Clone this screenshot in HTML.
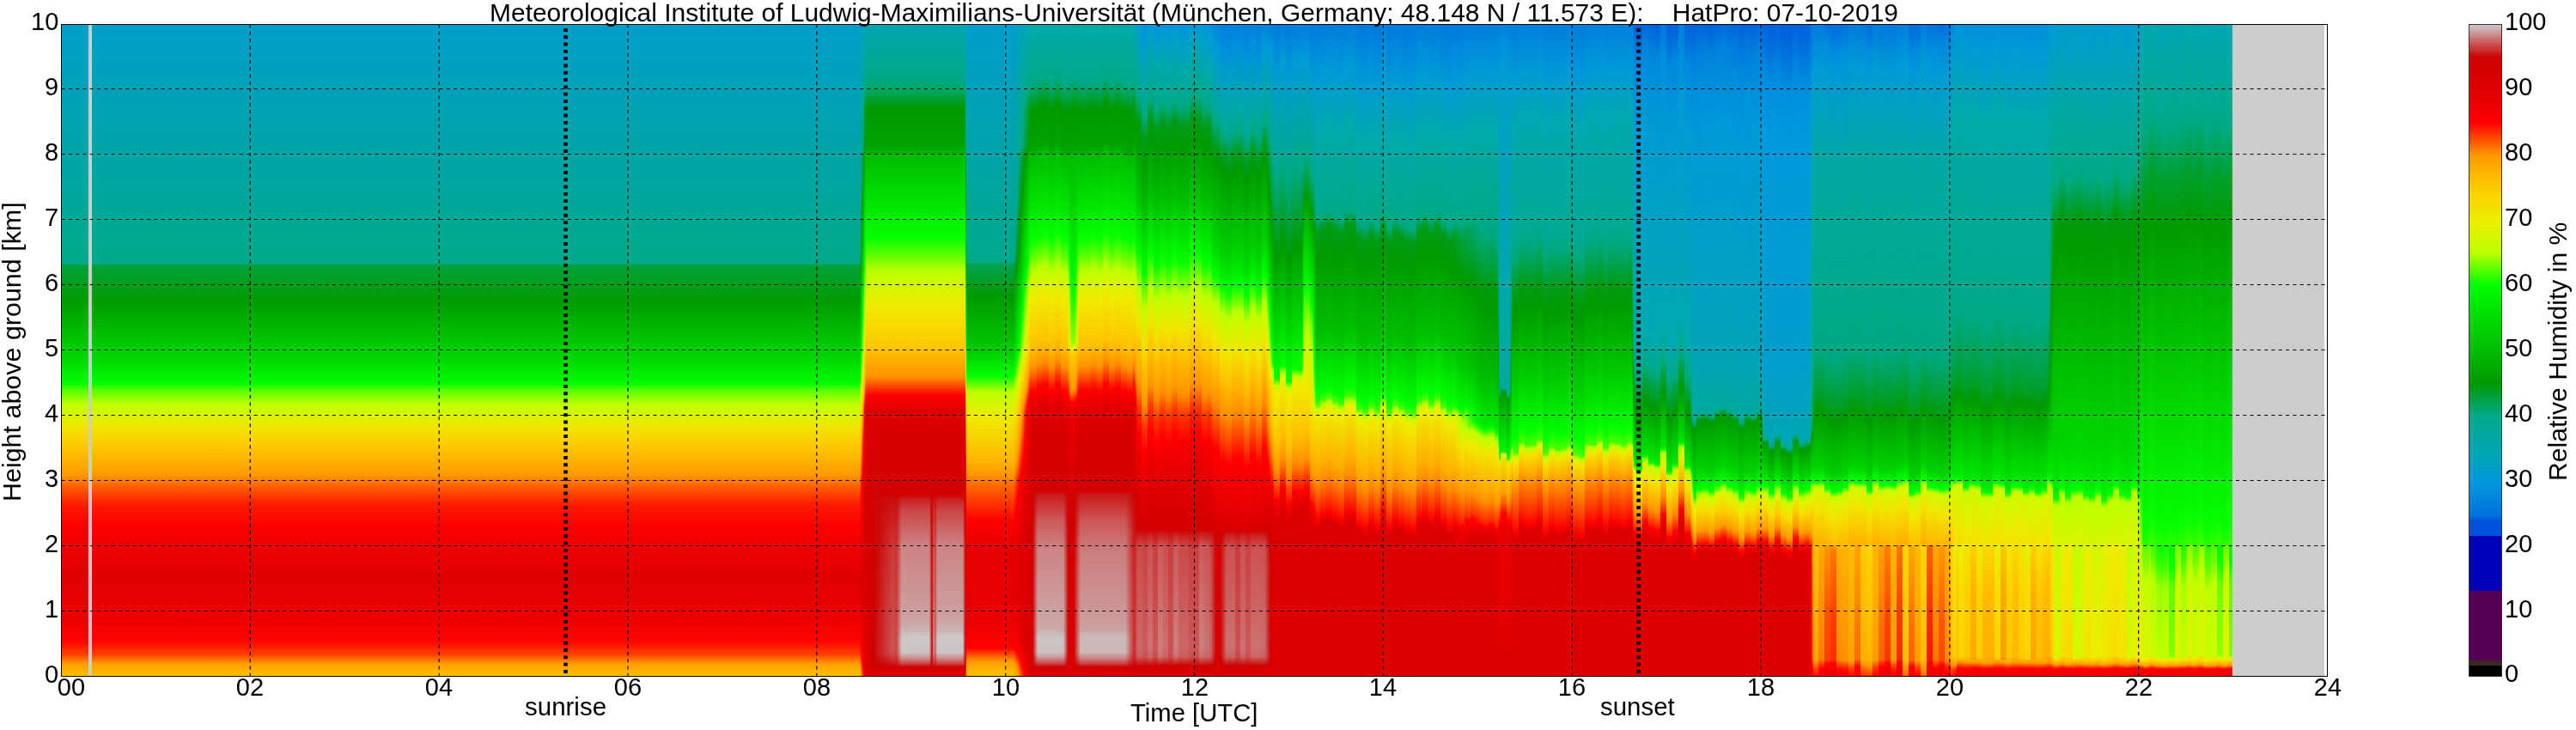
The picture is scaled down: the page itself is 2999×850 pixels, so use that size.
<!DOCTYPE html>
<html><head><meta charset="utf-8"><style>
html,body{margin:0;padding:0}
body{width:2999px;height:850px;overflow:hidden;background:#fff;position:relative;font-family:"Liberation Sans",sans-serif}
.t{position:absolute;white-space:nowrap;color:#000;font-size:29px;line-height:29px;transform-origin:0 0;will-change:transform}
.yl{right:2930.6px;text-align:right}
.xl{top:786px;width:100px;text-align:center}
.cl{left:2916px}
#hm{position:absolute;left:72px;top:29px;width:2637px;height:758px;overflow:hidden}
#hm i{position:absolute;top:0;height:758px;display:block}
#frame{position:absolute;left:71px;top:28px;width:2639px;height:760px;box-sizing:border-box;border:1px solid #000}
#cb{position:absolute;left:2874px;top:28px;width:39px;height:760px;box-sizing:border-box;border:1px solid #333;background:linear-gradient(#ccc9c9 0px,#cc0202 37.5px,#e40000 83.5px,#f00 113.5px,#ff9a00 152.5px,#fbd300 197.5px,#eaef00 230.5px,#baff00 265.5px,#0f0 303.5px,#009902 417.5px,#00aa89 455.5px,#00a7b5 500.5px,#0097dd 532.5px,#0074dd 569.5px,#0061dd 575.5px,#0050dd 576.5px,#0050dd 594.5px,#00b 595.5px,#00b 658.5px,#505 659.5px,#505 739.5px,#3a2a20 740.5px,#3a2a20 745.5px,#000 746.5px,#000 758px)}
svg{position:absolute;left:0;top:0}
</style></head><body>
<div id="hm">
<i style="left:0px;width:400px;background:linear-gradient(#009fca 0px,#00aa8e 261.5px,#0a8 277.5px,#00a13c 280.5px,#009c00 320.5px,#00d900 390.5px,#00fe00 417.5px,#50ff00 424.5px,#befe00 441.5px,#f2e600 467.5px,#ffbe00 498.5px,#ff9c00 523.5px,#ff5900 539.5px,#ff1b00 558.5px,#fb0000 583.5px,#df0000 642.5px,#ed0000 693.5px,#ff0600 718.5px,#ff4300 733.5px,#ff9b00 743.5px,#ffc000 758px)"></i>
<i style="left:400px;width:400px;background:linear-gradient(#009fca 0px,#00aa8e 261.5px,#0a8 277.5px,#00a13c 280.5px,#009c00 320.5px,#00d900 390.5px,#00fe00 417.5px,#50ff00 424.5px,#befe00 441.5px,#f2e600 467.5px,#ffbe00 498.5px,#ff9c00 523.5px,#ff5900 539.5px,#ff1b00 558.5px,#fb0000 583.5px,#df0000 642.5px,#ed0000 693.5px,#ff0600 718.5px,#ff4300 733.5px,#ff9b00 743.5px,#ffc000 758px)"></i>
<i style="left:800px;width:129px;background:linear-gradient(#009fca 0px,#00aa8e 261.5px,#0a8 277.5px,#00a13c 280.5px,#009c00 320.5px,#00d900 390.5px,#00fe00 417.5px,#50ff00 424.5px,#befe00 441.5px,#f2e600 467.5px,#ffbe00 498.5px,#ff9c00 523.5px,#ff5900 539.5px,#ff1b00 558.5px,#fb0000 583.5px,#df0000 642.5px,#ed0000 693.5px,#ff0600 718.5px,#ff4300 733.5px,#ff9b00 743.5px,#ffc000 758px)"></i>
<i style="left:929px;width:1px;background:linear-gradient(#00a0c8 0px,#00aa87 251.5px,#00a45a 277.5px,#009b13 280.5px,#009a00 293.5px,#00d500 378.5px,#03ff00 413.5px,#89ff00 424.5px,#bdfe00 433.5px,#f1e700 460.5px,#ffb800 493.5px,#ff9700 520.5px,#f50 533.5px,#ff0800 558.5px,#f40000 588.5px,#d00 655.5px,#f10000 702.5px,#ff0400 722.5px,#ff2e00 733.5px,#ff9a00 746.5px,#ffb600 758px)"></i>
<i style="left:930px;width:1px;background:linear-gradient(#00a1c5 0px,#00a982 199.5px,#00a03a 246.5px,#009e00 278.5px,#00ac00 283.5px,#00ec00 378.5px,#05ff00 394.5px,#70ff00 412.5px,#befe00 419.5px,#f2e600 445.5px,#fa0 483.5px,#ff8f00 506.5px,#ff6800 518.5px,#ff2400 533.5px,#fe0000 547.5px,#dc0000 647.5px,#ea0000 699.5px,#ff0600 733.5px,#ff9b00 754.5px,#ffa200 758px)"></i>
<i style="left:931px;width:1px;background:linear-gradient(#00a2c1 0px,#00aa93 122.5px,#00aa89 147.5px,#00a66c 163.5px,#009b00 236.5px,#00b500 278.5px,#00c200 286.5px,#05ff00 374.5px,#bf0 405.5px,#f0ea00 428.5px,#ffba00 459.5px,#ff9000 481.5px,#ff6800 495.5px,#ff2d00 518.5px,#fe0000 530.5px,#db0000 636.5px,#e50000 700.5px,#ff0200 739.5px,#f70 758px)"></i>
<i style="left:932px;width:1px;background:linear-gradient(#00a3be 0px,#00aa89 116.5px,#00a97c 142.5px,#00a143 150.5px,#009b00 195.5px,#00cb00 278.5px,#00df00 297.5px,#05ff00 343.5px,#74ff00 371.5px,#bdfe00 385.5px,#f2e600 418.5px,#ffb900 441.5px,#ff8e00 463.5px,#ff3500 487.5px,#fd0000 517.5px,#e50000 576.5px,#db0000 680.5px,#f80000 742.5px,#ff0400 748.5px,#ff3a00 758px)"></i>
<i style="left:933px;width:1px;background:linear-gradient(#00a5ba 0px,#00aa85 89.5px,#00a66b 99.5px,#00a350 142.5px,#009a09 150.5px,#009e00 165.5px,#00e100 278.5px,#04ff00 311.5px,#bcff00 359.5px,#f1e700 401.5px,#fb0 428.5px,#ff9500 441.5px,#f60 447.5px,#fe0000 482.5px,#d00 573.5px,#de0000 710.5px,#f50000 749.5px,#fe0000 758px)"></i>
<i style="left:934px;width:1px;background:linear-gradient(#00a6b7 0px,#00aa84 79.5px,#00a140 98.5px,#009e25 142.5px,#009903 145.5px,#0a0 158.5px,#00fa00 279.5px,#0aff00 285.5px,#a0ff00 318.5px,#befe00 328.5px,#f3e400 382.5px,#ffbf00 413.5px,#ff9300 430.5px,#ff0200 446.5px,#d90000 556.5px,#df0000 738.5px,#f10000 758px)"></i>
<i style="left:935px;width:1px;background:linear-gradient(#00a7b3 0px,#00a97f 72.5px,#009c15 98.5px,#009e00 143.5px,#00b600 153.5px,#02ff00 261.5px,#5cff00 279.5px,#bdfe00 298.5px,#f0ea00 348.5px,#ffbf00 392.5px,#f90 415.5px,#ff1900 433.5px,#fe0000 436.5px,#e70000 450.5px,#d50000 592.5px,#df0000 753.5px,#e30000 758px)"></i>
<i style="left:936px;width:7px;background:linear-gradient(#00a7b2 0px,#00a981 65.5px,#00a55c 77.5px,#090 97.5px,#00a400 143.5px,#00bd00 152.5px,#05ff00 247.5px,#57ff00 266.5px,#bdfe00 287.5px,#efec00 326.5px,#ffc600 375.5px,#ff9200 409.5px,#fe0000 431.5px,#d00 449.5px,#d50000 649.5px,#d00 758px)"></i>
<i style="left:943px;width:3px;background:linear-gradient(#00a7b2 0px,#00a981 65.5px,#00a55c 77.5px,#090 97.5px,#00a400 143.5px,#00bd00 152.5px,#05ff00 247.5px,#57ff00 266.5px,#bdfe00 287.5px,#efec00 326.5px,#ffc600 375.5px,#ff9200 409.5px,#fe0000 431.5px,#d00 449.5px,#cc0303 602.5px,#c00 747.5px,#d90000 748.5px,#d00 758px)"></i>
<i style="left:946px;width:3px;background:linear-gradient(#00a7b2 0px,#00a981 65.5px,#00a55c 77.5px,#090 97.5px,#00a400 143.5px,#00bd00 152.5px,#05ff00 247.5px,#57ff00 266.5px,#bdfe00 287.5px,#efec00 326.5px,#ffc600 375.5px,#ff9200 409.5px,#fe0000 431.5px,#d00 449.5px,#cc0808 582.5px,#cc0b0b 737.5px,#c00 747.5px,#d90000 748.5px,#d00 758px)"></i>
<i style="left:949px;width:3px;background:linear-gradient(#00a7b2 0px,#00a981 65.5px,#00a55c 77.5px,#090 97.5px,#00a400 143.5px,#00bd00 152.5px,#05ff00 247.5px,#57ff00 266.5px,#bdfe00 287.5px,#efec00 326.5px,#ffc600 375.5px,#ff9200 409.5px,#fe0000 431.5px,#d00 449.5px,#cc0606 556.5px,#cc1919 731.5px,#cc0101 747.5px,#d90000 748.5px,#d00 758px)"></i>
<i style="left:952px;width:3px;background:linear-gradient(#00a7b2 0px,#00a981 65.5px,#00a55c 77.5px,#090 97.5px,#00a400 143.5px,#00bd00 152.5px,#05ff00 247.5px,#57ff00 266.5px,#bdfe00 287.5px,#efec00 326.5px,#ffc600 375.5px,#ff9200 409.5px,#fe0000 431.5px,#d00 449.5px,#d30000 546.5px,#cc0707 554.5px,#cc1a1a 638.5px,#c22 732.5px,#cc0101 747.5px,#d90000 748.5px,#d00 758px)"></i>
<i style="left:955px;width:3px;background:linear-gradient(#00a7b2 0px,#00a981 65.5px,#00a55c 77.5px,#090 97.5px,#00a400 143.5px,#00bd00 152.5px,#05ff00 247.5px,#57ff00 266.5px,#bdfe00 287.5px,#efec00 326.5px,#ffc600 375.5px,#ff9200 409.5px,#fe0000 431.5px,#d00 449.5px,#d30000 546.5px,#cc0909 554.5px,#cc2121 625.5px,#cc2e2e 731.5px,#cc0101 747.5px,#d90000 748.5px,#d00 758px)"></i>
<i style="left:958px;width:3px;background:linear-gradient(#00a7b2 0px,#00a981 65.5px,#00a55c 77.5px,#090 97.5px,#00a400 143.5px,#00bd00 152.5px,#05ff00 247.5px,#57ff00 266.5px,#bdfe00 287.5px,#efec00 326.5px,#ffc600 375.5px,#ff9200 409.5px,#fe0000 431.5px,#d00 449.5px,#d30000 546.5px,#cc0b0b 554.5px,#cc2727 616.5px,#cc3939 708.5px,#cc3636 732.5px,#cc0707 746.5px,#cc0202 747.5px,#d90000 748.5px,#d00 758px)"></i>
<i style="left:961px;width:3px;background:linear-gradient(#00a7b2 0px,#00a981 65.5px,#00a55c 77.5px,#090 97.5px,#00a400 143.5px,#00bd00 152.5px,#05ff00 247.5px,#57ff00 266.5px,#bdfe00 287.5px,#efec00 326.5px,#ffc600 375.5px,#ff9200 409.5px,#fe0000 431.5px,#d00 449.5px,#d30000 546.5px,#cc0e0e 554.5px,#cc2e2e 611.5px,#cc4040 706.5px,#cc4242 731.5px,#cc0d0d 745.5px,#cc0202 747.5px,#d90000 748.5px,#d00 758px)"></i>
<i style="left:964px;width:3px;background:linear-gradient(#00a7b2 0px,#00a981 65.5px,#00a55c 77.5px,#090 97.5px,#00a400 143.5px,#00bd00 152.5px,#05ff00 247.5px,#57ff00 266.5px,#bdfe00 287.5px,#efec00 326.5px,#ffc600 375.5px,#ff9200 409.5px,#fe0000 431.5px,#d00 449.5px,#d30000 546.5px,#cc1010 554.5px,#cc3535 608.5px,#cc4949 705.5px,#cc5151 727.5px,#cc3838 737.5px,#cc0202 747.5px,#d90000 748.5px,#d00 758px)"></i>
<i style="left:967px;width:3px;background:linear-gradient(#00a7b2 0px,#00a981 65.5px,#00a55c 77.5px,#090 97.5px,#00a400 143.5px,#00bd00 152.5px,#05ff00 247.5px,#57ff00 266.5px,#bdfe00 287.5px,#efec00 326.5px,#ffc600 375.5px,#ff9200 409.5px,#fe0000 431.5px,#d00 449.5px,#d30000 546.5px,#cc1010 554.5px,#cc3838 607.5px,#cc4d4d 705.5px,#c55 724.5px,#cc4b4b 733.5px,#cc1010 745.5px,#cc0303 747.5px,#d90000 748.5px,#d00 758px)"></i>
<i style="left:970px;width:2px;background:linear-gradient(#00a7b2 0px,#00a981 65.5px,#00a55c 77.5px,#090 97.5px,#00a400 143.5px,#00bd00 152.5px,#05ff00 247.5px,#57ff00 266.5px,#bdfe00 287.5px,#efec00 326.5px,#ffc600 375.5px,#ff9200 409.5px,#fe0000 431.5px,#d00 449.5px,#d30000 546.5px,#cc0e0e 554.5px,#cc3030 611.5px,#cc4343 706.5px,#c44 731.5px,#cc0e0e 745.5px,#cc0202 747.5px,#d90000 748.5px,#d00 758px)"></i>
<i style="left:972px;width:1px;background:linear-gradient(#00a7b2 0px,#00a981 65.5px,#00a55c 77.5px,#090 97.5px,#00a400 143.5px,#00bd00 152.5px,#05ff00 247.5px,#57ff00 266.5px,#bdfe00 287.5px,#efec00 326.5px,#ffc600 375.5px,#ff9200 409.5px,#fe0000 431.5px,#d00 449.5px,#d30000 546.5px,#c11 554.5px,#cc3b3b 606.5px,#cc5151 705.5px,#cc5a5a 722.5px,#cc5252 732.5px,#cc1818 744.5px,#cc0303 747.5px,#d90000 748.5px,#d00 758px)"></i>
<i style="left:973px;width:1px;background:linear-gradient(#00a7b2 0px,#00a981 65.5px,#00a55c 77.5px,#090 97.5px,#00a400 143.5px,#00bd00 152.5px,#05ff00 247.5px,#57ff00 266.5px,#bdfe00 287.5px,#efec00 326.5px,#ffc600 375.5px,#ff9200 409.5px,#fe0000 431.5px,#d00 449.5px,#d30000 546.5px,#cc1515 554.5px,#cc3e3e 591.5px,#cc4e4e 652.5px,#cc6565 706.5px,#cc6e6e 720.5px,#cc6868 731.5px,#cc2727 743.5px,#cc0303 747.5px,#d90000 748.5px,#d00 758px)"></i>
<i style="left:974px;width:1px;background:linear-gradient(#00a7b2 0px,#00a981 65.5px,#00a55c 77.5px,#090 97.5px,#00a400 143.5px,#00bd00 152.5px,#05ff00 247.5px,#57ff00 266.5px,#bdfe00 287.5px,#efec00 326.5px,#ffc600 375.5px,#ff9200 409.5px,#fe0000 431.5px,#d00 449.5px,#d30000 546.5px,#cc1919 554.5px,#cc3e3e 579.5px,#cc5656 617.5px,#cc7070 703.5px,#cc8282 714.5px,#cc7f7f 730.5px,#cc4545 740.5px,#cc0404 747.5px,#d90000 748.5px,#d00 758px)"></i>
<i style="left:975px;width:1px;background:linear-gradient(#00a7b2 0px,#00a981 65.5px,#00a55c 77.5px,#090 97.5px,#00a400 143.5px,#00bd00 152.5px,#05ff00 247.5px,#57ff00 266.5px,#bdfe00 287.5px,#efec00 326.5px,#ffc600 375.5px,#ff9200 409.5px,#fe0000 431.5px,#d00 449.5px,#d30000 546.5px,#cc1d1d 554.5px,#cc3d3d 571.5px,#cc6363 613.5px,#cc8181 703.5px,#cc9696 713.5px,#cc9393 730.5px,#cc6060 738.5px,#cc2929 744.5px,#cc0404 747.5px,#d90000 748.5px,#d00 758px)"></i>
<i style="left:976px;width:1px;background:linear-gradient(#00a7b2 0px,#00a981 65.5px,#00a55c 77.5px,#090 97.5px,#00a400 143.5px,#00bd00 152.5px,#05ff00 247.5px,#57ff00 266.5px,#bdfe00 287.5px,#efec00 326.5px,#ffc600 375.5px,#ff9200 409.5px,#fe0000 431.5px,#d00 449.5px,#d30000 546.5px,#cc2121 554.5px,#cc4040 568.5px,#cc7070 610.5px,#cc9090 701.5px,#caa 713.5px,#cca6a6 730.5px,#cc6d6d 738.5px,#cc2e2e 744.5px,#cc0505 747.5px,#d90000 748.5px,#d00 758px)"></i>
<i style="left:977px;width:33px;background:linear-gradient(#00a7b2 0px,#00a981 65.5px,#00a55c 77.5px,#090 97.5px,#00a400 143.5px,#00bd00 152.5px,#05ff00 247.5px,#57ff00 266.5px,#bdfe00 287.5px,#efec00 326.5px,#ffc600 375.5px,#ff9200 409.5px,#fe0000 431.5px,#d00 449.5px,#d30000 546.5px,#cc2727 554.5px,#cc4646 565.5px,#cc8282 606.5px,#cca2a2 691.5px,#ccb3b3 705.5px,#ccc8c8 712.5px,#ccc3c3 730.5px,#cc8a8a 737.5px,#cc4646 743.5px,#cc0606 747.5px,#d90000 748.5px,#d00 758px)"></i>
<i style="left:1010px;width:1px;background:linear-gradient(#00a7b2 0px,#00a981 65.5px,#00a55c 77.5px,#090 97.5px,#00a400 143.5px,#00bd00 152.5px,#05ff00 247.5px,#57ff00 266.5px,#bdfe00 287.5px,#efec00 326.5px,#ffc600 375.5px,#ff9200 409.5px,#fe0000 431.5px,#d00 449.5px,#d30000 546.5px,#cc2020 554.5px,#cc3f3f 568.5px,#cc6e6e 611.5px,#cc8e8e 702.5px,#cca7a7 713.5px,#cca3a3 730.5px,#cc6a6a 738.5px,#cc2d2d 744.5px,#cc0505 747.5px,#d90000 748.5px,#d00 758px)"></i>
<i style="left:1011px;width:1px;background:linear-gradient(#00a7b2 0px,#00a981 65.5px,#00a55c 77.5px,#090 97.5px,#00a400 143.5px,#00bd00 152.5px,#05ff00 247.5px,#57ff00 266.5px,#bdfe00 287.5px,#efec00 326.5px,#ffc600 375.5px,#ff9200 409.5px,#fe0000 431.5px,#d00 449.5px,#d30000 546.5px,#cc1313 554.5px,#cc4040 604.5px,#cc5858 704.5px,#cc6464 717.5px,#cc5e5e 731.5px,#cc2323 743.5px,#cc0303 747.5px,#d90000 748.5px,#d00 758px)"></i>
<i style="left:1012px;width:2px;background:linear-gradient(#00a7b2 0px,#00a981 65.5px,#00a55c 77.5px,#090 97.5px,#00a400 143.5px,#00bd00 152.5px,#05ff00 247.5px,#57ff00 266.5px,#bdfe00 287.5px,#efec00 326.5px,#ffc600 375.5px,#ff9200 409.5px,#fe0000 431.5px,#d00 449.5px,#cc0606 553.5px,#cc1919 638.5px,#cc2121 732.5px,#cc0101 747.5px,#d90000 748.5px,#d00 758px)"></i>
<i style="left:1014px;width:1px;background:linear-gradient(#00a7b2 0px,#00a981 65.5px,#00a55c 77.5px,#090 97.5px,#00a400 143.5px,#00bd00 152.5px,#05ff00 247.5px,#57ff00 266.5px,#bdfe00 287.5px,#efec00 326.5px,#ffc600 375.5px,#ff9200 409.5px,#fe0000 431.5px,#d00 449.5px,#d30000 546.5px,#cc1717 554.5px,#cc3f3f 585.5px,#cc5151 624.5px,#cc6a6a 704.5px,#cc7878 715.5px,#cc7171 731.5px,#c33 742.5px,#cc0404 747.5px,#d90000 748.5px,#d00 758px)"></i>
<i style="left:1015px;width:1px;background:linear-gradient(#00a7b2 0px,#00a981 65.5px,#00a55c 77.5px,#090 97.5px,#00a400 143.5px,#00bd00 152.5px,#05ff00 247.5px,#57ff00 266.5px,#bdfe00 287.5px,#efec00 326.5px,#ffc600 375.5px,#ff9200 409.5px,#fe0000 431.5px,#d00 449.5px,#d30000 546.5px,#cc1b1b 554.5px,#cc3d3d 574.5px,#cc5d5d 614.5px,#cc7979 703.5px,#cc8c8c 713.5px,#cc8989 730.5px,#cc5252 739.5px,#cc0f0f 746.5px,#cc0404 747.5px,#d90000 748.5px,#d00 758px)"></i>
<i style="left:1016px;width:1px;background:linear-gradient(#00a7b2 0px,#00a981 65.5px,#00a55c 77.5px,#090 97.5px,#00a400 143.5px,#00bd00 152.5px,#05ff00 247.5px,#57ff00 266.5px,#bdfe00 287.5px,#efec00 326.5px,#ffc600 375.5px,#ff9200 409.5px,#fe0000 431.5px,#d00 449.5px,#d30000 546.5px,#cc1313 554.5px,#cc4040 604.5px,#cc5858 704.5px,#cc6464 717.5px,#cc5e5e 731.5px,#cc2323 743.5px,#cc0303 747.5px,#d90000 748.5px,#d00 758px)"></i>
<i style="left:1017px;width:1px;background:linear-gradient(#00a7b2 0px,#00a981 65.5px,#00a55c 77.5px,#090 97.5px,#00a400 143.5px,#00bd00 152.5px,#05ff00 247.5px,#57ff00 266.5px,#bdfe00 287.5px,#efec00 326.5px,#ffc600 375.5px,#ff9200 409.5px,#fe0000 431.5px,#d00 449.5px,#d30000 546.5px,#cc1818 554.5px,#cc3f3f 582.5px,#cc5454 620.5px,#cc6e6e 704.5px,#cc7d7d 715.5px,#cc7a7a 730.5px,#cc4242 740.5px,#cc0404 747.5px,#d90000 748.5px,#d00 758px)"></i>
<i style="left:1018px;width:1px;background:linear-gradient(#00a7b2 0px,#00a981 65.5px,#00a55c 77.5px,#090 97.5px,#00a400 143.5px,#00bd00 152.5px,#05ff00 247.5px,#57ff00 266.5px,#bdfe00 287.5px,#efec00 326.5px,#ffc600 375.5px,#ff9200 409.5px,#fe0000 431.5px,#d00 449.5px,#d30000 546.5px,#c22 554.5px,#cc4141 567.5px,#cc7373 609.5px,#cc9393 699.5px,#ccafaf 713.5px,#ccabab 730.5px,#cc7070 738.5px,#cc2f2f 744.5px,#cc0505 747.5px,#d90000 748.5px,#d00 758px)"></i>
<i style="left:1019px;width:30px;background:linear-gradient(#00a7b2 0px,#00a981 65.5px,#00a55c 77.5px,#090 97.5px,#00a400 143.5px,#00bd00 152.5px,#05ff00 247.5px,#57ff00 266.5px,#bdfe00 287.5px,#efec00 326.5px,#ffc600 375.5px,#ff9200 409.5px,#fe0000 431.5px,#d00 449.5px,#d30000 546.5px,#cc2727 554.5px,#cc4646 565.5px,#cc8383 606.5px,#cca2a2 691.5px,#ccb4b4 705.5px,#ccc8c8 712.5px,#ccc4c4 730.5px,#cc8b8b 737.5px,#cc4646 743.5px,#cc0606 747.5px,#d90000 748.5px,#d00 758px)"></i>
<i style="left:1049px;width:1px;background:linear-gradient(#00a7b2 0px,#00a981 65.5px,#00a55c 77.5px,#090 97.5px,#00a400 143.5px,#00bd00 152.5px,#05ff00 247.5px,#57ff00 266.5px,#bdfe00 287.5px,#efec00 326.5px,#ffc600 375.5px,#ff9200 409.5px,#fe0000 431.5px,#d00 449.5px,#d30000 546.5px,#cc2020 554.5px,#cc3f3f 568.5px,#cc6e6e 611.5px,#cc8e8e 702.5px,#cca7a7 713.5px,#cca3a3 730.5px,#cc6a6a 738.5px,#cc2d2d 744.5px,#cc0505 747.5px,#d90000 748.5px,#d00 758px)"></i>
<i style="left:1050px;width:1px;background:linear-gradient(#00a7b2 0px,#00a981 65.5px,#00a55c 77.5px,#090 97.5px,#00a400 143.5px,#00bd00 152.5px,#05ff00 247.5px,#57ff00 266.5px,#bdfe00 287.5px,#efec00 326.5px,#ffc600 375.5px,#ff9200 409.5px,#fe0000 431.5px,#d00 449.5px,#d30000 546.5px,#cc1313 554.5px,#cc4040 604.5px,#cc5858 704.5px,#cc6464 717.5px,#cc5e5e 731.5px,#cc2323 743.5px,#cc0303 747.5px,#d90000 748.5px,#d00 758px)"></i>
<i style="left:1051px;width:1px;background:linear-gradient(#00a7b2 0px,#00a981 65.5px,#00a55c 77.5px,#090 97.5px,#00a400 143.5px,#00bd00 152.5px,#05ff00 247.5px,#57ff00 266.5px,#bdfe00 287.5px,#efec00 326.5px,#ffc600 375.5px,#ff9200 409.5px,#fe0000 431.5px,#d00 449.5px,#cc0606 554.5px,#cc1717 648.5px,#cc1d1d 733.5px,#cc0101 747.5px,#d90000 748.5px,#d00 758px)"></i>
<i style="left:1052px;width:1px;background:linear-gradient(#00a3bf 0px,#00aa8a 116.5px,#00a97c 142.5px,#00a143 150.5px,#009b00 195.5px,#00cb00 277.5px,#04ff00 347.5px,#70ff00 371.5px,#befe00 384.5px,#f3e400 414.5px,#ffac00 441.5px,#ff5400 480.5px,#fe0000 514.5px,#da0000 614.5px,#e40000 716.5px,#ff0300 745.5px,#ff3b00 758px)"></i>
<i style="left:1053px;width:55px;background:linear-gradient(#009ecd 0px,#00aa8b 275.5px,#00a351 279.5px,#009a00 316.5px,#00cb00 379.5px,#01ff00 408.5px,#bf0 427.5px,#f0ea00 458.5px,#ffb300 509.5px,#ff9300 525.5px,#ff6e00 534.5px,#fd0000 577.5px,#e40000 614.5px,#ea0000 692.5px,#ff0200 725.5px,#ff9d00 741.5px,#ffbc00 754.5px,#ffc100 758px)"></i>
<i style="left:1108px;width:1px;background:linear-gradient(#009fcc 0px,#00aa87 274.5px,#00a984 275.5px,#00a142 279.5px,#009a00 309.5px,#0c0 377.5px,#02ff00 406.5px,#bf0 425.5px,#f0e900 455.5px,#ffb200 508.5px,#ff9400 523.5px,#ff6800 533.5px,#fe0000 575.5px,#e30000 614.5px,#ea0000 693.5px,#ff0500 726.5px,#ff9d00 742.5px,#ffbd00 758px)"></i>
<i style="left:1109px;width:1px;background:linear-gradient(#009fca 0px,#00aa86 253.5px,#00a563 275.5px,#009d24 279.5px,#009a00 295.5px,#00d100 373.5px,#06ff00 402.5px,#bf0 421.5px,#efec00 446.5px,#ffb100 503.5px,#ff9000 520.5px,#ff5a00 532.5px,#fe0000 570.5px,#e20000 615.5px,#e90000 693.5px,#ff0200 727.5px,#ff7300 739.5px,#ff9e00 744.5px,#ffb600 758px)"></i>
<i style="left:1110px;width:1px;background:linear-gradient(#00a0c9 0px,#0a8 232.5px,#00a142 275.5px,#009a06 279.5px,#00d600 369.5px,#02ff00 397.5px,#bcff00 417.5px,#efec00 440.5px,#ffb400 494.5px,#ff9400 515.5px,#ff4800 532.5px,#fe0000 564.5px,#e10000 616.5px,#e80000 694.5px,#f00 728.5px,#ff6b00 740.5px,#ff9b00 745.5px,#ffaf00 758px)"></i>
<i style="left:1111px;width:1px;background:linear-gradient(#00a0c7 0px,#00aa85 213.5px,#009d22 275.5px,#009903 277.5px,#00eb00 380.5px,#0f0 392.5px,#bdfe00 413.5px,#f0ea00 436.5px,#ffb500 486.5px,#ff9200 511.5px,#ff3700 532.5px,#fe0000 558.5px,#df0000 617.5px,#e70000 695.5px,#ff0200 730.5px,#ff9500 747.5px,#ffa800 758px)"></i>
<i style="left:1112px;width:1px;background:linear-gradient(#00a1c5 0px,#00a983 193.5px,#009e26 256.5px,#009c00 276.5px,#00ad00 288.5px,#00f000 378.5px,#0f0 387.5px,#bf0 408.5px,#f1e800 432.5px,#ffb600 477.5px,#ff9100 506.5px,#ff2500 532.5px,#fe0000 551.5px,#de0000 618.5px,#e60000 696.5px,#ff0300 732.5px,#ff8100 747.5px,#ff9e00 755.5px,#ffa100 758px)"></i>
<i style="left:1113px;width:1px;background:linear-gradient(#00a2c3 0px,#00aa87 170.5px,#009e29 237.5px,#009b00 263.5px,#00a800 277.5px,#0f0 382.5px,#bdfe00 404.5px,#f1e700 428.5px,#ffb900 466.5px,#ff9000 499.5px,#ff1200 533.5px,#fd0000 545.5px,#d00 619.5px,#e50000 698.5px,#fd0000 732.5px,#ff0a00 735.5px,#ff6c00 747.5px,#ff9a00 758px)"></i>
<i style="left:1114px;width:1px;background:linear-gradient(#00a2c1 0px,#00aa8b 148.5px,#009d21 225.5px,#009b00 247.5px,#00b000 277.5px,#02ff00 377.5px,#bdfe00 399.5px,#f2e700 424.5px,#ffb700 458.5px,#ff9100 491.5px,#ff3500 518.5px,#f00 533.5px,#dc0000 619.5px,#e50000 700.5px,#fb0000 733.5px,#ff0a00 737.5px,#ff5700 747.5px,#ff8600 758px)"></i>
<i style="left:1115px;width:1px;background:linear-gradient(#00a3bf 0px,#00aa91 127.5px,#00aa89 146.5px,#00a772 153.5px,#009b00 231.5px,#00b700 277.5px,#04ff00 369.5px,#49ff00 380.5px,#bdfe00 394.5px,#f1e800 419.5px,#ffb500 451.5px,#ff9100 482.5px,#ff2400 517.5px,#fe0000 528.5px,#dc0000 620.5px,#e40000 704.5px,#f90000 734.5px,#ff0800 739.5px,#ff4700 748.5px,#ff7000 758px)"></i>
<i style="left:1116px;width:1px;background:linear-gradient(#00a3be 0px,#00aa8e 124.5px,#00aa86 144.5px,#00a560 151.5px,#009b00 216.5px,#00bf00 277.5px,#03ff00 359.5px,#5fff00 377.5px,#bdfe00 389.5px,#f1e800 414.5px,#ffb200 445.5px,#ff8f00 473.5px,#ff1000 517.5px,#fc0000 525.5px,#db0000 620.5px,#e40000 708.5px,#f80000 736.5px,#ff0300 741.5px,#ff3600 749.5px,#ff5b00 758px)"></i>
<i style="left:1117px;width:1px;background:linear-gradient(#00a4bc 0px,#00aa8b 121.5px,#00aa84 142.5px,#00a34d 150.5px,#009a00 202.5px,#00c700 277.5px,#0f0 347.5px,#6cff00 371.5px,#befe00 384.5px,#f2e700 410.5px,#ffad00 442.5px,#ff8a00 464.5px,#fd0000 518.5px,#db0000 618.5px,#e40000 714.5px,#ff0600 744.5px,#ff4600 758px)"></i>
<i style="left:1118px;width:1px;background:linear-gradient(#00a5ba 0px,#00a875 142.5px,#00a039 150.5px,#009a00 187.5px,#00cf00 277.5px,#03ff00 336.5px,#94ff00 370.5px,#c0fd00 379.5px,#f2e700 405.5px,#ffb000 435.5px,#fd0000 511.5px,#da0000 607.5px,#e40000 719.5px,#ff0300 747.5px,#ff3000 758px)"></i>
<i style="left:1119px;width:1px;background:linear-gradient(#00a5b8 0px,#00aa8d 88.5px,#00a665 142.5px,#009e25 150.5px,#009b00 174.5px,#00d700 277.5px,#05ff00 322.5px,#72ff00 352.5px,#bffe00 371.5px,#f2e600 400.5px,#ffb300 429.5px,#ff9400 442.5px,#ff7400 449.5px,#fe0000 502.5px,#dc0000 588.5px,#e10000 718.5px,#ff0500 752.5px,#ff1b00 758px)"></i>
<i style="left:1120px;width:1px;background:linear-gradient(#00a6b6 0px,#00aa8e 83.5px,#00a87c 94.5px,#00a456 142.5px,#009b10 150.5px,#009c00 164.5px,#00de00 277.5px,#02ff00 309.5px,#4bff00 329.5px,#befe00 361.5px,#f3e400 396.5px,#ffaf00 426.5px,#ff9300 437.5px,#ff5600 448.5px,#fe0000 490.5px,#d00 578.5px,#e00000 722.5px,#ff0500 758px)"></i>
<i style="left:1121px;width:1px;background:linear-gradient(#00a7b4 0px,#00aa8d 80.5px,#00a97e 89.5px,#00a563 99.5px,#00a247 142.5px,#009902 149.5px,#00e600 277.5px,#05ff00 301.5px,#4fff00 316.5px,#bdfe00 349.5px,#f3e400 390.5px,#ffa900 424.5px,#ff9200 432.5px,#ff3900 447.5px,#fe0000 478.5px,#dc0000 571.5px,#df0000 726.5px,#fb0000 758px)"></i>
<i style="left:1122px;width:1px;background:linear-gradient(#00a7b3 0px,#00aa8d 77.5px,#00a87b 86.5px,#00a454 98.5px,#00a038 142.5px,#009903 147.5px,#00f000 278.5px,#04ff00 293.5px,#7eff00 316.5px,#bdfe00 336.5px,#f3e400 384.5px,#ffa900 419.5px,#ff8e00 428.5px,#ff1800 447.5px,#fe0000 463.5px,#db0000 565.5px,#df0000 730.5px,#f70000 758px)"></i>
<i style="left:1123px;width:1px;background:linear-gradient(#00a8b1 0px,#00aa8c 75.5px,#00a879 83.5px,#00a245 98.5px,#009e28 142.5px,#009a00 146.5px,#00ab00 162.5px,#00f900 279.5px,#07ff00 286.5px,#af0 315.5px,#bffe00 324.5px,#f2e500 377.5px,#fa0 413.5px,#ff9100 423.5px,#f00 445.5px,#da0000 557.5px,#df0000 735.5px,#f20000 758px)"></i>
<i style="left:1124px;width:1px;background:linear-gradient(#00a8af 0px,#00aa8b 73.5px,#00a770 82.5px,#00a035 98.5px,#009c19 142.5px,#009901 144.5px,#00ac00 155.5px,#0f0 278.5px,#bcfe00 310.5px,#f4e200 372.5px,#ffad00 406.5px,#ff8e00 418.5px,#f00 440.5px,#d00 520.5px,#db0000 727.5px,#ed0000 758px)"></i>
<i style="left:1125px;width:1px;background:linear-gradient(#00a9ad 0px,#00aa8b 70.5px,#00a879 77.5px,#009e26 98.5px,#009a0a 142.5px,#009d00 144.5px,#00b100 154.5px,#06ff00 272.5px,#bcff00 302.5px,#ee0 347.5px,#ffc700 386.5px,#ff9000 412.5px,#fe0000 436.5px,#ec0000 457.5px,#d70000 579.5px,#e00000 748.5px,#e80000 758px)"></i>
<i style="left:1126px;width:1px;background:linear-gradient(#00aaab 0px,#00aa8a 68.5px,#00a665 79.5px,#009c16 98.5px,#009e00 143.5px,#00b500 153.5px,#03ff00 262.5px,#5aff00 279.5px,#bcff00 295.5px,#e7f000 326.5px,#ffca00 378.5px,#ff8f00 406.5px,#ff0800 429.5px,#f60000 436.5px,#e50000 456.5px,#d50000 606.5px,#df0000 752.5px,#e40000 758px)"></i>
<i style="left:1127px;width:1px;background:linear-gradient(#0aa 0px,#00aa89 66.5px,#00a34f 81.5px,#009a07 97.5px,#00a200 143.5px,#00ba00 152.5px,#06ff00 253.5px,#90ff00 281.5px,#bdfe00 289.5px,#eeed00 321.5px,#ffc400 374.5px,#ff9300 399.5px,#fe0000 426.5px,#df0000 452.5px,#d50000 631.5px,#de0000 756.5px,#df0000 758px)"></i>
<i style="left:1128px;width:2px;background:linear-gradient(#0aa 0px,#00aa89 67.5px,#00a144 84.5px,#090 99.5px,#00a400 145.5px,#00bd00 154.5px,#05ff00 249.5px,#5dff00 269.5px,#befe00 288.5px,#efeb00 319.5px,#ffc300 373.5px,#ff9100 398.5px,#fd0000 426.5px,#dc0000 453.5px,#d50000 653.5px,#d00 758px)"></i>
<i style="left:1130px;width:1px;background:linear-gradient(#0aa 0px,#00aa89 67.5px,#00a144 84.5px,#090 99.5px,#00a400 145.5px,#00bd00 154.5px,#05ff00 249.5px,#5dff00 269.5px,#befe00 288.5px,#efeb00 319.5px,#ffc300 373.5px,#ff9100 398.5px,#fd0000 426.5px,#dc0000 453.5px,#cc0909 589.5px,#cc0b0b 738.5px,#c00 747.5px,#d90000 748.5px,#d00 758px)"></i>
<i style="left:1131px;width:1px;background:linear-gradient(#0aa 0px,#00aa89 67.5px,#00a144 84.5px,#090 99.5px,#00a400 145.5px,#00bd00 154.5px,#05ff00 249.5px,#5dff00 269.5px,#befe00 288.5px,#efeb00 319.5px,#ffc300 373.5px,#ff9100 398.5px,#fd0000 426.5px,#dc0000 453.5px,#d30000 542.5px,#cc0707 547.5px,#cc2121 621.5px,#cc2e2e 731.5px,#cc0101 747.5px,#d90000 748.5px,#d00 758px)"></i>
<i style="left:1132px;width:1px;background:linear-gradient(#0aa 0px,#00aa89 67.5px,#00a144 84.5px,#090 99.5px,#00a400 145.5px,#00bd00 154.5px,#05ff00 249.5px,#5dff00 269.5px,#befe00 288.5px,#efeb00 319.5px,#ffc300 373.5px,#ff9100 398.5px,#fd0000 426.5px,#dc0000 453.5px,#d30000 542.5px,#cc0b0b 547.5px,#cc3737 608.5px,#cc4b4b 706.5px,#cc5050 730.5px,#cc2323 742.5px,#cc0202 747.5px,#d90000 748.5px,#d00 758px)"></i>
<i style="left:1133px;width:1px;background:linear-gradient(#0aa 0px,#00aa89 67.5px,#00a144 84.5px,#090 99.5px,#00a400 145.5px,#00bd00 154.5px,#05ff00 249.5px,#5dff00 269.5px,#befe00 288.5px,#efeb00 319.5px,#ffc300 373.5px,#ff9100 398.5px,#fd0000 426.5px,#dc0000 453.5px,#d30000 542.5px,#cc1010 547.5px,#c44 595.5px,#c66 705.5px,#cc7272 716.5px,#cc6c6c 731.5px,#cc3838 741.5px,#cc0303 747.5px,#d90000 748.5px,#d00 758px)"></i>
<i style="left:1134px;width:1px;background:linear-gradient(#0aa 0px,#00aa89 67.5px,#00a144 84.5px,#090 99.5px,#00a400 145.5px,#00bd00 154.5px,#05ff00 249.5px,#5dff00 269.5px,#befe00 288.5px,#efeb00 319.5px,#ffc300 373.5px,#ff9100 398.5px,#fd0000 426.5px,#dc0000 453.5px,#d30000 542.5px,#cc1414 547.5px,#cc4e4e 584.5px,#cc6464 617.5px,#cc8181 704.5px,#cc9393 713.5px,#cc9090 730.5px,#cc6868 737.5px,#cc2929 744.5px,#cc0404 747.5px,#d90000 748.5px,#d00 758px)"></i>
<i style="left:1135px;width:1px;background:linear-gradient(#00aaa8 0px,#0a8 63.5px,#00a143 80.5px,#090 95.5px,#00a500 141.5px,#00bd00 150.5px,#06ff00 245.5px,#5eff00 265.5px,#bdfe00 283.5px,#efeb00 315.5px,#ffc300 369.5px,#ff9000 394.5px,#f00 421.5px,#dc0000 449.5px,#d30000 542.5px,#cc1818 547.5px,#cc5454 577.5px,#cc7979 612.5px,#cc9a9a 703.5px,#ccb4b4 712.5px,#ccb0b0 730.5px,#cc7f7f 737.5px,#cc3232 744.5px,#cc0505 747.5px,#d90000 748.5px,#d00 758px)"></i>
<i style="left:1136px;width:6px;background:linear-gradient(#00aaa8 0px,#0a8 63.5px,#00a143 80.5px,#090 95.5px,#00a500 141.5px,#00bd00 150.5px,#06ff00 245.5px,#5eff00 265.5px,#bdfe00 283.5px,#efeb00 315.5px,#ffc300 369.5px,#ff9000 394.5px,#f00 421.5px,#dc0000 449.5px,#d30000 542.5px,#cc1b1b 547.5px,#cc5656 574.5px,#cc8484 611.5px,#cca8a8 703.5px,#ccc4c4 712.5px,#ccc0c0 730.5px,#cc9595 736.5px,#cc4646 743.5px,#cc0606 747.5px,#d90000 748.5px,#d00 758px)"></i>
<i style="left:1142px;width:7px;background:linear-gradient(#00aaa7 0px,#0a8 61.5px,#00a13d 79.5px,#090 93.5px,#00a600 139.5px,#00bd00 148.5px,#03ff00 242.5px,#5aff00 262.5px,#b5ff00 279.5px,#efec00 312.5px,#ffc200 367.5px,#ff9400 391.5px,#fe0000 419.5px,#d00 446.5px,#d30000 542.5px,#cc1b1b 547.5px,#cc5656 574.5px,#cc8484 611.5px,#cca8a8 703.5px,#ccc4c4 712.5px,#ccc0c0 730.5px,#cc9595 736.5px,#cc4646 743.5px,#cc0606 747.5px,#d90000 748.5px,#d00 758px)"></i>
<i style="left:1149px;width:7px;background:linear-gradient(#0aa 0px,#0a8 67.5px,#009e29 89.5px,#090 99.5px,#00a300 144.5px,#00bd00 154.5px,#04ff00 248.5px,#56ff00 267.5px,#befe00 287.5px,#efeb00 318.5px,#ffc200 373.5px,#ff9300 397.5px,#fe0000 425.5px,#d00 452.5px,#d30000 542.5px,#cc1b1b 547.5px,#cc5656 574.5px,#cc8484 611.5px,#cca8a8 703.5px,#ccc4c4 712.5px,#ccc0c0 730.5px,#cc9595 736.5px,#cc4646 743.5px,#cc0606 747.5px,#d90000 748.5px,#d00 758px)"></i>
<i style="left:1156px;width:7px;background:linear-gradient(#00aaa7 0px,#0a8 60.5px,#00a038 79.5px,#090 92.5px,#00a600 138.5px,#00bd00 147.5px,#03ff00 241.5px,#5aff00 261.5px,#bdfe00 280.5px,#efeb00 312.5px,#ffc200 366.5px,#ff9400 390.5px,#fe0000 418.5px,#d00 445.5px,#d30000 542.5px,#cc1b1b 547.5px,#cc5656 574.5px,#cc8484 611.5px,#cca8a8 703.5px,#ccc4c4 712.5px,#ccc0c0 730.5px,#cc9595 736.5px,#cc4646 743.5px,#cc0606 747.5px,#d90000 748.5px,#d00 758px)"></i>
<i style="left:1163px;width:3px;background:linear-gradient(#0aa 0px,#00aa89 67.5px,#00a144 84.5px,#090 99.5px,#00a400 145.5px,#00bd00 154.5px,#05ff00 249.5px,#5cff00 269.5px,#befe00 288.5px,#efeb00 319.5px,#ffc300 373.5px,#ff9100 398.5px,#fe0000 426.5px,#dc0000 453.5px,#d30000 542.5px,#cc1b1b 547.5px,#cc5656 574.5px,#cc8484 611.5px,#cca8a8 703.5px,#ccc4c4 712.5px,#ccc0c0 730.5px,#cc9595 736.5px,#cc4646 743.5px,#cc0606 747.5px,#d90000 748.5px,#d00 758px)"></i>
<i style="left:1166px;width:1px;background:linear-gradient(#0aa 0px,#00aa89 67.5px,#00a144 84.5px,#090 99.5px,#00a400 145.5px,#00bd00 154.5px,#05ff00 249.5px,#5cff00 269.5px,#befe00 288.5px,#efeb00 319.5px,#ffc300 373.5px,#ff9100 398.5px,#fe0000 426.5px,#dc0000 453.5px,#d30000 542.5px,#cc1818 547.5px,#cc5454 577.5px,#cc7979 612.5px,#cc9a9a 703.5px,#ccb4b4 712.5px,#ccb0b0 730.5px,#cc7f7f 737.5px,#cc3232 744.5px,#cc0505 747.5px,#d90000 748.5px,#d00 758px)"></i>
<i style="left:1167px;width:1px;background:linear-gradient(#0aa 0px,#00aa89 67.5px,#00a144 84.5px,#090 99.5px,#00a400 145.5px,#00bd00 154.5px,#05ff00 249.5px,#5cff00 269.5px,#befe00 288.5px,#efeb00 319.5px,#ffc300 373.5px,#ff9100 398.5px,#fe0000 426.5px,#dc0000 453.5px,#d30000 542.5px,#cc1414 547.5px,#cc4e4e 584.5px,#cc6464 617.5px,#cc8181 704.5px,#cc9393 713.5px,#cc9090 730.5px,#cc6868 737.5px,#cc2929 744.5px,#cc0404 747.5px,#d90000 748.5px,#d00 758px)"></i>
<i style="left:1168px;width:1px;background:linear-gradient(#0aa 0px,#00aa89 67.5px,#00a144 84.5px,#090 99.5px,#00a400 145.5px,#00bd00 154.5px,#05ff00 249.5px,#5cff00 269.5px,#befe00 288.5px,#efeb00 319.5px,#ffc300 373.5px,#ff9100 398.5px,#fe0000 426.5px,#dc0000 453.5px,#d30000 542.5px,#cc1010 547.5px,#c44 595.5px,#c66 705.5px,#cc7272 716.5px,#cc6c6c 731.5px,#cc3838 741.5px,#cc0303 747.5px,#d90000 748.5px,#d00 758px)"></i>
<i style="left:1169px;width:1px;background:linear-gradient(#0aa 0px,#00aa89 67.5px,#00a144 84.5px,#090 99.5px,#00a400 145.5px,#00bd00 154.5px,#05ff00 249.5px,#5cff00 269.5px,#befe00 288.5px,#efeb00 319.5px,#ffc300 373.5px,#ff9100 398.5px,#fe0000 426.5px,#dc0000 453.5px,#d30000 542.5px,#cc0b0b 547.5px,#cc3737 608.5px,#cc4b4b 706.5px,#cc5050 730.5px,#cc2323 742.5px,#cc0202 747.5px,#d90000 748.5px,#d00 758px)"></i>
<i style="left:1170px;width:1px;background:linear-gradient(#0aa 0px,#00aa89 68.5px,#00a249 84.5px,#090 100.5px,#00a400 146.5px,#00bd00 155.5px,#05ff00 250.5px,#5cff00 270.5px,#befe00 289.5px,#efeb00 320.5px,#ffc300 374.5px,#ff9100 399.5px,#fe0000 427.5px,#dc0000 454.5px,#d30000 542.5px,#cc0707 547.5px,#cc2121 621.5px,#cc2e2e 731.5px,#cc0101 747.5px,#d90000 748.5px,#d00 758px)"></i>
<i style="left:1171px;width:1px;background:linear-gradient(#0aa 0px,#00aa89 67.5px,#00a13d 86.5px,#090 100.5px,#00a400 146.5px,#00bd00 155.5px,#04ff00 255.5px,#8eff00 285.5px,#befe00 294.5px,#ee0 329.5px,#ffcd00 375.5px,#ff9000 402.5px,#fd0000 430.5px,#de0000 454.5px,#cc0909 589.5px,#cc0b0b 738.5px,#c00 747.5px,#d90000 748.5px,#d00 758px)"></i>
<i style="left:1172px;width:1px;background:linear-gradient(#0aa 0px,#00aa8a 65.5px,#00a13e 85.5px,#090 100.5px,#00a400 146.5px,#00bc00 155.5px,#05ff00 266.5px,#6f0 289.5px,#bdfe00 307.5px,#f2e700 371.5px,#ffbc00 385.5px,#ff9100 408.5px,#ff2900 428.5px,#f00 433.5px,#e10000 454.5px,#d40000 606.5px,#d00 758px)"></i>
<i style="left:1173px;width:1px;background:linear-gradient(#0aa 0px,#00aa8b 63.5px,#00a773 71.5px,#090 100.5px,#00a400 146.5px,#00bc00 155.5px,#04ff00 280.5px,#a4ff00 322.5px,#befe00 334.5px,#dff300 373.5px,#f5e000 377.5px,#ffc700 383.5px,#ff9200 415.5px,#ff5700 427.5px,#fe0000 437.5px,#e40000 453.5px,#d40000 591.5px,#d00 758px)"></i>
<i style="left:1174px;width:1px;background:linear-gradient(#0aa 0px,#00aa8c 62.5px,#00a773 70.5px,#090 100.5px,#00a400 146.5px,#00bc00 155.5px,#05ff00 299.5px,#bdfe00 369.5px,#c1fd00 373.5px,#efec00 377.5px,#fdd000 381.5px,#ff9300 423.5px,#ff7c00 427.5px,#ff0100 439.5px,#e80000 453.5px,#d30000 582.5px,#d00 758px)"></i>
<i style="left:1175px;width:2px;background:linear-gradient(#0aa 0px,#00aa8c 62.5px,#00a87a 68.5px,#009d21 90.5px,#090 101.5px,#00a400 146.5px,#00bc00 155.5px,#05ff00 314.5px,#93ff00 372.5px,#9dff00 373.5px,#c0fd00 374.5px,#f1e900 378.5px,#fcd200 381.5px,#f90 426.5px,#ff0300 440.5px,#e90000 453.5px,#d30000 578.5px,#d00 758px)"></i>
<i style="left:1177px;width:1px;background:linear-gradient(#00aaa9 0px,#00aa8b 60.5px,#00a773 67.5px,#009b11 92.5px,#090 99.5px,#00a500 144.5px,#00bc00 152.5px,#06ff00 312.5px,#94ff00 370.5px,#c5fc00 372.5px,#edee00 375.5px,#fcd200 379.5px,#ff9600 424.5px,#f00 438.5px,#e90000 451.5px,#d30000 576.5px,#d00 758px)"></i>
<i style="left:1178px;width:1px;background:linear-gradient(#00aaa9 0px,#00aa8b 60.5px,#00a773 67.5px,#009b11 92.5px,#090 99.5px,#00a500 144.5px,#00bc00 152.5px,#06ff00 312.5px,#94ff00 370.5px,#c5fc00 372.5px,#edee00 375.5px,#fcd200 379.5px,#ff9600 424.5px,#f00 438.5px,#e90000 451.5px,#cc0404 566.5px,#cc0606 740.5px,#c00 747.5px,#d90000 748.5px,#d00 758px)"></i>
<i style="left:1179px;width:1px;background:linear-gradient(#00aaa9 0px,#00aa8b 60.5px,#00a773 67.5px,#009b11 92.5px,#090 99.5px,#00a500 144.5px,#00bc00 152.5px,#06ff00 312.5px,#94ff00 370.5px,#c5fc00 372.5px,#edee00 375.5px,#fcd200 379.5px,#ff9600 424.5px,#f00 438.5px,#e90000 451.5px,#cc0606 550.5px,#cc1919 642.5px,#cc1f1f 733.5px,#cc0101 747.5px,#d90000 748.5px,#d00 758px)"></i>
<i style="left:1180px;width:1px;background:linear-gradient(#00aaa9 0px,#00aa8c 60.5px,#00a876 67.5px,#090 98.5px,#00a500 144.5px,#00bc00 152.5px,#06ff00 297.5px,#bdfe00 367.5px,#c6fb00 371.5px,#f1e900 375.5px,#fdcf00 379.5px,#ff9100 421.5px,#ff7800 425.5px,#fe0000 437.5px,#e70000 451.5px,#d30000 542.5px,#cc0808 547.5px,#cc2727 615.5px,#cc3939 709.5px,#cc3434 733.5px,#cc0202 747.5px,#d90000 748.5px,#d00 758px)"></i>
<i style="left:1181px;width:1px;background:linear-gradient(#00aaa9 0px,#00aa8b 61.5px,#00a772 69.5px,#090 98.5px,#00a500 144.5px,#00bd00 153.5px,#05ff00 278.5px,#a2ff00 319.5px,#befe00 332.5px,#e2f200 371.5px,#fc0 378.5px,#ff9000 413.5px,#ff5400 425.5px,#f00 434.5px,#e40000 451.5px,#d30000 542.5px,#cc0b0b 547.5px,#cc3636 608.5px,#cc4b4b 706.5px,#cc5050 730.5px,#cc2323 742.5px,#cc0202 747.5px,#d90000 748.5px,#d00 758px)"></i>
<i style="left:1182px;width:1px;background:linear-gradient(#00aaa9 0px,#00aa8a 63.5px,#090 98.5px,#00a500 144.5px,#00bd00 153.5px,#02ff00 263.5px,#68ff00 287.5px,#bdfe00 305.5px,#f3e300 371.5px,#ffbe00 381.5px,#ff8f00 406.5px,#ff2f00 425.5px,#fe0000 431.5px,#e10000 451.5px,#d30000 542.5px,#cc0e0e 547.5px,#cc4343 601.5px,#cc5e5e 705.5px,#cc6969 718.5px,#cc6363 731.5px,#cc2d2d 742.5px,#cc0303 747.5px,#d90000 748.5px,#d00 758px)"></i>
<i style="left:1183px;width:1px;background:linear-gradient(#00aaa9 0px,#00aa89 65.5px,#009f32 86.5px,#090 98.5px,#00a500 144.5px,#00bd00 153.5px,#05ff00 253.5px,#90ff00 283.5px,#bcff00 291.5px,#edee00 326.5px,#fc0 373.5px,#ff8e00 400.5px,#fe0000 427.5px,#d00 452.5px,#d30000 542.5px,#cc1313 548.5px,#cc4a4a 592.5px,#cc5959 632.5px,#cc7373 705.5px,#cc8080 715.5px,#cc7979 731.5px,#cc4c4c 739.5px,#cc0e0e 746.5px,#cc0404 747.5px,#d90000 748.5px,#d00 758px)"></i>
<i style="left:1184px;width:1px;background:linear-gradient(#0aa 0px,#0a8 67.5px,#00a038 86.5px,#090 99.5px,#00a600 145.5px,#00bd00 154.5px,#03ff00 248.5px,#5aff00 268.5px,#bdfe00 287.5px,#efeb00 319.5px,#ffc200 373.5px,#ff9400 397.5px,#fe0000 425.5px,#d00 452.5px,#d30000 542.5px,#cc1515 547.5px,#cc5050 584.5px,#cc6767 617.5px,#cc8585 704.5px,#cc9797 713.5px,#cc9494 730.5px,#cc6b6b 737.5px,#cc2a2a 744.5px,#cc0505 747.5px,#d90000 748.5px,#d00 758px)"></i>
<i style="left:1185px;width:1px;background:linear-gradient(#0aa 0px,#0a8 67.5px,#00a038 86.5px,#090 99.5px,#00a600 145.5px,#00bd00 154.5px,#03ff00 248.5px,#5aff00 268.5px,#bdfe00 287.5px,#efeb00 319.5px,#ffc200 373.5px,#ff9400 397.5px,#fe0000 425.5px,#d00 452.5px,#d30000 542.5px,#cc1818 547.5px,#cc5353 578.5px,#cc7676 613.5px,#cc9696 703.5px,#ccaeae 712.5px,#ccabab 730.5px,#cc7b7b 737.5px,#cc3030 744.5px,#cc0505 747.5px,#d90000 748.5px,#d00 758px)"></i>
<i style="left:1186px;width:12px;background:linear-gradient(#0aa 0px,#0a8 67.5px,#00a038 86.5px,#090 99.5px,#00a600 145.5px,#00bd00 154.5px,#03ff00 248.5px,#5aff00 268.5px,#bdfe00 287.5px,#efeb00 319.5px,#ffc200 373.5px,#ff9400 397.5px,#fe0000 425.5px,#d00 452.5px,#d30000 542.5px,#cc1919 547.5px,#cc5454 575.5px,#cc7d7d 612.5px,#cca0a0 703.5px,#ccbaba 712.5px,#ccb6b6 730.5px,#cc8484 737.5px,#cc4343 743.5px,#cc0606 747.5px,#d90000 748.5px,#d00 758px)"></i>
<i style="left:1198px;width:7px;background:linear-gradient(#00aaa9 0px,#00aa89 64.5px,#00a143 81.5px,#090 96.5px,#00a500 142.5px,#00bd00 151.5px,#06ff00 246.5px,#5dff00 266.5px,#bdfe00 284.5px,#efeb00 316.5px,#ffc300 370.5px,#ff9000 395.5px,#fd0000 423.5px,#dc0000 450.5px,#d30000 542.5px,#cc1919 547.5px,#cc5454 575.5px,#cc7d7d 612.5px,#cca0a0 703.5px,#ccbaba 712.5px,#ccb6b6 730.5px,#cc8484 737.5px,#cc4343 743.5px,#cc0606 747.5px,#d90000 748.5px,#d00 758px)"></i>
<i style="left:1205px;width:7px;background:linear-gradient(#0aa 0px,#00aa89 67.5px,#00a144 84.5px,#090 99.5px,#00a400 145.5px,#00bd00 154.5px,#05ff00 249.5px,#5dff00 269.5px,#befe00 288.5px,#efeb00 319.5px,#ffc300 373.5px,#ff9100 398.5px,#fd0000 426.5px,#dc0000 453.5px,#d30000 542.5px,#cc1919 547.5px,#cc5454 575.5px,#cc7d7d 612.5px,#cca0a0 703.5px,#ccbaba 712.5px,#ccb6b6 730.5px,#cc8484 737.5px,#cc4343 743.5px,#cc0606 747.5px,#d90000 748.5px,#d00 758px)"></i>
<i style="left:1212px;width:7px;background:linear-gradient(#00aaa7 0px,#0a8 60.5px,#090 92.5px,#00a300 137.5px,#00bd00 147.5px,#04ff00 241.5px,#56ff00 260.5px,#bdfe00 280.5px,#efec00 311.5px,#ffc200 366.5px,#ff9300 390.5px,#fe0000 418.5px,#d00 445.5px,#d30000 542.5px,#cc1919 547.5px,#cc5454 575.5px,#cc7d7d 612.5px,#cca0a0 703.5px,#ccbaba 712.5px,#ccb6b6 730.5px,#cc8484 737.5px,#cc4343 743.5px,#cc0606 747.5px,#d90000 748.5px,#d00 758px)"></i>
<i style="left:1219px;width:7px;background:linear-gradient(#00aaa9 0px,#00aa89 66.5px,#00a143 83.5px,#090 98.5px,#00a500 144.5px,#00bd00 153.5px,#06ff00 248.5px,#5eff00 268.5px,#bdfe00 286.5px,#efeb00 318.5px,#ffc300 372.5px,#ff9000 397.5px,#f00 424.5px,#dc0000 452.5px,#d30000 542.5px,#cc1919 547.5px,#cc5454 575.5px,#cc7d7d 612.5px,#cca0a0 703.5px,#ccbaba 712.5px,#ccb6b6 730.5px,#cc8484 737.5px,#cc4343 743.5px,#cc0606 747.5px,#d90000 748.5px,#d00 758px)"></i>
<i style="left:1226px;width:7px;background:linear-gradient(#00aaa8 0px,#00aa89 62.5px,#00a143 79.5px,#090 94.5px,#00a500 140.5px,#00bd00 149.5px,#06ff00 244.5px,#5dff00 264.5px,#befe00 283.5px,#efeb00 314.5px,#ffc300 368.5px,#ff9000 393.5px,#fd0000 421.5px,#dc0000 448.5px,#d30000 542.5px,#cc1919 547.5px,#cc5454 575.5px,#cc7d7d 612.5px,#cca0a0 703.5px,#ccbaba 712.5px,#ccb6b6 730.5px,#cc8484 737.5px,#cc4343 743.5px,#cc0606 747.5px,#d90000 748.5px,#d00 758px)"></i>
<i style="left:1233px;width:6px;background:linear-gradient(#0aa 0px,#0a8 67.5px,#00a13d 85.5px,#090 99.5px,#00a500 145.5px,#00bd00 154.5px,#03ff00 248.5px,#59ff00 268.5px,#b5ff00 285.5px,#efec00 318.5px,#ffc200 373.5px,#ff9400 397.5px,#fe0000 425.5px,#d00 452.5px,#d30000 542.5px,#cc1919 547.5px,#cc5353 575.5px,#cc7d7d 612.5px,#cc9f9f 703.5px,#ccb9b9 712.5px,#ccb5b5 730.5px,#cc8383 737.5px,#cc4242 743.5px,#cc0606 747.5px,#d90000 748.5px,#d00 758px)"></i>
<i style="left:1239px;width:1px;background:linear-gradient(#0aa 0px,#0a8 67.5px,#00a13d 85.5px,#090 99.5px,#00a500 145.5px,#00bd00 154.5px,#03ff00 248.5px,#59ff00 268.5px,#b5ff00 285.5px,#efec00 318.5px,#ffc200 373.5px,#ff9400 397.5px,#fe0000 425.5px,#d00 452.5px,#d30000 542.5px,#cc1717 547.5px,#cc5252 580.5px,#cc7070 614.5px,#cc9292 704.5px,#cca6a6 713.5px,#cca3a3 730.5px,#cc7575 737.5px,#cc2e2e 744.5px,#cc0505 747.5px,#d90000 748.5px,#d00 758px)"></i>
<i style="left:1240px;width:1px;background:linear-gradient(#0aa 0px,#00aa89 69.5px,#00a24a 85.5px,#090 101.5px,#00a300 147.5px,#00bd00 157.5px,#04ff00 251.5px,#57ff00 270.5px,#befe00 290.5px,#efeb00 321.5px,#ffc200 376.5px,#ff9200 400.5px,#fe0000 428.5px,#dc0000 455.5px,#d40000 542.5px,#cc1313 546.5px,#cc4f4f 582.5px,#cc6868 616.5px,#cc8686 704.5px,#c99 713.5px,#cc9696 730.5px,#cc6c6c 737.5px,#cc2a2a 744.5px,#cc0505 747.5px,#d90000 748.5px,#d00 758px)"></i>
<i style="left:1241px;width:1px;background:linear-gradient(#0aa 0px,#00aa89 69.5px,#00a24a 85.5px,#090 101.5px,#00a300 147.5px,#00bd00 157.5px,#04ff00 251.5px,#57ff00 270.5px,#befe00 290.5px,#efeb00 321.5px,#ffc200 376.5px,#ff9200 400.5px,#fe0000 428.5px,#dc0000 455.5px,#d40000 542.5px,#c11 546.5px,#cc4b4b 585.5px,#cc5f5f 619.5px,#cc7a7a 704.5px,#cc8c8c 714.5px,#cc8989 730.5px,#cc5b5b 738.5px,#cc1b1b 745.5px,#cc0404 747.5px,#d90000 748.5px,#d00 758px)"></i>
<i style="left:1242px;width:1px;background:linear-gradient(#0aa 0px,#00aa89 69.5px,#00a24a 85.5px,#090 101.5px,#00a300 147.5px,#00bd00 157.5px,#04ff00 251.5px,#57ff00 270.5px,#befe00 290.5px,#efeb00 321.5px,#ffc200 376.5px,#ff9200 400.5px,#fe0000 428.5px,#dc0000 455.5px,#d40000 542.5px,#cc0f0f 546.5px,#cc4646 588.5px,#cc5757 624.5px,#cc7171 705.5px,#cc7e7e 715.5px,#cc7878 731.5px,#cc4b4b 739.5px,#cc0e0e 746.5px,#cc0404 747.5px,#d90000 748.5px,#d00 758px)"></i>
<i style="left:1243px;width:1px;background:linear-gradient(#0aa 0px,#00aa89 69.5px,#00a24a 85.5px,#090 101.5px,#00a300 147.5px,#00bd00 157.5px,#04ff00 251.5px,#57ff00 270.5px,#befe00 290.5px,#efeb00 321.5px,#ffc200 376.5px,#ff9200 400.5px,#fe0000 428.5px,#dc0000 455.5px,#d40000 542.5px,#cc0e0e 546.5px,#cc4242 593.5px,#cc6767 706.5px,#cc7171 719.5px,#cc6b6b 731.5px,#cc3737 741.5px,#cc0303 747.5px,#d90000 748.5px,#d00 758px)"></i>
<i style="left:1244px;width:1px;background:linear-gradient(#0aa 0px,#00aa89 69.5px,#00a24a 85.5px,#090 101.5px,#00a300 147.5px,#00bd00 157.5px,#04ff00 251.5px,#57ff00 270.5px,#befe00 290.5px,#efeb00 321.5px,#ffc200 376.5px,#ff9200 400.5px,#fe0000 428.5px,#dc0000 455.5px,#d40000 542.5px,#cc0c0c 546.5px,#cc4040 601.5px,#cc5b5b 706.5px,#cc6464 723.5px,#cc5b5b 732.5px,#cc1c1c 744.5px,#cc0303 747.5px,#d90000 748.5px,#d00 758px)"></i>
<i style="left:1245px;width:1px;background:linear-gradient(#0aa 0px,#00aa89 69.5px,#00a24a 85.5px,#090 101.5px,#00a300 147.5px,#00bd00 157.5px,#04ff00 251.5px,#57ff00 270.5px,#befe00 290.5px,#efeb00 321.5px,#ffc200 376.5px,#ff9200 400.5px,#fe0000 428.5px,#dc0000 455.5px,#d40000 542.5px,#cc0b0b 546.5px,#cc3a3a 606.5px,#cc4f4f 706.5px,#cc5656 729.5px,#cc2f2f 740.5px,#cc0303 747.5px,#d90000 748.5px,#d00 758px)"></i>
<i style="left:1246px;width:1px;background:linear-gradient(#0aa 0px,#00aa89 69.5px,#00a24a 85.5px,#090 101.5px,#00a300 147.5px,#00bd00 157.5px,#04ff00 251.5px,#57ff00 270.5px,#befe00 290.5px,#efeb00 321.5px,#ffc200 376.5px,#ff9200 400.5px,#fe0000 428.5px,#dc0000 455.5px,#d40000 542.5px,#cc0909 546.5px,#cc3131 609.5px,#c44 707.5px,#cc4343 732.5px,#cc0e0e 745.5px,#cc0202 747.5px,#d90000 748.5px,#d00 758px)"></i>
<i style="left:1247px;width:1px;background:linear-gradient(#00aaa7 0px,#0a8 61.5px,#090 93.5px,#00a600 139.5px,#00bd00 148.5px,#03ff00 242.5px,#5bff00 262.5px,#bdfe00 281.5px,#f0eb00 313.5px,#ffc200 367.5px,#ff9300 391.5px,#fe0000 419.5px,#d00 446.5px,#d30000 542.5px,#cc0b0b 550.5px,#cc2929 617.5px,#cc3a3a 709.5px,#cc3535 733.5px,#cc0202 747.5px,#d90000 748.5px,#d00 758px)"></i>
<i style="left:1248px;width:1px;background:linear-gradient(#00a9ad 0px,#0a8 65.5px,#009b0f 93.5px,#009b00 115.5px,#00a500 139.5px,#00ba00 149.5px,#03ff00 247.5px,#9cff00 278.5px,#bdfe00 284.5px,#efed00 317.5px,#ffc300 368.5px,#ff9100 394.5px,#fd0000 423.5px,#e20000 448.5px,#d40000 542.5px,#cc0505 545.5px,#cc2020 621.5px,#cc2b2b 732.5px,#cc0101 747.5px,#d90000 748.5px,#d00 758px)"></i>
<i style="left:1249px;width:1px;background:linear-gradient(#00a4bc 0px,#00a983 74.5px,#009f2e 94.5px,#090 118.5px,#00a400 140.5px,#00b500 155.5px,#05ff00 256.5px,#8dff00 282.5px,#bdfe00 291.5px,#efec00 330.5px,#ffc300 371.5px,#ff9300 400.5px,#ff0e00 428.5px,#fc0000 433.5px,#e70000 472.5px,#d70000 542.5px,#cc0202 544.5px,#cc1c1c 599.5px,#cc2a2a 612.5px,#cc3737 729.5px,#cc2a2a 737.5px,#cc0101 747.5px,#d90000 748.5px,#d00 758px)"></i>
<i style="left:1250px;width:1px;background:linear-gradient(#00a1c5 0px,#00aaa5 37.5px,#00aa85 74.5px,#00a038 94.5px,#009a09 111.5px,#00a300 135.5px,#00f600 246.5px,#05ff00 257.5px,#bcff00 292.5px,#f2e600 340.5px,#ffb000 382.5px,#ff8f00 403.5px,#ff1c00 429.5px,#fe0000 436.5px,#da0000 527.5px,#d80000 542.5px,#cc0101 543.5px,#c11 592.5px,#cc3535 608.5px,#cc4848 727.5px,#cc3c3c 736.5px,#cc0101 747.5px,#d90000 748.5px,#d00 758px)"></i>
<i style="left:1251px;width:1px;background:linear-gradient(#009dd2 0px,#00a9ad 33.5px,#0a8 81.5px,#009c15 109.5px,#009e00 135.5px,#00c900 202.5px,#02ff00 264.5px,#bcff00 301.5px,#f3e300 347.5px,#ffb700 384.5px,#ff9200 414.5px,#ff1e00 444.5px,#fd0000 464.5px,#d00 528.5px,#db0000 542.5px,#c00 543.5px,#cc0404 589.5px,#cc3f3f 605.5px,#cc5a5a 725.5px,#cc5050 735.5px,#cc0101 746.5px,#c00 747.5px,#d90000 748.5px,#d00 758px)"></i>
<i style="left:1252px;width:5px;background:linear-gradient(#009ad9 0px,#00a6b5 29.5px,#0a8 85.5px,#009c1a 109.5px,#009c00 137.5px,#00bf00 196.5px,#03ff00 268.5px,#bdfe00 307.5px,#f3e300 349.5px,#ffba00 385.5px,#ff9300 421.5px,#ff3800 445.5px,#fc0000 476.5px,#e20000 521.5px,#d40000 588.5px,#cc1717 592.5px,#cc4b4b 607.5px,#cc6868 724.5px,#cc5c5c 735.5px,#cc0101 746.5px,#d90000 747.5px,#d00 758px)"></i>
<i style="left:1257px;width:1px;background:linear-gradient(#0092dd 0px,#009bd6 24.5px,#00a7b4 51.5px,#0a8 106.5px,#009c1a 130.5px,#009c00 158.5px,#00c000 218.5px,#02ff00 289.5px,#bdfe00 328.5px,#f3e300 370.5px,#ffba00 406.5px,#ff9400 442.5px,#ff3600 467.5px,#fc0000 497.5px,#e20000 541.5px,#d80000 588.5px,#cc0e0e 590.5px,#cc4c4c 607.5px,#cc6969 724.5px,#cc5d5d 735.5px,#cc0101 746.5px,#d80000 748.5px,#d00 758px)"></i>
<i style="left:1258px;width:6px;background:linear-gradient(#0092dd 0px,#009bd6 24.5px,#00a7b4 51.5px,#0a8 106.5px,#009c1a 130.5px,#009c00 158.5px,#00c000 218.5px,#02ff00 289.5px,#bdfe00 328.5px,#f3e300 370.5px,#ffba00 406.5px,#ff9400 442.5px,#ff3600 467.5px,#fc0000 497.5px,#e20000 541.5px,#d80000 588.5px,#cc0c0c 590.5px,#cc4242 607.5px,#cc5c5c 725.5px,#cc5252 735.5px,#cc0101 746.5px,#d80000 748.5px,#d00 758px)"></i>
<i style="left:1264px;width:6px;background:linear-gradient(#009bd8 0px,#00a6b5 28.5px,#00aa87 84.5px,#009c1a 108.5px,#009c00 136.5px,#00bf00 195.5px,#04ff00 267.5px,#bdfe00 306.5px,#f4e300 348.5px,#fb0 383.5px,#ff9200 420.5px,#ff3700 444.5px,#fd0000 474.5px,#e20000 518.5px,#d40000 588.5px,#cc1a1a 592.5px,#cc5252 607.5px,#cc7373 724.5px,#c66 735.5px,#cc0101 746.5px,#d90000 747.5px,#d00 758px)"></i>
<i style="left:1270px;width:1px;background:linear-gradient(#009bd8 0px,#00a6b5 28.5px,#00aa87 84.5px,#009c1a 108.5px,#009c00 136.5px,#00bf00 195.5px,#04ff00 267.5px,#bdfe00 306.5px,#f4e300 348.5px,#fb0 383.5px,#ff9200 420.5px,#ff3700 444.5px,#fd0000 474.5px,#e20000 518.5px,#d40000 588.5px,#cc1313 592.5px,#cc3e3e 608.5px,#cc5656 725.5px,#cc4d4d 735.5px,#cc0101 746.5px,#d90000 747.5px,#d00 758px)"></i>
<i style="left:1271px;width:5px;background:linear-gradient(#0093dd 0px,#009dd1 18.5px,#00a8b1 47.5px,#00aa89 97.5px,#009c19 122.5px,#009c00 150.5px,#00bf00 209.5px,#04ff00 281.5px,#bcff00 319.5px,#f4e300 362.5px,#ffba00 398.5px,#ff9100 434.5px,#ff3700 458.5px,#fd0000 488.5px,#e20000 532.5px,#d60000 588.5px,#cc0b0b 590.5px,#cc3e3e 607.5px,#cc5656 725.5px,#cc4d4d 735.5px,#cc0101 746.5px,#d90000 748.5px,#d00 758px)"></i>
<i style="left:1276px;width:2px;background:linear-gradient(#0093dd 0px,#009dd1 18.5px,#00a8b1 47.5px,#00aa89 97.5px,#009c19 122.5px,#009c00 150.5px,#00bf00 209.5px,#04ff00 281.5px,#bcff00 319.5px,#f4e300 362.5px,#ffba00 398.5px,#ff9100 434.5px,#ff3700 458.5px,#fd0000 488.5px,#e20000 532.5px,#d60000 588.5px,#cc1010 590.5px,#cc5a5a 607.5px,#cc7f7f 723.5px,#cc6f6f 735.5px,#cc0101 746.5px,#d90000 748.5px,#d00 758px)"></i>
<i style="left:1278px;width:4px;background:linear-gradient(#0098dd 0px,#00a7b3 36.5px,#0a8 89.5px,#009c19 114.5px,#009c00 141.5px,#00c000 201.5px,#06ff00 273.5px,#bcfe00 311.5px,#f3e400 353.5px,#ffba00 389.5px,#ff9000 426.5px,#ff3700 450.5px,#fc0000 480.5px,#e20000 524.5px,#d50000 588.5px,#cc1818 591.5px,#cc5a5a 607.5px,#cc7f7f 723.5px,#cc6f6f 735.5px,#cc0101 746.5px,#d90000 747.5px,#d00 758px)"></i>
<i style="left:1282px;width:3px;background:linear-gradient(#0098dd 0px,#00a7b3 36.5px,#0a8 89.5px,#009c19 114.5px,#009c00 141.5px,#00c000 201.5px,#06ff00 273.5px,#bcfe00 311.5px,#f3e400 353.5px,#ffba00 389.5px,#ff9000 426.5px,#ff3700 450.5px,#fc0000 480.5px,#e20000 524.5px,#d50000 588.5px,#cc1515 591.5px,#cc4f4f 607.5px,#cc6e6e 724.5px,#cc6262 735.5px,#cc0101 746.5px,#d90000 747.5px,#d00 758px)"></i>
<i style="left:1285px;width:3px;background:linear-gradient(#0094dd 0px,#009ece 18.5px,#0aa 53.5px,#0a8 95.5px,#009c19 120.5px,#009c00 147.5px,#00c000 207.5px,#06ff00 279.5px,#bdfe00 317.5px,#f3e400 359.5px,#ffba00 395.5px,#ff9400 431.5px,#ff3600 456.5px,#fc0000 486.5px,#e20000 530.5px,#d60000 588.5px,#cc0e0e 590.5px,#cc4f4f 607.5px,#cc6e6e 724.5px,#cc6262 735.5px,#cc0101 746.5px,#d90000 748.5px,#d00 758px)"></i>
<i style="left:1288px;width:4px;background:linear-gradient(#0094dd 0px,#009ece 18.5px,#0aa 53.5px,#0a8 95.5px,#009c19 120.5px,#009c00 147.5px,#00c000 207.5px,#06ff00 279.5px,#bdfe00 317.5px,#f3e400 359.5px,#ffba00 395.5px,#ff9400 431.5px,#ff3600 456.5px,#fc0000 486.5px,#e20000 530.5px,#d60000 588.5px,#cc0b0b 590.5px,#cc3d3d 607.5px,#cc5454 726.5px,#cc4b4b 735.5px,#cc0101 746.5px,#d90000 748.5px,#d00 758px)"></i>
<i style="left:1292px;width:2px;background:linear-gradient(#0099dc 0px,#00a7b4 32.5px,#0a8 87.5px,#009c1a 111.5px,#009c00 139.5px,#00c000 199.5px,#02ff00 270.5px,#bdfe00 309.5px,#f3e300 351.5px,#ffba00 387.5px,#ff9400 423.5px,#ff3600 448.5px,#fc0000 478.5px,#e20000 522.5px,#d40000 588.5px,#cc1010 591.5px,#cc3d3d 608.5px,#cc5454 726.5px,#cc4b4b 735.5px,#cc0101 746.5px,#d90000 747.5px,#d00 758px)"></i>
<i style="left:1294px;width:5px;background:linear-gradient(#0099dc 0px,#00a7b4 32.5px,#0a8 87.5px,#009c1a 111.5px,#009c00 139.5px,#00c000 199.5px,#02ff00 270.5px,#bdfe00 309.5px,#f3e300 351.5px,#ffba00 387.5px,#ff9400 423.5px,#ff3600 448.5px,#fc0000 478.5px,#e20000 522.5px,#d40000 588.5px,#cc1818 591.5px,#cc5a5a 607.5px,#cc7f7f 723.5px,#cc6f6f 735.5px,#cc0101 746.5px,#d90000 747.5px,#d00 758px)"></i>
<i style="left:1299px;width:1px;background:linear-gradient(#0096dd 0px,#00a0c7 20.5px,#00aa87 94.5px,#009c1a 118.5px,#009c00 146.5px,#00bf00 205.5px,#04ff00 277.5px,#bcff00 315.5px,#f4e300 358.5px,#fb0 393.5px,#ff9200 430.5px,#ff3700 454.5px,#fd0000 484.5px,#e20000 528.5px,#d50000 588.5px,#cc1010 590.5px,#cc5a5a 607.5px,#cc7f7f 723.5px,#cc6f6f 735.5px,#cc0101 746.5px,#d90000 748.5px,#d00 758px)"></i>
<i style="left:1300px;width:12px;background:linear-gradient(#0096dd 0px,#00aaa9 53.5px,#00aa86 94.5px,#009c19 118.5px,#009c00 145.5px,#00c000 205.5px,#05ff00 277.5px,#bcff00 315.5px,#f3e400 357.5px,#ffba00 393.5px,#ff9100 430.5px,#ff3700 454.5px,#fc0000 484.5px,#e20000 528.5px,#d50000 588.5px,#cc0d0d 590.5px,#cc4a4a 607.5px,#cc6767 724.5px,#cc5b5b 735.5px,#cc0101 746.5px,#d90000 748.5px,#d00 758px)"></i>
<i style="left:1312px;width:1px;background:linear-gradient(#0096dd 0px,#00aaa9 52.5px,#0a8 93.5px,#009c1a 117.5px,#009c00 145.5px,#00c000 205.5px,#02ff00 276.5px,#bdfe00 315.5px,#f3e300 357.5px,#ffba00 393.5px,#ff9400 429.5px,#ff3600 454.5px,#fc0000 484.5px,#e20000 528.5px,#d50000 588.5px,#cc0b0b 590.5px,#cc3d3d 607.5px,#cc5353 726.5px,#cc4b4b 735.5px,#cc0101 746.5px,#d90000 748.5px,#d00 758px)"></i>
<i style="left:1313px;width:11px;background:linear-gradient(#009bd7 0px,#00a6b5 27.5px,#00aa87 83.5px,#009c1a 107.5px,#009c00 135.5px,#00bf00 194.5px,#03ff00 266.5px,#bdfe00 305.5px,#f3e300 347.5px,#ffba00 383.5px,#ff9200 419.5px,#ff3800 443.5px,#fd0000 473.5px,#e20000 517.5px,#d40000 588.5px,#cc1414 592.5px,#cc3f3f 608.5px,#cc5757 725.5px,#cc4d4d 735.5px,#cc0101 746.5px,#d90000 747.5px,#d00 758px)"></i>
<i style="left:1324px;width:3px;background:linear-gradient(#009bd8 0px,#00a6b5 27.5px,#0a8 83.5px,#009c19 108.5px,#009c00 135.5px,#00c000 195.5px,#06ff00 267.5px,#bdfe00 305.5px,#f3e400 347.5px,#ffba00 383.5px,#ff9400 419.5px,#ff3600 444.5px,#fc0000 474.5px,#e20000 518.5px,#d40000 588.5px,#cc1c1c 592.5px,#cc5a5a 607.5px,#cc7f7f 723.5px,#cc6f6f 735.5px,#cc0101 746.5px,#d90000 747.5px,#d00 758px)"></i>
<i style="left:1327px;width:3px;background:linear-gradient(#0095dd 0px,#009fcb 19.5px,#00aaa5 62.5px,#00a983 96.5px,#009c1a 119.5px,#009c00 147.5px,#00bf00 206.5px,#03ff00 278.5px,#bdfe00 317.5px,#f3e300 359.5px,#ffba00 395.5px,#ff9300 431.5px,#ff3800 455.5px,#fc0000 486.5px,#e20000 531.5px,#d60000 588.5px,#cc1010 590.5px,#cc5a5a 607.5px,#cc7f7f 723.5px,#cc6f6f 735.5px,#cc0101 746.5px,#d90000 748.5px,#d00 758px)"></i>
<i style="left:1330px;width:4px;background:linear-gradient(#0095dd 0px,#009fcb 19.5px,#00aaa5 62.5px,#00a983 96.5px,#009c1a 119.5px,#009c00 147.5px,#00bf00 206.5px,#03ff00 278.5px,#bdfe00 317.5px,#f3e300 359.5px,#ffba00 395.5px,#ff9300 431.5px,#ff3800 455.5px,#fc0000 486.5px,#e20000 531.5px,#d60000 588.5px,#cc0f0f 590.5px,#cc5353 607.5px,#cc7373 724.5px,#c66 735.5px,#cc0101 746.5px,#d90000 748.5px,#d00 758px)"></i>
<i style="left:1334px;width:2px;background:linear-gradient(#0097dd 0px,#00a9ac 47.5px,#0a8 92.5px,#009c1a 116.5px,#009c00 144.5px,#00bf00 203.5px,#03ff00 275.5px,#bdfe00 314.5px,#f3e300 356.5px,#ffba00 392.5px,#ff9300 428.5px,#ff3800 452.5px,#fc0000 483.5px,#e20000 528.5px,#d50000 588.5px,#cc0f0f 590.5px,#cc5353 607.5px,#cc7373 724.5px,#c66 735.5px,#cc0101 746.5px,#d80000 747.5px,#d00 758px)"></i>
<i style="left:1336px;width:1px;background:linear-gradient(#0097dd 0px,#00a9ac 47.5px,#0a8 92.5px,#009c1a 116.5px,#009c00 144.5px,#00bf00 203.5px,#03ff00 275.5px,#bdfe00 314.5px,#f3e300 356.5px,#ffba00 392.5px,#ff9300 428.5px,#ff3800 452.5px,#fc0000 483.5px,#e20000 528.5px,#d50000 588.5px,#cc0d0d 590.5px,#cc4747 607.5px,#cc6262 725.5px,#cc5858 735.5px,#cc0101 746.5px,#d80000 747.5px,#d00 758px)"></i>
<i style="left:1337px;width:1px;background:linear-gradient(#0095dd 0px,#009dd0 16.5px,#00aaa9 55.5px,#00aa87 95.5px,#009e27 116.5px,#009b00 145.5px,#00c100 208.5px,#03ff00 278.5px,#bdfe00 316.5px,#f4e200 358.5px,#ffb600 399.5px,#ff9400 429.5px,#ff3c00 453.5px,#fc0000 484.5px,#df0000 538.5px,#d50000 588.5px,#cc0d0d 590.5px,#cc4747 607.5px,#cc6262 725.5px,#cc5858 735.5px,#cc0101 746.5px,#d80000 747.5px,#d00 758px)"></i>
<i style="left:1338px;width:1px;background:linear-gradient(#0090dd 0px,#009cd4 18.5px,#00aaa7 68.5px,#00aa86 101.5px,#00a13f 117.5px,#009a00 148.5px,#00ca00 224.5px,#06ff00 284.5px,#bcff00 319.5px,#f3e400 360.5px,#ffb100 407.5px,#ff9300 432.5px,#ff4800 454.5px,#fd0000 486.5px,#da0000 565.5px,#d60000 588.5px,#cc0c0c 590.5px,#cc4141 607.5px,#cc5a5a 725.5px,#cc5151 735.5px,#cc0101 746.5px,#d80000 747.5px,#d00 758px)"></i>
<i style="left:1339px;width:1px;background:linear-gradient(#008cdd 0px,#009bd6 21.5px,#00aa8d 102.5px,#00a87b 109.5px,#00a247 123.5px,#009901 150.5px,#00da00 252.5px,#06ff00 289.5px,#bdfe00 323.5px,#f2e600 362.5px,#ffb100 411.5px,#ff9200 435.5px,#ff4f00 457.5px,#fe0000 489.5px,#d90000 576.5px,#d70000 588.5px,#cc0a0a 590.5px,#cc3636 608.5px,#cc4949 727.5px,#cc3c3c 736.5px,#cc0101 746.5px,#d80000 747.5px,#d00 758px)"></i>
<i style="left:1340px;width:1px;background:linear-gradient(#0087dd 0px,#009bd6 25.5px,#00aa89 111.5px,#009d1c 142.5px,#009b00 158.5px,#00dc00 260.5px,#03ff00 293.5px,#bdfe00 326.5px,#f2e600 366.5px,#ffb000 415.5px,#ff9000 439.5px,#fe0000 493.5px,#d80000 584.5px,#d80000 588.5px,#cc0808 590.5px,#cc2a2a 609.5px,#cc3737 729.5px,#cc2a2a 737.5px,#c00 746.5px,#d80000 747.5px,#d00 758px)"></i>
<i style="left:1341px;width:1px;background:linear-gradient(#0086dd 0px,#009cd5 26.5px,#00aa8f 105.5px,#00a97c 114.5px,#009e2a 134.5px,#009b00 155.5px,#00d600 254.5px,#05ff00 291.5px,#bcff00 322.5px,#f1e700 364.5px,#ffb200 410.5px,#ff9000 436.5px,#fe0000 491.5px,#d80000 584.5px,#cc0c0c 594.5px,#cc1e1e 612.5px,#cc2626 734.5px,#c00 746.5px,#d90000 747.5px,#d00 758px)"></i>
<i style="left:1342px;width:1px;background:linear-gradient(#0084dd 0px,#009cd5 29.5px,#00aa94 104.5px,#00a97e 116.5px,#009f2f 134.5px,#009a00 156.5px,#00d300 254.5px,#05ff00 293.5px,#bdfe00 324.5px,#f1e800 366.5px,#ffb500 409.5px,#ff8e00 439.5px,#fe0000 494.5px,#d80000 586.5px,#cc0606 592.5px,#cc1414 619.5px,#cc1818 735.5px,#c00 746.5px,#d90000 747.5px,#d00 758px)"></i>
<i style="left:1343px;width:1px;background:linear-gradient(#0084dd 0px,#009cd5 29.5px,#00aa94 104.5px,#00a97e 116.5px,#009f2f 134.5px,#009a00 156.5px,#00d300 254.5px,#05ff00 293.5px,#bdfe00 324.5px,#f1e800 366.5px,#ffb500 409.5px,#ff8e00 439.5px,#fe0000 494.5px,#d80000 586.5px,#cc0202 592.5px,#cc0404 741.5px,#c00 746.5px,#d90000 747.5px,#d00 758px)"></i>
<i style="left:1344px;width:4px;background:linear-gradient(#0084dd 0px,#009cd5 29.5px,#00aa94 104.5px,#00a97e 116.5px,#009f2f 134.5px,#009a00 156.5px,#00d300 254.5px,#05ff00 293.5px,#bdfe00 324.5px,#f1e800 366.5px,#ffb500 409.5px,#ff8e00 439.5px,#fe0000 494.5px,#d80000 586.5px,#d00 758px)"></i>
<i style="left:1348px;width:1px;background:linear-gradient(#007edd 0px,#0092dd 28.5px,#00aaa6 102.5px,#00aa84 128.5px,#009f30 147.5px,#009a00 169.5px,#00d300 267.5px,#04ff00 306.5px,#bdfe00 337.5px,#f1e700 380.5px,#ffb400 423.5px,#ff8f00 452.5px,#fe0000 507.5px,#da0000 588.5px,#c00 589.5px,#cc0101 744.5px,#c00 746.5px,#d90000 748.5px,#d00 758px)"></i>
<i style="left:1349px;width:1px;background:linear-gradient(#007edd 0px,#0092dd 28.5px,#00aaa6 102.5px,#00aa84 128.5px,#009f30 147.5px,#009a00 169.5px,#00d300 267.5px,#04ff00 306.5px,#bdfe00 337.5px,#f1e700 380.5px,#ffb400 423.5px,#ff8f00 452.5px,#fe0000 507.5px,#da0000 588.5px,#c00 589.5px,#cc0f0f 620.5px,#cc1010 736.5px,#c00 746.5px,#d90000 748.5px,#d00 758px)"></i>
<i style="left:1350px;width:1px;background:linear-gradient(#007edd 0px,#0092dd 28.5px,#00aaa6 102.5px,#00aa84 128.5px,#009f30 147.5px,#009a00 169.5px,#00d300 267.5px,#04ff00 306.5px,#bdfe00 337.5px,#f1e700 380.5px,#ffb400 423.5px,#ff8f00 452.5px,#fe0000 507.5px,#da0000 588.5px,#cc0101 589.5px,#cc1818 612.5px,#cc1d1d 735.5px,#c00 746.5px,#d90000 748.5px,#d00 758px)"></i>
<i style="left:1351px;width:1px;background:linear-gradient(#007edd 0px,#0092dd 28.5px,#00aaa6 102.5px,#00aa84 128.5px,#009f30 147.5px,#009a00 169.5px,#00d300 267.5px,#04ff00 306.5px,#bdfe00 337.5px,#f1e700 380.5px,#ffb400 423.5px,#ff8f00 452.5px,#fe0000 507.5px,#da0000 588.5px,#cc0101 589.5px,#c22 609.5px,#cc2b2b 732.5px,#cc1313 741.5px,#c00 746.5px,#d90000 748.5px,#d00 758px)"></i>
<i style="left:1352px;width:1px;background:linear-gradient(#007edd 0px,#0092dd 28.5px,#00aaa6 102.5px,#00aa84 128.5px,#009f30 147.5px,#009a00 169.5px,#00d300 267.5px,#04ff00 306.5px,#bdfe00 337.5px,#f1e700 380.5px,#ffb400 423.5px,#ff8f00 452.5px,#fe0000 507.5px,#da0000 588.5px,#cc0101 589.5px,#cc2b2b 608.5px,#cc3939 729.5px,#cc3030 736.5px,#c00 746.5px,#d90000 748.5px,#d00 758px)"></i>
<i style="left:1353px;width:1px;background:linear-gradient(#007edd 0px,#0092dd 28.5px,#00aaa6 102.5px,#00aa84 128.5px,#009f30 147.5px,#009a00 169.5px,#00d300 267.5px,#04ff00 306.5px,#bdfe00 337.5px,#f1e700 380.5px,#ffb400 423.5px,#ff8f00 452.5px,#fe0000 507.5px,#da0000 588.5px,#cc0202 589.5px,#c33 605.5px,#cc4747 727.5px,#cc3b3b 736.5px,#cc0101 746.5px,#d90000 748.5px,#d00 758px)"></i>
<i style="left:1354px;width:1px;background:linear-gradient(#007edd 0px,#0092dd 28.5px,#00aaa6 102.5px,#00aa84 128.5px,#009f30 147.5px,#009a00 169.5px,#00d300 267.5px,#04ff00 306.5px,#bdfe00 337.5px,#f1e700 380.5px,#ffb400 423.5px,#ff8f00 452.5px,#fe0000 507.5px,#da0000 588.5px,#cc0202 589.5px,#cc1f1f 595.5px,#cc4242 608.5px,#cc5b5b 725.5px,#cc5151 735.5px,#cc0101 746.5px,#d90000 748.5px,#d00 758px)"></i>
<i style="left:1355px;width:7px;background:linear-gradient(#007edd 0px,#008fdd 32.5px,#009fcb 56.5px,#00aa98 119.5px,#00a981 134.5px,#009f31 152.5px,#009a00 175.5px,#00d300 272.5px,#02ff00 311.5px,#bcff00 342.5px,#f1e700 385.5px,#ffb300 429.5px,#ff8d00 458.5px,#fe0000 512.5px,#db0000 588.5px,#cc0303 589.5px,#cc1d1d 593.5px,#cc5050 607.5px,#cc7070 724.5px,#cc6363 735.5px,#cc0101 746.5px,#d90000 748.5px,#d00 758px)"></i>
<i style="left:1362px;width:4px;background:linear-gradient(#007fdd 0px,#0092dd 25.5px,#00aaa6 99.5px,#00aa84 125.5px,#009f30 144.5px,#009a00 166.5px,#00d300 264.5px,#04ff00 303.5px,#bdfe00 334.5px,#f1e700 377.5px,#ffb400 420.5px,#ff8f00 449.5px,#fe0000 504.5px,#da0000 588.5px,#cc0303 589.5px,#cc1d1d 593.5px,#cc5151 607.5px,#cc7171 724.5px,#cc6464 735.5px,#cc0101 746.5px,#d90000 748.5px,#d00 758px)"></i>
<i style="left:1366px;width:6px;background:linear-gradient(#007fdd 0px,#0091dd 25.5px,#00aaa7 98.5px,#00a980 126.5px,#009f30 144.5px,#009a00 167.5px,#00d300 264.5px,#03ff00 303.5px,#bdfe00 334.5px,#f1e700 377.5px,#ffb300 421.5px,#ff8f00 449.5px,#fe0000 504.5px,#da0000 588.5px,#cc0202 589.5px,#cc2424 598.5px,#cc3b3b 608.5px,#cc5151 726.5px,#cc4949 735.5px,#cc0101 746.5px,#d90000 748.5px,#d00 758px)"></i>
<i style="left:1372px;width:4px;background:linear-gradient(#007fdd 0px,#0091dd 25.5px,#00aaa9 97.5px,#00a981 126.5px,#009f31 144.5px,#009a00 167.5px,#00d300 264.5px,#02ff00 303.5px,#bcff00 334.5px,#f1e700 377.5px,#ffb300 421.5px,#ff8d00 450.5px,#fe0000 504.5px,#da0000 588.5px,#cc0303 589.5px,#cc1d1d 593.5px,#cc5151 607.5px,#cc7171 724.5px,#cc6464 735.5px,#cc0101 746.5px,#d90000 748.5px,#d00 758px)"></i>
<i style="left:1376px;width:2px;background:linear-gradient(#007edd 0px,#008fdd 35.5px,#009fcb 59.5px,#00aa98 122.5px,#00a981 137.5px,#009f31 155.5px,#009a00 178.5px,#00d300 275.5px,#02ff00 314.5px,#bdfe00 345.5px,#f1e700 388.5px,#ffb300 432.5px,#ff8d00 461.5px,#fe0000 515.5px,#dc0000 588.5px,#cc0303 589.5px,#cc1d1d 593.5px,#cc5151 607.5px,#cc7171 724.5px,#cc6464 735.5px,#cc0101 746.5px,#d80000 748.5px,#d00 758px)"></i>
<i style="left:1378px;width:5px;background:linear-gradient(#007edd 0px,#008fdd 35.5px,#009fcb 59.5px,#00aa98 122.5px,#00a981 137.5px,#009f31 155.5px,#009a00 178.5px,#00d300 275.5px,#02ff00 314.5px,#bdfe00 345.5px,#f1e700 388.5px,#ffb300 432.5px,#ff8d00 461.5px,#fe0000 515.5px,#dc0000 588.5px,#cc0202 589.5px,#cc2121 596.5px,#cc4040 608.5px,#cc5959 725.5px,#cc4f4f 735.5px,#cc0101 746.5px,#d80000 748.5px,#d00 758px)"></i>
<i style="left:1383px;width:1px;background:linear-gradient(#0080dd 0px,#0092dd 23.5px,#00aaa1 101.5px,#00a982 123.5px,#009f2f 142.5px,#009a00 164.5px,#00d200 261.5px,#0f0 300.5px,#bcff00 331.5px,#f1e800 374.5px,#ffb400 418.5px,#ff8e00 447.5px,#fe0000 502.5px,#d90000 588.5px,#cc0202 589.5px,#cc2121 596.5px,#cc4040 608.5px,#cc5959 725.5px,#cc4f4f 735.5px,#cc0101 746.5px,#d90000 748.5px,#d00 758px)"></i>
<i style="left:1384px;width:6px;background:linear-gradient(#0080dd 0px,#0092dd 23.5px,#00aaa1 101.5px,#00a982 123.5px,#009f2f 142.5px,#009a00 164.5px,#00d200 261.5px,#0f0 300.5px,#bcff00 331.5px,#f1e800 374.5px,#ffb400 418.5px,#ff8e00 447.5px,#fe0000 502.5px,#d90000 588.5px,#cc0303 589.5px,#cc1d1d 593.5px,#cc5151 607.5px,#cc7171 724.5px,#cc6464 735.5px,#cc0101 746.5px,#d90000 748.5px,#d00 758px)"></i>
<i style="left:1390px;width:7px;background:linear-gradient(#007edd 0px,#0090dd 31.5px,#00a5b9 81.5px,#00aa8d 127.5px,#00a87b 134.5px,#009f30 151.5px,#009a00 174.5px,#00d300 271.5px,#03ff00 310.5px,#bdfe00 341.5px,#f1e700 384.5px,#ffb400 427.5px,#ff8f00 456.5px,#fe0000 511.5px,#db0000 588.5px,#cc0303 589.5px,#cc1d1d 593.5px,#cc5151 607.5px,#cc7171 724.5px,#cc6464 735.5px,#cc0101 746.5px,#d90000 748.5px,#d00 758px)"></i>
<i style="left:1397px;width:4px;background:linear-gradient(#0084dd 0px,#009cd5 28.5px,#00aa95 102.5px,#00a983 114.5px,#009f2f 133.5px,#009a00 155.5px,#00d300 253.5px,#05ff00 292.5px,#bcff00 322.5px,#f1e800 365.5px,#ffb400 409.5px,#ff8e00 438.5px,#fe0000 493.5px,#d80000 585.5px,#d70000 588.5px,#cc0e0e 590.5px,#cc4f4f 607.5px,#cc6e6e 724.5px,#cc6161 735.5px,#cc0101 746.5px,#d90000 747.5px,#d00 758px)"></i>
<i style="left:1401px;width:1px;background:linear-gradient(#0084dd 0px,#009cd5 28.5px,#00aa95 102.5px,#00a983 114.5px,#009f2f 133.5px,#009a00 155.5px,#00d300 253.5px,#05ff00 292.5px,#bcff00 322.5px,#f1e800 365.5px,#ffb400 409.5px,#ff8e00 438.5px,#fe0000 493.5px,#d80000 585.5px,#d70000 588.5px,#cc0c0c 590.5px,#cc4141 607.5px,#cc5a5a 725.5px,#cc5050 735.5px,#cc0101 746.5px,#d90000 747.5px,#d00 758px)"></i>
<i style="left:1402px;width:1px;background:linear-gradient(#0084dd 0px,#009cd5 28.5px,#00aa93 105.5px,#00a981 116.5px,#00a039 133.5px,#009a00 160.5px,#00d100 254.5px,#02ff00 296.5px,#bdfe00 328.5px,#f3e400 374.5px,#ffb000 417.5px,#ff8e00 444.5px,#fe0000 497.5px,#d90000 582.5px,#d80000 588.5px,#cc0a0a 590.5px,#cc3737 608.5px,#cc4b4b 726.5px,#cc3d3d 736.5px,#cc0101 746.5px,#d90000 747.5px,#d00 758px)"></i>
<i style="left:1403px;width:1px;background:linear-gradient(#0083dd 0px,#009bd6 29.5px,#00aa90 111.5px,#00a980 120.5px,#00a24a 134.5px,#009902 168.5px,#0c0 256.5px,#03ff00 306.5px,#a6ff00 336.5px,#befe00 343.5px,#f2e500 385.5px,#ffb300 424.5px,#ff8f00 455.5px,#fe0000 505.5px,#db0000 574.5px,#d80000 588.5px,#cc0101 589.5px,#cc2d2d 608.5px,#cc3c3c 728.5px,#cc3232 736.5px,#c00 746.5px,#d90000 747.5px,#d00 758px)"></i>
<i style="left:1404px;width:1px;background:linear-gradient(#0083dd 0px,#009cd5 30.5px,#0a8 121.5px,#00a454 137.5px,#009c15 167.5px,#009b00 184.5px,#00ca00 261.5px,#02ff00 316.5px,#baff00 354.5px,#f4e200 398.5px,#ffbc00 424.5px,#ff9000 464.5px,#fe0000 512.5px,#dc0000 569.5px,#d90000 588.5px,#cc0101 589.5px,#cc2323 609.5px,#cc2e2e 731.5px,#cc1f1f 738.5px,#c00 746.5px,#da0000 747.5px,#d00 758px)"></i>
<i style="left:1405px;width:1px;background:linear-gradient(#0082dd 0px,#009bd6 31.5px,#00aa87 126.5px,#00a036 159.5px,#009a00 195.5px,#00c900 269.5px,#05ff00 329.5px,#bdfe00 370.5px,#f1e700 401.5px,#fecd00 416.5px,#ff9300 472.5px,#fe0000 518.5px,#dc0000 565.5px,#da0000 588.5px,#cc0101 589.5px,#cc1919 611.5px,#cc1f1f 735.5px,#c00 746.5px,#db0000 747.5px,#d00 758px)"></i>
<i style="left:1406px;width:1px;background:linear-gradient(#0081dd 0px,#009cd5 33.5px,#0a8 131.5px,#00a244 162.5px,#009a00 206.5px,#0c0 283.5px,#05ff00 344.5px,#87ff00 372.5px,#bdfe00 383.5px,#d7f600 397.5px,#f3e400 406.5px,#fcd200 419.5px,#ff9700 479.5px,#fe0000 524.5px,#d00 563.5px,#da0000 588.5px,#c00 589.5px,#cc1010 619.5px,#c11 736.5px,#c00 746.5px,#db0000 747.5px,#d00 758px)"></i>
<i style="left:1407px;width:1px;background:linear-gradient(#0081dd 0px,#009cd5 35.5px,#00aa8b 134.5px,#00a874 147.5px,#009b00 218.5px,#00d800 309.5px,#05ff00 360.5px,#cef900 399.5px,#f2e600 408.5px,#ffb200 465.5px,#ff9100 488.5px,#fe0000 530.5px,#d00 561.5px,#db0000 588.5px,#c00 589.5px,#cc0202 743.5px,#c00 746.5px,#dc0000 747.5px,#d00 758px)"></i>
<i style="left:1408px;width:1px;background:linear-gradient(#0080dd 0px,#009bd6 36.5px,#00aa8d 139.5px,#00a669 163.5px,#009a00 230.5px,#00e400 339.5px,#03ff00 374.5px,#6fff00 395.5px,#bcff00 399.5px,#f0ea00 409.5px,#ffb500 470.5px,#ff9000 495.5px,#fd0000 534.5px,#d00 560.5px,#d00 758px)"></i>
<i style="left:1409px;width:1px;background:linear-gradient(#007fdd 0px,#009cd5 39.5px,#00aa8c 148.5px,#00a036 208.5px,#009b00 245.5px,#01ff00 388.5px,#24ff00 395.5px,#bdfe00 402.5px,#f0ea00 411.5px,#ffc000 469.5px,#ff9000 501.5px,#ff0f00 533.5px,#fd0000 536.5px,#d00 559.5px,#d00 758px)"></i>
<i style="left:1410px;width:1px;background:linear-gradient(#007fdd 0px,#009bd6 39.5px,#00aa8b 153.5px,#00a770 177.5px,#009b00 253.5px,#00fd00 393.5px,#0f0 395.5px,#bcff00 403.5px,#ee0 411.5px,#ffc200 471.5px,#ff9000 504.5px,#ff1700 533.5px,#fd0000 537.5px,#d00 559.5px,#d00 758px)"></i>
<i style="left:1411px;width:7px;background:linear-gradient(#007add 0px,#0089dd 28.5px,#009cd3 58.5px,#00aa8a 172.5px,#009b00 269.5px,#00fd00 409.5px,#0f0 411.5px,#bcff00 419.5px,#ee0 427.5px,#ffc200 487.5px,#ff8f00 520.5px,#ff1600 549.5px,#fd0000 553.5px,#d00 575.5px,#d00 758px)"></i>
<i style="left:1418px;width:7px;background:linear-gradient(#007edd 0px,#009cd5 41.5px,#00aa8b 155.5px,#00a76d 181.5px,#009a00 254.5px,#00fd00 394.5px,#06ff00 397.5px,#b2ff00 404.5px,#ee0 412.5px,#ffc100 473.5px,#ff9200 505.5px,#ff1300 535.5px,#fe0000 538.5px,#d00 560.5px,#d00 758px)"></i>
<i style="left:1425px;width:7px;background:linear-gradient(#007add 0px,#0089dd 31.5px,#009cd3 61.5px,#00aa8a 175.5px,#009b00 272.5px,#00fd00 412.5px,#0f0 414.5px,#5bff00 418.5px,#bcff00 422.5px,#ee0 430.5px,#ffc200 490.5px,#ff9000 523.5px,#ff1800 552.5px,#fd0000 556.5px,#d00 578.5px,#d00 758px)"></i>
<i style="left:1432px;width:7px;background:linear-gradient(#007ddd 0px,#009bd6 44.5px,#00aa8b 158.5px,#00a770 182.5px,#009b00 258.5px,#00fd00 398.5px,#0f0 400.5px,#bcff00 408.5px,#ee0 416.5px,#ffc200 476.5px,#ff9000 509.5px,#ff1700 538.5px,#fd0000 542.5px,#d00 564.5px,#d00 758px)"></i>
<i style="left:1439px;width:5px;background:linear-gradient(#007ddd 0px,#008bdd 19.5px,#009cd3 48.5px,#00aa8a 162.5px,#009b00 259.5px,#00fe00 400.5px,#0f0 401.5px,#bdfe00 409.5px,#ee0 417.5px,#ffc200 477.5px,#ff8f00 510.5px,#ff1600 539.5px,#fd0000 543.5px,#d00 565.5px,#d00 758px)"></i>
<i style="left:1444px;width:1px;background:linear-gradient(#007ddd 0px,#008bdd 19.5px,#009cd3 48.5px,#00aa89 162.5px,#009c17 220.5px,#009b00 233.5px,#04ff00 384.5px,#50ff00 401.5px,#bdfe00 407.5px,#ee0 417.5px,#ffc200 477.5px,#ff8f00 510.5px,#ff1600 539.5px,#fd0000 543.5px,#d00 565.5px,#d00 758px)"></i>
<i style="left:1445px;width:1px;background:linear-gradient(#007ddd 0px,#008bdd 19.5px,#009cd3 48.5px,#00aa86 160.5px,#009b00 211.5px,#04ff00 334.5px,#bdfe00 388.5px,#daf500 408.5px,#efeb00 421.5px,#ffc200 477.5px,#ff8f00 510.5px,#ff1600 539.5px,#fd0000 543.5px,#d00 565.5px,#d00 758px)"></i>
<i style="left:1446px;width:7px;background:linear-gradient(#007edd 0px,#009bd6 41.5px,#00aa87 154.5px,#009b00 201.5px,#02ff00 306.5px,#58ff00 325.5px,#bdfe00 357.5px,#f2e700 424.5px,#ffc000 474.5px,#ff9200 505.5px,#ff1400 535.5px,#fe0000 538.5px,#d00 560.5px,#d00 758px)"></i>
<i style="left:1453px;width:3px;background:linear-gradient(#007add 0px,#0089dd 32.5px,#009cd3 62.5px,#00aa85 173.5px,#009a00 219.5px,#04ff00 325.5px,#5aff00 344.5px,#bdfe00 376.5px,#f1e700 442.5px,#ffc100 492.5px,#ff9000 524.5px,#ff1700 553.5px,#fd0000 557.5px,#d00 579.5px,#d00 758px)"></i>
<i style="left:1456px;width:1px;background:linear-gradient(#007add 0px,#0089dd 32.5px,#009cd3 63.5px,#0a8 176.5px,#009b00 224.5px,#0f0 337.5px,#bdfe00 395.5px,#f3e400 456.5px,#ffb500 503.5px,#ff8f00 526.5px,#ff2100 553.5px,#fe0000 558.5px,#e20000 579.5px,#d00 758px)"></i>
<i style="left:1457px;width:1px;background:linear-gradient(#007add 0px,#0089dd 32.5px,#009cd4 65.5px,#00aa8d 177.5px,#00a87b 191.5px,#009d20 226.5px,#009b00 236.5px,#00c000 278.5px,#05ff00 378.5px,#bdfe00 427.5px,#e5f100 453.5px,#f7dd00 469.5px,#ffa700 517.5px,#ff8f00 530.5px,#ff2d00 554.5px,#fe0000 562.5px,#d00 596.5px,#d00 758px)"></i>
<i style="left:1458px;width:1px;background:linear-gradient(#007bdd 0px,#0089dd 25.5px,#009cd4 60.5px,#00aa94 169.5px,#00a980 196.5px,#00a03a 226.5px,#009a00 236.5px,#06ff00 403.5px,#6f0 423.5px,#bcff00 439.5px,#d8f500 447.5px,#f1e700 454.5px,#ffb300 505.5px,#ff9100 526.5px,#ff3100 550.5px,#fd0000 561.5px,#e80000 579.5px,#d00 587.5px,#d00 758px)"></i>
<i style="left:1459px;width:1px;background:linear-gradient(#007bdd 0px,#0089dd 25.5px,#009cd4 63.5px,#00aaa6 136.5px,#00a980 216.5px,#00a666 227.5px,#009a05 242.5px,#00cd00 365.5px,#0f0 424.5px,#76ff00 442.5px,#b6ff00 445.5px,#efec00 454.5px,#ffb100 510.5px,#ff9000 530.5px,#fe0000 570.5px,#f00000 578.5px,#d00 585.5px,#d00 758px)"></i>
<i style="left:1460px;width:5px;background:linear-gradient(#007bdd 0px,#0089dd 25.5px,#009cd4 64.5px,#00aaa9 131.5px,#00aa86 226.5px,#009c1a 242.5px,#009b00 270.5px,#00bf00 361.5px,#02ff00 432.5px,#48ff00 442.5px,#befe00 447.5px,#ee0 454.5px,#ffb100 512.5px,#ff8e00 533.5px,#fc0000 576.5px,#d00 584.5px,#d00 758px)"></i>
<i style="left:1465px;width:7px;background:linear-gradient(#007ddd 0px,#009bd6 56.5px,#00aaa9 125.5px,#0a8 220.5px,#009c1a 236.5px,#009b00 264.5px,#00bf00 356.5px,#01ff00 426.5px,#47ff00 436.5px,#71ff00 438.5px,#bcff00 441.5px,#eeed00 449.5px,#ffb000 507.5px,#ff8f00 527.5px,#fd0000 570.5px,#d00 578.5px,#d00 758px)"></i>
<i style="left:1472px;width:7px;background:linear-gradient(#007edd 0px,#009bd7 51.5px,#0aa 121.5px,#00aa87 217.5px,#009c1a 233.5px,#009b00 261.5px,#00bf00 353.5px,#01ff00 423.5px,#47ff00 433.5px,#72ff00 435.5px,#bcff00 438.5px,#eeed00 446.5px,#ffb000 504.5px,#ff8f00 524.5px,#fd0000 567.5px,#d00 575.5px,#d00 758px)"></i>
<i style="left:1479px;width:7px;background:linear-gradient(#007cdd 0px,#008bdd 22.5px,#009cd4 60.5px,#00aaa9 127.5px,#00aa87 222.5px,#009c1a 238.5px,#009b00 266.5px,#00bf00 358.5px,#01ff00 428.5px,#48ff00 438.5px,#8eff00 441.5px,#bdfe00 443.5px,#efed00 451.5px,#ffb000 509.5px,#ff8e00 529.5px,#fc0000 572.5px,#d00 580.5px,#d00 758px)"></i>
<i style="left:1486px;width:7px;background:linear-gradient(#007bdd 0px,#008add 25.5px,#009cd4 64.5px,#00aaa9 130.5px,#00a984 226.5px,#009c1b 241.5px,#009b00 270.5px,#00bf00 361.5px,#05ff00 432.5px,#4bff00 442.5px,#b4ff00 446.5px,#eeed00 454.5px,#ffb000 512.5px,#ff8d00 533.5px,#fb0000 576.5px,#d00 584.5px,#d00 758px)"></i>
<i style="left:1493px;width:7px;background:linear-gradient(#007edd 0px,#009bd8 49.5px,#0aa 120.5px,#00aa86 216.5px,#009c1a 232.5px,#009b00 260.5px,#00bf00 352.5px,#02ff00 422.5px,#48ff00 432.5px,#bdfe00 437.5px,#ee0 444.5px,#ffb100 502.5px,#ff8e00 523.5px,#fc0000 566.5px,#d00 574.5px,#d00 758px)"></i>
<i style="left:1500px;width:7px;background:linear-gradient(#007edd 0px,#009bd7 50.5px,#00aaa9 121.5px,#00aa84 217.5px,#009c1b 232.5px,#009b00 261.5px,#00bf00 352.5px,#04ff00 423.5px,#4aff00 433.5px,#b2ff00 437.5px,#eeed00 445.5px,#ffb000 503.5px,#ff8d00 524.5px,#fb0000 567.5px,#d00 575.5px,#d00 758px)"></i>
<i style="left:1507px;width:7px;background:linear-gradient(#007add 0px,#0089dd 30.5px,#009cd4 69.5px,#00aaa9 136.5px,#0a8 231.5px,#009c1a 247.5px,#009b00 275.5px,#00bf00 367.5px,#01ff00 437.5px,#47ff00 447.5px,#71ff00 449.5px,#bcff00 452.5px,#eeed00 460.5px,#ffb000 518.5px,#ff8f00 538.5px,#fd0000 581.5px,#d00 589.5px,#d00 758px)"></i>
<i style="left:1514px;width:7px;background:linear-gradient(#007add 0px,#0089dd 34.5px,#009cd4 73.5px,#00aaa9 140.5px,#00aa87 235.5px,#009c1a 251.5px,#009b00 279.5px,#00bf00 371.5px,#01ff00 441.5px,#47ff00 451.5px,#72ff00 453.5px,#bdfe00 456.5px,#eeed00 464.5px,#ffb000 522.5px,#ff8f00 542.5px,#fd0000 585.5px,#d00 593.5px,#d00 758px)"></i>
<i style="left:1521px;width:7px;background:linear-gradient(#007bdd 0px,#008add 27.5px,#009cd4 66.5px,#00aaa9 133.5px,#00aa85 228.5px,#009c1b 243.5px,#009b00 272.5px,#00bf00 363.5px,#03ff00 434.5px,#4aff00 444.5px,#b0ff00 448.5px,#cdf900 451.5px,#ee0 456.5px,#ffb100 514.5px,#ff8d00 535.5px,#fb0000 578.5px,#d00 586.5px,#d00 758px)"></i>
<i style="left:1528px;width:7px;background:linear-gradient(#007add 0px,#08d 32.5px,#009cd4 72.5px,#00aaa9 138.5px,#00a982 234.5px,#009c1a 249.5px,#009b00 277.5px,#00bf00 369.5px,#0f0 439.5px,#51ff00 450.5px,#baff00 454.5px,#eeed00 462.5px,#ffb000 520.5px,#ff8f00 540.5px,#f90000 584.5px,#d00 592.5px,#d00 758px)"></i>
<i style="left:1535px;width:7px;background:linear-gradient(#007ddd 0px,#009bd6 55.5px,#00aaa9 124.5px,#00aa86 219.5px,#009c1a 235.5px,#009b00 263.5px,#00bf00 355.5px,#02ff00 425.5px,#48ff00 435.5px,#befe00 440.5px,#ee0 447.5px,#ffb100 505.5px,#ff8e00 526.5px,#fc0000 569.5px,#d00 577.5px,#d00 758px)"></i>
<i style="left:1542px;width:7px;background:linear-gradient(#007add 0px,#0089dd 34.5px,#009cd4 73.5px,#00aaa9 140.5px,#00aa87 235.5px,#009c1a 251.5px,#009b00 279.5px,#00bf00 371.5px,#01ff00 441.5px,#48ff00 451.5px,#8eff00 454.5px,#bdfe00 456.5px,#efed00 464.5px,#ffb000 522.5px,#ff8e00 542.5px,#fd0000 585.5px,#d00 593.5px,#d00 758px)"></i>
<i style="left:1549px;width:7px;background:linear-gradient(#007bdd 0px,#008add 25.5px,#009cd4 64.5px,#00aaa9 131.5px,#00aa85 226.5px,#009c1b 241.5px,#009b00 270.5px,#00bf00 361.5px,#03ff00 432.5px,#4aff00 442.5px,#b0ff00 446.5px,#cdf900 449.5px,#ee0 454.5px,#ffb100 512.5px,#ff8d00 533.5px,#fb0000 576.5px,#d00 584.5px,#d00 758px)"></i>
<i style="left:1556px;width:7px;background:linear-gradient(#007add 0px,#0089dd 29.5px,#009cd4 68.5px,#00aaa9 135.5px,#0a8 230.5px,#009c1a 246.5px,#009b00 274.5px,#00bf00 366.5px,#0f0 436.5px,#46ff00 446.5px,#5f0 447.5px,#bcff00 451.5px,#eeed00 459.5px,#ffb000 517.5px,#ff8f00 537.5px,#f90000 581.5px,#d00 589.5px,#d00 758px)"></i>
<i style="left:1563px;width:7px;background:linear-gradient(#007add 0px,#0089dd 34.5px,#009cd4 73.5px,#00aaa9 140.5px,#00aa87 235.5px,#009c1a 251.5px,#009b00 279.5px,#00bf00 371.5px,#01ff00 441.5px,#48ff00 451.5px,#8eff00 454.5px,#bdfe00 456.5px,#efed00 464.5px,#ffb000 522.5px,#ff8e00 542.5px,#fd0000 585.5px,#d00 593.5px,#d00 758px)"></i>
<i style="left:1570px;width:7px;background:linear-gradient(#007add 0px,#0089dd 36.5px,#009cd4 75.5px,#00aaa9 142.5px,#00aa87 237.5px,#009c1a 253.5px,#009b00 281.5px,#00bf00 373.5px,#01ff00 443.5px,#48ff00 453.5px,#8eff00 456.5px,#bdfe00 458.5px,#efed00 466.5px,#ffb000 524.5px,#ff8e00 544.5px,#fd0000 587.5px,#d00 595.5px,#d00 758px)"></i>
<i style="left:1577px;width:7px;background:linear-gradient(#007cdd 0px,#008add 22.5px,#009cd4 61.5px,#00aaa9 127.5px,#00aa84 223.5px,#009c1b 238.5px,#009b00 267.5px,#00bf00 358.5px,#04ff00 429.5px,#4aff00 439.5px,#b2ff00 443.5px,#eeed00 451.5px,#ffb000 509.5px,#ff8d00 530.5px,#fb0000 573.5px,#d00 581.5px,#d00 758px)"></i>
<i style="left:1584px;width:7px;background:linear-gradient(#007ddd 0px,#009bd6 55.5px,#00aaa9 124.5px,#0a8 219.5px,#009c1a 235.5px,#009b00 263.5px,#00bf00 355.5px,#0f0 425.5px,#46ff00 435.5px,#5f0 436.5px,#bcff00 440.5px,#eeed00 448.5px,#ffb000 506.5px,#ff8f00 526.5px,#f90000 570.5px,#d00 578.5px,#d00 758px)"></i>
<i style="left:1591px;width:7px;background:linear-gradient(#007bdd 0px,#008add 25.5px,#009cd4 64.5px,#00aaa9 130.5px,#00aa84 226.5px,#009c1b 241.5px,#009b00 270.5px,#00bf00 361.5px,#04ff00 432.5px,#4aff00 442.5px,#b2ff00 446.5px,#ee0 454.5px,#ffb000 512.5px,#ff8d00 533.5px,#fb0000 576.5px,#d00 584.5px,#d00 758px)"></i>
<i style="left:1598px;width:7px;background:linear-gradient(#007ddd 0px,#009bd6 55.5px,#00aaa9 124.5px,#0a8 219.5px,#009c1a 235.5px,#009b00 263.5px,#00bf00 355.5px,#0f0 425.5px,#47ff00 435.5px,#6fff00 437.5px,#bcff00 440.5px,#eeed00 448.5px,#ffb000 506.5px,#ff8f00 526.5px,#f90000 570.5px,#d00 577.5px,#d00 758px)"></i>
<i style="left:1605px;width:7px;background:linear-gradient(#007add 0px,#08d 27.5px,#009cd4 67.5px,#00aaa9 133.5px,#00a982 229.5px,#009c1a 244.5px,#009b00 272.5px,#00bf00 364.5px,#0f0 434.5px,#51ff00 445.5px,#baff00 449.5px,#eeed00 457.5px,#ffb000 515.5px,#ff8f00 535.5px,#f90000 579.5px,#d00 587.5px,#d00 758px)"></i>
<i style="left:1612px;width:7px;background:linear-gradient(#007add 0px,#0089dd 33.5px,#009cd4 72.5px,#00aaa9 139.5px,#0a8 234.5px,#009c1a 250.5px,#009b00 278.5px,#00bf00 370.5px,#0f0 440.5px,#46ff00 450.5px,#70ff00 452.5px,#bcff00 455.5px,#eeed00 463.5px,#ffb100 520.5px,#ff8f00 541.5px,#fd0000 584.5px,#d00 592.5px,#d00 758px)"></i>
<i style="left:1619px;width:1px;background:linear-gradient(#007add 0px,#008add 28.5px,#009cd4 67.5px,#00aaa9 133.5px,#00aa85 229.5px,#009d20 244.5px,#009b00 276.5px,#00c000 368.5px,#05ff00 437.5px,#3cff00 445.5px,#baff00 450.5px,#e8f000 457.5px,#ffb900 510.5px,#ff8f00 537.5px,#fc0000 579.5px,#df0000 587.5px,#d00 758px)"></i>
<i style="left:1620px;width:1px;background:linear-gradient(#007add 0px,#008add 28.5px,#009cd4 67.5px,#00aaa9 133.5px,#00aa86 229.5px,#009d23 244.5px,#009b00 278.5px,#00c100 372.5px,#03ff00 438.5px,#32ff00 445.5px,#adff00 450.5px,#c5fc00 452.5px,#e5f100 458.5px,#fb0 510.5px,#ff8f00 538.5px,#fc0000 579.5px,#e00000 587.5px,#d00 758px)"></i>
<i style="left:1621px;width:1px;background:linear-gradient(#007add 0px,#008add 28.5px,#009cd4 67.5px,#00aaa9 133.5px,#00aa87 229.5px,#009e26 244.5px,#009b00 280.5px,#00c300 376.5px,#0f0 439.5px,#29ff00 445.5px,#b8ff00 451.5px,#dff300 457.5px,#fbd300 493.5px,#ff9000 539.5px,#f90000 580.5px,#e10000 588.5px,#d00 758px)"></i>
<i style="left:1622px;width:1px;background:linear-gradient(#007add 0px,#008add 28.5px,#009cd4 67.5px,#00aaa9 133.5px,#0a8 229.5px,#009e29 244.5px,#009b00 283.5px,#00c500 381.5px,#05ff00 441.5px,#1fff00 445.5px,#bdfe00 452.5px,#dbf400 458.5px,#f8d900 489.5px,#ff9000 540.5px,#f90000 580.5px,#e20000 588.5px,#d00 758px)"></i>
<i style="left:1623px;width:1px;background:linear-gradient(#007add 0px,#008add 28.5px,#009cd4 67.5px,#00aaa9 133.5px,#00a983 230.5px,#009e2b 245.5px,#009b00 285.5px,#00c500 382.5px,#02ff00 442.5px,#16ff00 445.5px,#b4ff00 452.5px,#d6f600 457.5px,#f6df00 486.5px,#ff9f00 533.5px,#f80 543.5px,#ff0d00 578.5px,#fe0000 579.5px,#e40000 588.5px,#d00 724.5px,#d00 758px)"></i>
<i style="left:1624px;width:1px;background:linear-gradient(#007add 0px,#008add 28.5px,#009cd4 67.5px,#00aaa9 133.5px,#00a984 230.5px,#009f2e 245.5px,#009b00 287.5px,#00c500 384.5px,#05ff00 444.5px,#0cff00 445.5px,#bf0 453.5px,#d2f700 458.5px,#f5df00 487.5px,#ffa200 532.5px,#ff8c00 543.5px,#ff0f00 578.5px,#f00 579.5px,#e50000 588.5px,#d00 643.5px,#d00 758px)"></i>
<i style="left:1625px;width:1px;background:linear-gradient(#007add 0px,#008add 28.5px,#009cd4 67.5px,#00aaa9 133.5px,#00aa85 230.5px,#009f32 245.5px,#009b00 289.5px,#00c600 386.5px,#02ff00 445.5px,#bdfe00 454.5px,#d0f800 460.5px,#f6df00 489.5px,#ffa200 533.5px,#ff8b00 544.5px,#f10 578.5px,#ff0100 579.5px,#e60000 588.5px,#d00 626.5px,#d00 758px)"></i>
<i style="left:1626px;width:1px;background:linear-gradient(#007add 0px,#08d 29.5px,#009cd4 69.5px,#00aaa9 135.5px,#00aa85 232.5px,#00a035 247.5px,#009b00 293.5px,#00c700 391.5px,#00fe00 447.5px,#b6ff00 456.5px,#c9fa00 460.5px,#f4e200 490.5px,#ffab00 529.5px,#ff8e00 546.5px,#ff1300 580.5px,#ff0300 581.5px,#e70000 590.5px,#d00 621.5px,#d00 758px)"></i>
<i style="left:1627px;width:1px;background:linear-gradient(#007add 0px,#08d 29.5px,#009cd4 69.5px,#00aaa9 135.5px,#00aa86 232.5px,#00a038 247.5px,#009b00 294.5px,#00c800 393.5px,#05ff00 448.5px,#bf0 457.5px,#f3e400 490.5px,#ffb000 527.5px,#ff9200 546.5px,#ff1500 580.5px,#fd0000 582.5px,#e80000 590.5px,#d00 617.5px,#d00 758px)"></i>
<i style="left:1628px;width:1px;background:linear-gradient(#007add 0px,#08d 29.5px,#009cd4 69.5px,#00aaa9 135.5px,#00aa87 232.5px,#00a03b 247.5px,#009b00 296.5px,#00c800 395.5px,#00fe00 448.5px,#bcff00 458.5px,#f3e400 491.5px,#ffb200 526.5px,#ff9100 547.5px,#ff1700 580.5px,#fd0000 582.5px,#e90000 591.5px,#d00 614.5px,#d00 758px)"></i>
<i style="left:1629px;width:1px;background:linear-gradient(#007add 0px,#08d 29.5px,#009cd4 69.5px,#00aaa9 135.5px,#0a8 232.5px,#00a13e 247.5px,#009b00 297.5px,#00ca00 398.5px,#03ff00 449.5px,#aeff00 458.5px,#befe00 462.5px,#e1f200 481.5px,#f4e200 494.5px,#ffaf00 529.5px,#ff9100 548.5px,#ff1a00 580.5px,#fe0000 582.5px,#eb0000 591.5px,#d00 612.5px,#d00 758px)"></i>
<i style="left:1630px;width:1px;background:linear-gradient(#007add 0px,#08d 29.5px,#009cd4 69.5px,#00aaa9 135.5px,#00aa84 233.5px,#00a142 247.5px,#009b00 299.5px,#00ca00 400.5px,#00fe00 449.5px,#42ff00 453.5px,#9eff00 458.5px,#bdfe00 465.5px,#ddf400 481.5px,#f2e500 493.5px,#ffb400 527.5px,#ff9000 549.5px,#ff1c00 580.5px,#f00 582.5px,#ec0000 591.5px,#d00 611.5px,#d00 758px)"></i>
<i style="left:1631px;width:1px;background:linear-gradient(#007add 0px,#08d 29.5px,#009cd4 69.5px,#00aaa9 135.5px,#00aa85 233.5px,#00a245 247.5px,#009b00 300.5px,#00cb00 403.5px,#00fc00 449.5px,#0f0 450.5px,#8dff00 458.5px,#bcff00 468.5px,#f1e800 492.5px,#ffb800 525.5px,#ff9000 550.5px,#ff1e00 580.5px,#ff0200 582.5px,#ea0000 593.5px,#d00 611.5px,#d00 758px)"></i>
<i style="left:1632px;width:1px;background:linear-gradient(#007add 0px,#08d 29.5px,#009cd4 69.5px,#00aaa9 135.5px,#00aa86 233.5px,#00a248 247.5px,#009b00 301.5px,#00ca00 403.5px,#00fa00 449.5px,#05ff00 451.5px,#7cff00 458.5px,#bdfe00 472.5px,#f0ea00 492.5px,#ffb900 525.5px,#ff8f00 551.5px,#ff2100 580.5px,#fd0000 583.5px,#d00 603.5px,#d00 758px)"></i>
<i style="left:1633px;width:1px;background:linear-gradient(#007cdd 0px,#008add 22.5px,#009cd4 61.5px,#00aaa9 128.5px,#00a984 226.5px,#00a24b 239.5px,#009b00 295.5px,#00c900 396.5px,#00fa00 442.5px,#07ff00 444.5px,#74ff00 451.5px,#c8fb00 470.5px,#f0eb00 485.5px,#ffb900 518.5px,#ff8f00 544.5px,#ff2400 572.5px,#fe0000 575.5px,#d00 596.5px,#d00 758px)"></i>
<i style="left:1634px;width:1px;background:linear-gradient(#007cdd 0px,#008add 22.5px,#009cd4 61.5px,#00aaa9 128.5px,#00aa85 226.5px,#00a34d 240.5px,#009b00 296.5px,#00c800 396.5px,#00f800 442.5px,#00fe00 444.5px,#63ff00 451.5px,#af0 466.5px,#c0fd00 469.5px,#f0eb00 486.5px,#ffb900 519.5px,#ff9200 544.5px,#ff2600 572.5px,#ff0100 575.5px,#d00 598.5px,#d00 758px)"></i>
<i style="left:1635px;width:1px;background:linear-gradient(#007cdd 0px,#008add 22.5px,#009cd4 61.5px,#00aaa9 128.5px,#00aa86 226.5px,#00a350 240.5px,#009b00 297.5px,#00c800 397.5px,#00f600 442.5px,#00fe00 445.5px,#52ff00 451.5px,#9f0 466.5px,#bcff00 469.5px,#f0eb00 487.5px,#ffb900 520.5px,#ff9100 545.5px,#ff2900 572.5px,#fd0000 576.5px,#d00 599.5px,#d00 758px)"></i>
<i style="left:1636px;width:1px;background:linear-gradient(#007cdd 0px,#008add 22.5px,#009cd4 61.5px,#00aaa9 128.5px,#0a8 226.5px,#00a354 240.5px,#009b00 299.5px,#00c700 397.5px,#00f400 442.5px,#0f0 446.5px,#42ff00 451.5px,#8f0 466.5px,#bf0 470.5px,#f0eb00 488.5px,#ffba00 520.5px,#ff9100 546.5px,#ff2b00 572.5px,#fe0000 576.5px,#d00 599.5px,#d00 758px)"></i>
<i style="left:1637px;width:1px;background:linear-gradient(#007cdd 0px,#008add 22.5px,#009cd4 61.5px,#00aaa9 128.5px,#00aa85 227.5px,#00a457 240.5px,#009b00 300.5px,#00c600 398.5px,#00f400 443.5px,#0f0 447.5px,#31ff00 451.5px,#7f0 466.5px,#b9ff00 471.5px,#efec00 488.5px,#ffba00 521.5px,#ff9000 547.5px,#ff2d00 572.5px,#ff0100 576.5px,#d00 599.5px,#d00 758px)"></i>
<i style="left:1638px;width:1px;background:linear-gradient(#007cdd 0px,#008add 22.5px,#009cd4 61.5px,#00aaa9 128.5px,#00aa87 227.5px,#00a459 241.5px,#009a06 294.5px,#00c300 396.5px,#00f200 443.5px,#00fe00 448.5px,#25ff00 452.5px,#6f0 466.5px,#b8ff00 472.5px,#ee0 488.5px,#ffbc00 521.5px,#ff8f00 548.5px,#ff3000 572.5px,#fe0000 577.5px,#d00 599.5px,#d00 758px)"></i>
<i style="left:1639px;width:1px;background:linear-gradient(#007cdd 0px,#008add 22.5px,#009cd4 61.5px,#00aaa9 128.5px,#00aa84 228.5px,#00a45c 241.5px,#009a0a 293.5px,#009b00 306.5px,#00c500 400.5px,#00f000 443.5px,#07ff00 450.5px,#5f0 466.5px,#b7ff00 473.5px,#ee0 489.5px,#fb0 522.5px,#ff9200 548.5px,#ff2800 573.5px,#f00 577.5px,#d00 598.5px,#d00 758px)"></i>
<i style="left:1640px;width:1px;background:linear-gradient(#007ddd 0px,#009bd6 54.5px,#00aaa9 123.5px,#00aa85 224.5px,#00a55e 237.5px,#009b0f 287.5px,#009a00 300.5px,#00c400 396.5px,#00ef00 439.5px,#05ff00 448.5px,#3fff00 461.5px,#bcff00 470.5px,#efeb00 487.5px,#ffb900 520.5px,#ff8f00 545.5px,#ff3100 568.5px,#f00 573.5px,#d00 594.5px,#d00 758px)"></i>
<i style="left:1641px;width:1px;background:linear-gradient(#007ddd 0px,#009bd6 54.5px,#00aaa9 123.5px,#00aa86 224.5px,#00a560 238.5px,#009b14 286.5px,#009a00 301.5px,#00c300 396.5px,#00ef00 440.5px,#06ff00 452.5px,#2eff00 461.5px,#bcff00 471.5px,#f0eb00 488.5px,#ffb900 521.5px,#ff9200 545.5px,#f30 568.5px,#fe0000 574.5px,#d00 594.5px,#d00 758px)"></i>
<i style="left:1642px;width:1px;background:linear-gradient(#007ddd 0px,#009bd6 54.5px,#00aaa9 123.5px,#00aa85 225.5px,#00a562 239.5px,#009c16 286.5px,#009a00 303.5px,#00c200 397.5px,#00ec00 440.5px,#06ff00 456.5px,#1dff00 461.5px,#bdfe00 472.5px,#f1e800 490.5px,#ffb700 523.5px,#ff9100 546.5px,#ff2d00 569.5px,#f00 574.5px,#d00 594.5px,#d00 758px)"></i>
<i style="left:1643px;width:1px;background:linear-gradient(#007ddd 0px,#009bd6 54.5px,#00aaa9 123.5px,#00aa87 225.5px,#00a564 240.5px,#009c1a 285.5px,#009a00 303.5px,#00c100 398.5px,#00ec00 441.5px,#03ff00 459.5px,#17ff00 462.5px,#bdfe00 473.5px,#f1e800 491.5px,#ffb500 525.5px,#ff9000 547.5px,#ff3000 569.5px,#fe0000 575.5px,#d00 594.5px,#d00 758px)"></i>
<i style="left:1644px;width:1px;background:linear-gradient(#007ddd 0px,#009bd6 54.5px,#00aaa9 123.5px,#00aa86 226.5px,#00a562 243.5px,#009d1d 285.5px,#009a00 305.5px,#00c100 399.5px,#00eb00 442.5px,#00fe00 461.5px,#17ff00 463.5px,#b8ff00 473.5px,#eeed00 489.5px,#ffba00 523.5px,#ff8f00 548.5px,#f30 569.5px,#fe0000 576.5px,#d00 594.5px,#d00 758px)"></i>
<i style="left:1645px;width:1px;background:linear-gradient(#007ddd 0px,#009bd6 54.5px,#00aaa9 123.5px,#00aa85 227.5px,#00a456 254.5px,#009901 304.5px,#00bf00 398.5px,#00ea00 443.5px,#00fd00 462.5px,#17ff00 464.5px,#bf0 474.5px,#f1e800 492.5px,#ffb600 526.5px,#ff9200 548.5px,#ff3500 569.5px,#ff0200 576.5px,#d00 593.5px,#d00 758px)"></i>
<i style="left:1646px;width:1px;background:linear-gradient(#007ddd 0px,#009bd6 54.5px,#00aaa9 123.5px,#00aa85 228.5px,#009d21 285.5px,#090 307.5px,#00c000 401.5px,#00fa00 462.5px,#07ff00 464.5px,#bdfe00 475.5px,#f1e700 493.5px,#ffb500 528.5px,#ff9000 549.5px,#ff3800 569.5px,#ff0400 577.5px,#d00 593.5px,#d00 758px)"></i>
<i style="left:1647px;width:1px;background:linear-gradient(#007ddd 0px,#009bd6 53.5px,#00aaa9 123.5px,#00aa84 229.5px,#009e28 283.5px,#009a05 304.5px,#0b0 396.5px,#00f700 462.5px,#00fe00 464.5px,#4fff00 469.5px,#b8ff00 475.5px,#f1e800 493.5px,#ffb400 529.5px,#ff8f00 550.5px,#ff3400 570.5px,#ff0600 578.5px,#d00 593.5px,#d00 758px)"></i>
<i style="left:1648px;width:1px;background:linear-gradient(#007ddd 0px,#009bd6 53.5px,#00aaa9 123.5px,#00aa85 230.5px,#009f2d 282.5px,#009a08 303.5px,#009f00 333.5px,#00c500 413.5px,#00f800 463.5px,#00fe00 465.5px,#bcff00 476.5px,#f1e700 494.5px,#ffb400 530.5px,#ff9100 550.5px,#ff3100 571.5px,#fe0000 580.5px,#d00 592.5px,#d00 758px)"></i>
<i style="left:1649px;width:1px;background:linear-gradient(#007ddd 0px,#009bd6 53.5px,#00aaa9 123.5px,#00aa85 231.5px,#009f31 281.5px,#009a0b 302.5px,#009c00 325.5px,#00c100 409.5px,#00f500 463.5px,#00fe00 466.5px,#b3ff00 476.5px,#eeed00 492.5px,#ffb800 528.5px,#ff9000 551.5px,#ff2e00 572.5px,#ff0c00 579.5px,#f00 580.5px,#d00 592.5px,#d00 758px)"></i>
<i style="left:1650px;width:1px;background:linear-gradient(#007ddd 0px,#009bd6 53.5px,#00aaa9 123.5px,#00aa84 233.5px,#00a036 280.5px,#009b0e 301.5px,#009c00 324.5px,#00bf00 409.5px,#00f200 463.5px,#01ff00 467.5px,#b8ff00 477.5px,#f1e800 495.5px,#ffb300 532.5px,#ff8e00 552.5px,#ff1200 579.5px,#fc0000 581.5px,#d00 592.5px,#d00 758px)"></i>
<i style="left:1651px;width:1px;background:linear-gradient(#007ddd 0px,#009bd6 53.5px,#00aaa9 123.5px,#00a983 236.5px,#00a039 280.5px,#009b11 301.5px,#009b00 325.5px,#00bf00 410.5px,#00ef00 463.5px,#05ff00 468.5px,#adff00 477.5px,#c2fd00 480.5px,#f2e600 496.5px,#ffb100 534.5px,#ff9100 552.5px,#ff1700 579.5px,#fd0000 581.5px,#d00 592.5px,#d00 758px)"></i>
<i style="left:1652px;width:2px;background:linear-gradient(#007ddd 0px,#009bd6 53.5px,#00aaa9 123.5px,#00a982 239.5px,#00a13c 280.5px,#009c14 300.5px,#009b00 327.5px,#00be00 411.5px,#00eb00 463.5px,#07ff00 469.5px,#a0ff00 477.5px,#befe00 480.5px,#f1e800 496.5px,#ffb200 534.5px,#ff9000 553.5px,#ff1d00 579.5px,#fe0000 581.5px,#d00 592.5px,#d00 758px)"></i>
<i style="left:1654px;width:7px;background:linear-gradient(#007ddd 0px,#009bd6 56.5px,#00aaa9 125.5px,#00a983 241.5px,#00a13c 282.5px,#009c15 302.5px,#009b00 329.5px,#00bd00 413.5px,#00eb00 465.5px,#00fd00 470.5px,#1cff00 472.5px,#a0ff00 479.5px,#bf0 481.5px,#f1e700 498.5px,#ffb100 537.5px,#ff9000 555.5px,#ff1b00 581.5px,#fe0000 583.5px,#d00 594.5px,#d00 758px)"></i>
<i style="left:1661px;width:7px;background:linear-gradient(#007ddd 0px,#009bd6 53.5px,#00aaa9 123.5px,#00a981 240.5px,#00a13c 280.5px,#009c15 300.5px,#009b00 327.5px,#00bd00 411.5px,#00ea00 463.5px,#05ff00 469.5px,#9eff00 477.5px,#befe00 480.5px,#f1e800 496.5px,#ffb200 534.5px,#ff9100 553.5px,#ff1e00 579.5px,#fe0000 581.5px,#d00 592.5px,#d00 758px)"></i>
<i style="left:1668px;width:4px;background:linear-gradient(#007cdd 0px,#008bdd 23.5px,#009cd4 62.5px,#00aaa9 128.5px,#00a981 245.5px,#00a13d 285.5px,#009c15 305.5px,#009b00 332.5px,#00bd00 416.5px,#00ea00 468.5px,#04ff00 474.5px,#9eff00 482.5px,#befe00 485.5px,#f1e800 501.5px,#ffb300 539.5px,#ff9100 558.5px,#ff1e00 584.5px,#f00 586.5px,#d00 597.5px,#d00 758px)"></i>
<i style="left:1672px;width:1px;background:linear-gradient(#007ddd 0px,#008bdd 23.5px,#009cd3 61.5px,#0aa 142.5px,#00a983 278.5px,#00a454 307.5px,#009a0b 383.5px,#009d00 398.5px,#00b300 431.5px,#0c0 450.5px,#00e300 469.5px,#00fe00 478.5px,#5fff00 485.5px,#bf0 493.5px,#f0e900 508.5px,#fbd400 517.5px,#ff9200 557.5px,#fa0000 586.5px,#e00000 598.5px,#d00 758px)"></i>
<i style="left:1673px;width:1px;background:linear-gradient(#007edd 0px,#008ddd 23.5px,#009dd2 59.5px,#00a8b0 187.5px,#00aa89 428.5px,#009b00 434.5px,#0a0 439.5px,#00df00 478.5px,#03ff00 498.5px,#36ff00 504.5px,#98ff00 506.5px,#c0fd00 507.5px,#ecef00 510.5px,#f7dd00 513.5px,#ff9700 555.5px,#ff3e00 570.5px,#fe0000 579.5px,#e70000 599.5px,#d00 758px)"></i>
<i style="left:1674px;width:1px;background:linear-gradient(#007fdd 0px,#008edd 23.5px,#00a0c7 87.5px,#00aaa3 428.5px,#00aa8d 431.5px,#00a87a 432.5px,#090 436.5px,#00f100 504.5px,#00fc00 505.5px,#32ff00 506.5px,#bf0 508.5px,#f0ea00 511.5px,#f6de00 514.5px,#ff9a00 554.5px,#f40 568.5px,#fe0000 577.5px,#ea0000 593.5px,#d00 758px)"></i>
<i style="left:1675px;width:7px;background:linear-gradient(#0082dd 0px,#009bd8 40.5px,#00a1c6 83.5px,#00aa9f 420.5px,#00aa85 423.5px,#009904 427.5px,#00f700 496.5px,#1bff00 497.5px,#a5ff00 499.5px,#c8fb00 500.5px,#edee00 502.5px,#f5df00 504.5px,#ff9c00 544.5px,#ff5600 557.5px,#fe0000 568.5px,#ea0000 584.5px,#d00 758px)"></i>
<i style="left:1682px;width:3px;background:linear-gradient(#007fdd 0px,#008ddd 22.5px,#009dd1 58.5px,#00a3c0 142.5px,#00aaa3 428.5px,#00aa8a 431.5px,#009b11 435.5px,#009a00 436.5px,#00f200 504.5px,#0f0 505.5px,#89ff00 507.5px,#c0fd00 508.5px,#f1e700 511.5px,#ffb200 541.5px,#ff9400 555.5px,#ff4100 568.5px,#ff0100 576.5px,#ea0000 593.5px,#d00 758px)"></i>
<i style="left:1685px;width:1px;background:linear-gradient(#007fdd 0px,#008edd 23.5px,#009dd1 58.5px,#00a4bc 157.5px,#00aa93 428.5px,#00a879 430.5px,#009a06 434.5px,#00b500 451.5px,#00fd00 503.5px,#0f0 504.5px,#b9ff00 507.5px,#edee00 510.5px,#f7db00 513.5px,#ff9500 553.5px,#ff3600 569.5px,#fe0000 577.5px,#e90000 592.5px,#d00 758px)"></i>
<i style="left:1686px;width:1px;background:linear-gradient(#007fdd 0px,#009bd6 53.5px,#00a4bb 118.5px,#00aa85 368.5px,#00a039 424.5px,#009f31 428.5px,#009a07 430.5px,#00b800 438.5px,#00f900 492.5px,#02ff00 494.5px,#67ff00 500.5px,#8dff00 504.5px,#bf0 505.5px,#eeed00 509.5px,#fad500 513.5px,#ff8f00 550.5px,#ff2a00 570.5px,#fd0000 578.5px,#e50000 591.5px,#d00 758px)"></i>
<i style="left:1687px;width:1px;background:linear-gradient(#007fdd 0px,#009bd6 53.5px,#00a5b8 111.5px,#0a9 249.5px,#00a980 296.5px,#00a245 354.5px,#009b00 398.5px,#00b400 430.5px,#0c0 440.5px,#00fc00 489.5px,#08ff00 490.5px,#bdfe00 498.5px,#def300 505.5px,#f5e100 509.5px,#ffc600 517.5px,#ffa200 535.5px,#ff8c00 545.5px,#ff0c00 575.5px,#fc0000 580.5px,#e20000 590.5px,#d00 758px)"></i>
<i style="left:1688px;width:1px;background:linear-gradient(#007fdd 0px,#009bd6 54.5px,#00a7b3 107.5px,#00aa95 239.5px,#00a97f 267.5px,#00a035 305.5px,#009c00 354.5px,#00d100 430.5px,#03ff00 480.5px,#27ff00 488.5px,#3f0 489.5px,#a9ff00 493.5px,#befe00 494.5px,#efeb00 501.5px,#ffb900 518.5px,#ff7b00 542.5px,#fe0000 580.5px,#df0000 589.5px,#d00 758px)"></i>
<i style="left:1689px;width:7px;background:linear-gradient(#007edd 0px,#009bd6 64.5px,#00a8b1 115.5px,#00aa94 245.5px,#00a97e 267.5px,#009c14 314.5px,#009b00 338.5px,#00ce00 421.5px,#06ff00 482.5px,#4aff00 498.5px,#befe00 502.5px,#f0eb00 508.5px,#ffb600 527.5px,#fd0000 590.5px,#d00 598.5px,#d00 758px)"></i>
<i style="left:1696px;width:7px;background:linear-gradient(#0080dd 0px,#009bd6 52.5px,#00a8b1 103.5px,#00aa94 233.5px,#00a97f 254.5px,#009c15 301.5px,#009b00 326.5px,#00ce00 408.5px,#03ff00 469.5px,#4bff00 486.5px,#adff00 489.5px,#c9fa00 491.5px,#f1e900 496.5px,#ffb500 515.5px,#fb0000 578.5px,#d00 586.5px,#d00 758px)"></i>
<i style="left:1703px;width:7px;background:linear-gradient(#007fdd 0px,#009bd7 55.5px,#00a8b1 107.5px,#00aa93 237.5px,#00a97e 258.5px,#009c15 305.5px,#009b00 329.5px,#00ce00 412.5px,#05ff00 473.5px,#48ff00 489.5px,#58ff00 490.5px,#bf0 493.5px,#f2e600 500.5px,#ffb000 520.5px,#fa0000 582.5px,#d00 590.5px,#d00 758px)"></i>
<i style="left:1710px;width:7px;background:linear-gradient(#007fdd 0px,#009bd7 54.5px,#00a8b1 106.5px,#00aa93 236.5px,#00a97e 257.5px,#009c15 304.5px,#009b00 328.5px,#00ce00 411.5px,#05ff00 472.5px,#48ff00 488.5px,#57ff00 489.5px,#baff00 492.5px,#f2e600 499.5px,#ffb000 519.5px,#fa0000 581.5px,#d00 589.5px,#d00 758px)"></i>
<i style="left:1717px;width:7px;background:linear-gradient(#0081dd 0px,#009bd6 49.5px,#00a8b1 100.5px,#00aa94 230.5px,#00a97f 251.5px,#009c15 298.5px,#009b00 323.5px,#00ce00 405.5px,#03ff00 466.5px,#4dff00 483.5px,#afff00 486.5px,#d3f700 489.5px,#f1e800 493.5px,#ffb400 512.5px,#fb0000 575.5px,#d00 583.5px,#d00 758px)"></i>
<i style="left:1724px;width:7px;background:linear-gradient(#007edd 0px,#009bd6 65.5px,#00a8b1 116.5px,#00aa94 246.5px,#00a97d 268.5px,#009c15 314.5px,#009b00 339.5px,#00ce00 421.5px,#03ff00 482.5px,#4aff00 499.5px,#af0 502.5px,#bffe00 503.5px,#f0e900 509.5px,#ffb500 528.5px,#fc0000 591.5px,#d00 599.5px,#d00 758px)"></i>
<i style="left:1731px;width:7px;background:linear-gradient(#007fdd 0px,#009bd6 57.5px,#00a8b1 108.5px,#00aa94 238.5px,#00a97e 260.5px,#009c14 307.5px,#009b00 331.5px,#00ce00 414.5px,#02ff00 474.5px,#4aff00 491.5px,#befe00 495.5px,#f0ea00 501.5px,#ffb500 520.5px,#fd0000 583.5px,#d00 591.5px,#d00 758px)"></i>
<i style="left:1738px;width:7px;background:linear-gradient(#007edd 0px,#009bd6 60.5px,#00a8b1 111.5px,#00aa94 241.5px,#00a97d 263.5px,#009c15 309.5px,#009b00 333.5px,#00cd00 416.5px,#02ff00 477.5px,#4aff00 494.5px,#befe00 498.5px,#f0ea00 504.5px,#ffb500 523.5px,#fc0000 586.5px,#d00 594.5px,#d00 758px)"></i>
<i style="left:1745px;width:7px;background:linear-gradient(#007edd 0px,#009bd6 59.5px,#00a8b1 110.5px,#00aa94 240.5px,#00a97f 261.5px,#009c15 308.5px,#009b00 333.5px,#00ce00 415.5px,#04ff00 476.5px,#4eff00 493.5px,#b0ff00 496.5px,#dcf400 500.5px,#f4e200 504.5px,#ffa500 527.5px,#fb0000 585.5px,#d00 593.5px,#d00 758px)"></i>
<i style="left:1752px;width:7px;background:linear-gradient(#007fdd 0px,#009bd6 55.5px,#00a8b1 106.5px,#00aa94 236.5px,#00a97f 257.5px,#009c15 304.5px,#009b00 329.5px,#00ce00 411.5px,#03ff00 472.5px,#4eff00 489.5px,#b0ff00 492.5px,#dcf400 496.5px,#f4e200 500.5px,#ffa800 522.5px,#fb0000 581.5px,#d00 589.5px,#d00 758px)"></i>
<i style="left:1759px;width:7px;background:linear-gradient(#007edd 0px,#008ddd 35.5px,#009cd4 68.5px,#00a8b1 117.5px,#00aa94 247.5px,#00a97f 268.5px,#009c15 315.5px,#009b00 340.5px,#00ce00 422.5px,#03ff00 483.5px,#4dff00 500.5px,#afff00 503.5px,#d3f700 506.5px,#f1e800 510.5px,#ffb400 529.5px,#fb0000 592.5px,#d00 600.5px,#d00 758px)"></i>
<i style="left:1766px;width:7px;background:linear-gradient(#007edd 0px,#008ddd 37.5px,#009cd4 70.5px,#00a8b1 119.5px,#00aa94 249.5px,#00a97f 270.5px,#009c15 317.5px,#009b00 342.5px,#00ce00 424.5px,#03ff00 485.5px,#4eff00 502.5px,#b0ff00 505.5px,#dcf400 509.5px,#f4e200 513.5px,#ffa500 536.5px,#fb0000 594.5px,#d00 602.5px,#d00 758px)"></i>
<i style="left:1773px;width:7px;background:linear-gradient(#0080dd 0px,#009bd7 53.5px,#00a8b1 105.5px,#00aa93 235.5px,#00a97f 256.5px,#009c15 303.5px,#009b00 327.5px,#00ce00 410.5px,#04ff00 471.5px,#48ff00 487.5px,#5f0 488.5px,#b8ff00 491.5px,#f2e700 498.5px,#ffb100 518.5px,#fa0000 580.5px,#d00 588.5px,#d00 758px)"></i>
<i style="left:1780px;width:7px;background:linear-gradient(#007fdd 0px,#009bd7 54.5px,#00a8b1 106.5px,#00aa93 236.5px,#00a97e 257.5px,#009c15 304.5px,#009b00 328.5px,#00ce00 411.5px,#05ff00 472.5px,#48ff00 488.5px,#58ff00 489.5px,#baff00 492.5px,#f2e600 499.5px,#ffb000 519.5px,#fa0000 581.5px,#d00 589.5px,#d00 758px)"></i>
<i style="left:1787px;width:7px;background:linear-gradient(#0081dd 0px,#009bd6 49.5px,#00a8b1 100.5px,#00aa94 230.5px,#00a97f 251.5px,#009c15 298.5px,#009b00 323.5px,#00ce00 405.5px,#03ff00 466.5px,#4bff00 483.5px,#adff00 486.5px,#c9fa00 488.5px,#f1e900 493.5px,#ffb500 512.5px,#fb0000 575.5px,#d00 583.5px,#d00 758px)"></i>
<i style="left:1794px;width:7px;background:linear-gradient(#007edd 0px,#009bd6 58.5px,#00a8b1 109.5px,#00aa93 240.5px,#00a97e 261.5px,#009c15 308.5px,#009b00 332.5px,#00ce00 415.5px,#05ff00 476.5px,#49ff00 492.5px,#5bff00 493.5px,#bcff00 496.5px,#f2e600 503.5px,#ffb000 523.5px,#f90000 585.5px,#d00 593.5px,#d00 758px)"></i>
<i style="left:1801px;width:7px;background:linear-gradient(#0080dd 0px,#009bd7 51.5px,#00a8b1 103.5px,#00aa93 233.5px,#00a97f 254.5px,#009c15 301.5px,#009b00 325.5px,#00ce00 408.5px,#05ff00 469.5px,#48ff00 485.5px,#57ff00 486.5px,#b9ff00 489.5px,#f2e700 496.5px,#ffb000 516.5px,#fa0000 578.5px,#d00 586.5px,#d00 758px)"></i>
<i style="left:1808px;width:7px;background:linear-gradient(#0080dd 0px,#009bd6 53.5px,#00a8b1 104.5px,#00aa94 234.5px,#00a97f 255.5px,#009c15 302.5px,#009b00 326.5px,#00ce00 409.5px,#04ff00 470.5px,#48ff00 486.5px,#53ff00 487.5px,#b5ff00 490.5px,#f1e700 497.5px,#ffb400 516.5px,#fa0000 579.5px,#d00 587.5px,#d00 758px)"></i>
<i style="left:1815px;width:7px;background:linear-gradient(#007fdd 0px,#009bd6 55.5px,#00a8b1 106.5px,#00aa93 237.5px,#00a97e 258.5px,#009c14 305.5px,#009b00 329.5px,#00ce00 412.5px,#06ff00 473.5px,#49ff00 489.5px,#80ff00 491.5px,#bdfe00 493.5px,#efeb00 499.5px,#ffb600 518.5px,#fd0000 581.5px,#d00 589.5px,#d00 758px)"></i>
<i style="left:1822px;width:6px;background:linear-gradient(#0080dd 0px,#009bd6 51.5px,#00a8b1 102.5px,#00aa94 232.5px,#00a97e 254.5px,#009c15 300.5px,#009b00 325.5px,#00ce00 408.5px,#02ff00 468.5px,#4aff00 485.5px,#befe00 489.5px,#f0ea00 495.5px,#ffb500 514.5px,#fc0000 577.5px,#d00 585.5px,#d00 758px)"></i>
<i style="left:1828px;width:1px;background:linear-gradient(#007edd 0px,#009bd6 55.5px,#00a6b7 104.5px,#00aa97 237.5px,#00a97f 270.5px,#00a143 303.5px,#009b0d 348.5px,#009c00 360.5px,#05ff00 482.5px,#13ff00 485.5px,#b8ff00 491.5px,#eaef00 498.5px,#ffbf00 516.5px,#ff9f00 530.5px,#ff8000 541.5px,#fa0000 578.5px,#e00000 586.5px,#d00 758px)"></i>
<i style="left:1829px;width:1px;background:linear-gradient(#07d 0px,#009bd7 76.5px,#00a2c1 127.5px,#00aa9a 280.5px,#00a980 359.5px,#00a560 374.5px,#009a00 405.5px,#00f200 497.5px,#00fd00 500.5px,#1fff00 502.5px,#82ff00 507.5px,#cff800 514.5px,#f1e800 519.5px,#ffb500 542.5px,#ff8e00 560.5px,#ff1000 587.5px,#ff0100 588.5px,#e10000 599.5px,#d00 758px)"></i>
<i style="left:1830px;width:1px;background:linear-gradient(#0067dd 0px,#008fdd 51.5px,#00a0c8 159.5px,#00aa9a 376.5px,#00a984 398.5px,#009b14 424.5px,#009b00 433.5px,#00cd00 485.5px,#00f700 511.5px,#00fe00 512.5px,#a7ff00 516.5px,#c1fd00 517.5px,#daf500 520.5px,#f3e300 531.5px,#ffad00 555.5px,#ff8f00 567.5px,#ff1a00 587.5px,#f00 589.5px,#d00 605.5px,#d00 758px)"></i>
<i style="left:1831px;width:2px;background:linear-gradient(#005fdd 0px,#0073dd 19.5px,#008add 45.5px,#009dd2 139.5px,#00a9ae 371.5px,#00a981 410.5px,#00a246 424.5px,#009a00 450.5px,#00e400 511.5px,#00fe00 514.5px,#bcff00 518.5px,#d7f600 524.5px,#f3e500 535.5px,#ffb300 556.5px,#ff9300 569.5px,#ff1400 588.5px,#fe0000 590.5px,#d00 605.5px,#d00 758px)"></i>
<i style="left:1833px;width:7px;background:linear-gradient(#005fdd 0px,#006fdd 21.5px,#0089dd 44.5px,#009cd3 135.5px,#00a9ae 374.5px,#00aa85 412.5px,#00a245 427.5px,#009a00 453.5px,#00e400 514.5px,#01ff00 517.5px,#befe00 521.5px,#f1e900 536.5px,#ffb500 558.5px,#ff9200 572.5px,#ff1200 591.5px,#fe0000 593.5px,#d00 607.5px,#d00 758px)"></i>
<i style="left:1840px;width:7px;background:linear-gradient(#0067dd 0px,#0087dd 26.5px,#009cd3 117.5px,#00a9ae 359.5px,#00a981 398.5px,#00a246 412.5px,#009a00 438.5px,#00e400 499.5px,#00fe00 502.5px,#bcff00 506.5px,#d7f600 512.5px,#f3e500 523.5px,#ffb300 544.5px,#ff9300 557.5px,#ff1400 576.5px,#fe0000 578.5px,#d00 593.5px,#d00 758px)"></i>
<i style="left:1847px;width:7px;background:linear-gradient(#0061dd 0px,#0072dd 14.5px,#008add 39.5px,#009dd2 132.5px,#00a8af 366.5px,#00a982 405.5px,#00a246 419.5px,#009a00 445.5px,#00ea00 507.5px,#00fc00 509.5px,#21ff00 510.5px,#b5ff00 513.5px,#c6fb00 514.5px,#f1e700 529.5px,#ffb300 551.5px,#ff9400 564.5px,#ff1600 583.5px,#f00 585.5px,#d00 600.5px,#d00 758px)"></i>
<i style="left:1854px;width:7px;background:linear-gradient(#0060dd 0px,#0089dd 40.5px,#009cd3 131.5px,#00a9ae 369.5px,#00aa84 407.5px,#00a245 422.5px,#009a00 448.5px,#00e600 509.5px,#08ff00 512.5px,#9cff00 515.5px,#c0fd00 516.5px,#f1e900 531.5px,#ffb400 553.5px,#ff9100 567.5px,#ff1c00 585.5px,#fd0000 588.5px,#d00 602.5px,#d00 758px)"></i>
<i style="left:1861px;width:7px;background:linear-gradient(#07d 0px,#0091dd 41.5px,#00a1c5 202.5px,#00a9ae 351.5px,#00a984 389.5px,#00a245 404.5px,#009a00 430.5px,#00e700 491.5px,#00f900 493.5px,#0eff00 494.5px,#a2ff00 497.5px,#c1fd00 498.5px,#f1e800 513.5px,#ffb400 535.5px,#ff9000 549.5px,#ff1b00 567.5px,#ff0300 569.5px,#d00 584.5px,#d00 758px)"></i>
<i style="left:1868px;width:7px;background:linear-gradient(#005fdd 0px,#0071dd 25.5px,#008add 50.5px,#009dd2 142.5px,#00a9ae 378.5px,#00a982 416.5px,#00a247 430.5px,#009b00 457.5px,#00e900 518.5px,#00fb00 520.5px,#1bff00 521.5px,#aeff00 524.5px,#c5fc00 525.5px,#f1e800 540.5px,#ffb400 562.5px,#ff8f00 576.5px,#ff1800 594.5px,#f00 596.5px,#d00 611.5px,#d00 758px)"></i>
<i style="left:1875px;width:7px;background:linear-gradient(#005fdd 0px,#0070dd 17.5px,#0089dd 41.5px,#009cd3 133.5px,#00a9ae 370.5px,#00a983 408.5px,#00a245 423.5px,#009a00 449.5px,#00e700 510.5px,#00f900 512.5px,#10ff00 513.5px,#a4ff00 516.5px,#c2fd00 517.5px,#f1e800 532.5px,#ffb400 554.5px,#ff9000 568.5px,#ff1a00 586.5px,#ff0200 588.5px,#d00 603.5px,#d00 758px)"></i>
<i style="left:1882px;width:7px;background:linear-gradient(#007fdd 0px,#009bd7 78.5px,#00a9ae 344.5px,#00a981 383.5px,#00a246 397.5px,#009a00 423.5px,#00e400 484.5px,#00fe00 487.5px,#bcff00 491.5px,#def300 499.5px,#f5e000 510.5px,#ffac00 532.5px,#ff9300 542.5px,#ff1300 561.5px,#fe0000 563.5px,#d00 578.5px,#d00 758px)"></i>
<i style="left:1889px;width:7px;background:linear-gradient(#005fdd 0px,#0070dd 19.5px,#0089dd 43.5px,#009cd3 134.5px,#00a9ae 372.5px,#00a984 410.5px,#00a245 425.5px,#009a00 451.5px,#00e600 512.5px,#00f800 514.5px,#0bff00 515.5px,#9fff00 518.5px,#c1fd00 519.5px,#f1e800 534.5px,#ffb400 556.5px,#ff9100 570.5px,#ff1b00 588.5px,#fd0000 591.5px,#d00 605.5px,#d00 758px)"></i>
<i style="left:1896px;width:1px;background:linear-gradient(#005fdd 0px,#0071dd 23.5px,#0089dd 48.5px,#009cd3 138.5px,#00a8b0 376.5px,#00a981 419.5px,#00a249 437.5px,#009d00 464.5px,#00e500 516.5px,#00fd00 519.5px,#1fff00 520.5px,#a0ff00 523.5px,#befe00 526.5px,#f2e600 544.5px,#ffb400 565.5px,#ff9200 578.5px,#ff2f00 592.5px,#f00 596.5px,#e20000 610.5px,#d00 758px)"></i>
<i style="left:1897px;width:1px;background:linear-gradient(#005fdd 0px,#0071dd 23.5px,#08d 48.5px,#009cd5 136.5px,#00a8b1 379.5px,#00a97f 438.5px,#00a24b 459.5px,#009901 466.5px,#00db00 516.5px,#0f0 522.5px,#1dff00 523.5px,#bdfe00 537.5px,#f4e300 555.5px,#ffb000 576.5px,#ff9100 586.5px,#ff4a00 594.5px,#fe0000 601.5px,#d00 624.5px,#d00 758px)"></i>
<i style="left:1898px;width:1px;background:linear-gradient(#005fdd 0px,#0071dd 23.5px,#0087dd 48.5px,#009bd6 135.5px,#00a7b4 385.5px,#0a8 459.5px,#009902 468.5px,#00d500 517.5px,#00fb00 530.5px,#03ff00 532.5px,#bcff00 548.5px,#f2e600 560.5px,#ffae00 584.5px,#ff9200 592.5px,#fe0000 606.5px,#d00 624.5px,#d00 758px)"></i>
<i style="left:1899px;width:1px;background:linear-gradient(#005fdd 0px,#0070dd 23.5px,#0085dd 48.5px,#009bd8 135.5px,#00a6b5 397.5px,#00aa98 459.5px,#00aa89 462.5px,#009a06 469.5px,#00d300 522.5px,#06ff00 544.5px,#50ff00 550.5px,#b2ff00 554.5px,#e6f100 561.5px,#ffba00 586.5px,#ff9100 597.5px,#fe0000 612.5px,#d00 622.5px,#d00 758px)"></i>
<i style="left:1900px;width:3px;background:linear-gradient(#005fdd 0px,#0070dd 23.5px,#0085dd 48.5px,#009bd8 135.5px,#00a6b6 406.5px,#00aaa0 459.5px,#00aa8a 463.5px,#090 470.5px,#00d300 528.5px,#00fe00 549.5px,#0cff00 550.5px,#bdfe00 557.5px,#e0f300 563.5px,#f8d900 577.5px,#ff9800 599.5px,#fd0000 614.5px,#d00 622.5px,#d00 758px)"></i>
<i style="left:1903px;width:7px;background:linear-gradient(#0062dd 0px,#0075dd 15.5px,#008fdd 66.5px,#009dd0 177.5px,#00a6b6 396.5px,#00aa9d 450.5px,#00aa86 454.5px,#009a05 460.5px,#00d400 519.5px,#0f0 540.5px,#b7ff00 547.5px,#dff300 553.5px,#f6de00 565.5px,#ff9a00 589.5px,#fd0000 605.5px,#d00 614.5px,#d00 758px)"></i>
<i style="left:1910px;width:7px;background:linear-gradient(#0063dd 0px,#0083dd 33.5px,#009bd8 123.5px,#00a6b6 395.5px,#00aaa1 448.5px,#00a981 453.5px,#090 459.5px,#00d400 518.5px,#05ff00 539.5px,#bf0 546.5px,#dff300 552.5px,#f6de00 564.5px,#ff9a00 588.5px,#fc0000 604.5px,#d00 612.5px,#d00 758px)"></i>
<i style="left:1917px;width:7px;background:linear-gradient(#0060dd 0px,#0084dd 37.5px,#009bd8 127.5px,#00a6b6 398.5px,#00aa9d 452.5px,#00aa85 456.5px,#009a04 462.5px,#00d400 521.5px,#0f0 542.5px,#b8ff00 549.5px,#dff300 555.5px,#f6de00 567.5px,#ff9a00 591.5px,#fd0000 607.5px,#d00 615.5px,#d00 758px)"></i>
<i style="left:1924px;width:7px;background:linear-gradient(#0065dd 0px,#0083dd 28.5px,#009bd8 120.5px,#00a6b6 392.5px,#00aaa0 445.5px,#00aa8b 449.5px,#00a13c 453.5px,#090 456.5px,#00d300 514.5px,#00fe00 535.5px,#0aff00 536.5px,#bdfe00 543.5px,#e0f300 549.5px,#f8d900 563.5px,#f90 585.5px,#ff0200 600.5px,#d00 609.5px,#d00 758px)"></i>
<i style="left:1931px;width:7px;background:linear-gradient(#0068dd 0px,#0082dd 23.5px,#009bd8 117.5px,#00a6b6 389.5px,#00aa9f 442.5px,#00aa8a 446.5px,#090 453.5px,#00d300 511.5px,#00fe00 532.5px,#0dff00 533.5px,#abff00 539.5px,#c5fc00 541.5px,#e4f100 547.5px,#ffc600 568.5px,#ff9800 582.5px,#ff0100 597.5px,#d00 606.5px,#d00 758px)"></i>
<i style="left:1938px;width:7px;background:linear-gradient(#0065dd 0px,#0083dd 30.5px,#009bd8 121.5px,#00a6b6 393.5px,#00aaa0 446.5px,#00aa8a 450.5px,#090 457.5px,#00d300 515.5px,#00fe00 536.5px,#0cff00 537.5px,#bdfe00 544.5px,#e0f300 550.5px,#f8d900 564.5px,#ff9800 586.5px,#ff0100 601.5px,#d00 610.5px,#d00 758px)"></i>
<i style="left:1945px;width:7px;background:linear-gradient(#0062dd 0px,#0075dd 15.5px,#008edd 63.5px,#009cd4 154.5px,#00a6b6 396.5px,#00aa9d 450.5px,#00aa87 454.5px,#009a06 460.5px,#00d400 519.5px,#0f0 540.5px,#b6ff00 547.5px,#dff300 553.5px,#f5e100 564.5px,#ffa100 587.5px,#ff8a00 591.5px,#fe0000 605.5px,#d00 614.5px,#d00 758px)"></i>
<i style="left:1952px;width:7px;background:linear-gradient(#005fdd 0px,#0073dd 23.5px,#0086dd 52.5px,#009bd8 134.5px,#00a6b6 405.5px,#00aaa1 458.5px,#00a982 463.5px,#009901 469.5px,#00d400 528.5px,#04ff00 549.5px,#bf0 556.5px,#dff300 562.5px,#f6de00 574.5px,#ff9a00 598.5px,#f00 613.5px,#d00 621.5px,#d00 758px)"></i>
<i style="left:1959px;width:7px;background:linear-gradient(#0062dd 0px,#0076dd 15.5px,#0095dd 82.5px,#00a6b6 396.5px,#00aaa1 449.5px,#00a982 454.5px,#009901 460.5px,#00d400 519.5px,#04ff00 540.5px,#bf0 547.5px,#dff300 553.5px,#f6de00 565.5px,#ff9a00 589.5px,#fd0000 605.5px,#d00 613.5px,#d00 758px)"></i>
<i style="left:1966px;width:7px;background:linear-gradient(#0060dd 0px,#0084dd 37.5px,#009bd8 127.5px,#00a6b6 399.5px,#00aa9d 452.5px,#00aa87 456.5px,#009a06 462.5px,#00a500 476.5px,#00d400 521.5px,#0f0 542.5px,#b5ff00 549.5px,#def300 555.5px,#f5e100 566.5px,#ffa100 589.5px,#ff8a00 593.5px,#fe0000 607.5px,#d00 615.5px,#d00 758px)"></i>
<i style="left:1973px;width:6px;background:linear-gradient(#0065dd 0px,#0083dd 29.5px,#009bd8 120.5px,#00a6b6 392.5px,#00aaa2 445.5px,#00a984 450.5px,#009903 456.5px,#00d400 515.5px,#02ff00 536.5px,#baff00 543.5px,#dff300 549.5px,#f6de00 561.5px,#ff9a00 585.5px,#fd0000 601.5px,#d00 609.5px,#d00 758px)"></i>
<i style="left:1979px;width:1px;background:linear-gradient(#0064dd 0px,#0081dd 30.5px,#009ada 115.5px,#00a4bb 393.5px,#00aaa3 446.5px,#00a982 453.5px,#00a351 456.5px,#009b10 476.5px,#009c00 479.5px,#0b0 500.5px,#00e100 522.5px,#02ff00 536.5px,#baff00 543.5px,#dff300 549.5px,#f6de00 561.5px,#ff9a00 585.5px,#fd0000 601.5px,#d00 609.5px,#d00 758px)"></i>
<i style="left:1980px;width:1px;background:linear-gradient(#0063dd 0px,#008edd 63.5px,#009adb 128.5px,#00a1c6 396.5px,#00a8b0 448.5px,#00aa9d 466.5px,#00aa94 477.5px,#00aa89 479.5px,#009a00 486.5px,#00d400 519.5px,#00fe00 536.5px,#0bff00 537.5px,#bdfe00 544.5px,#e0f300 550.5px,#f8d900 564.5px,#f90 586.5px,#ff0200 601.5px,#d00 610.5px,#d00 758px)"></i>
<i style="left:1981px;width:6px;background:linear-gradient(#0062dd 0px,#0073dd 26.5px,#008cdd 59.5px,#0099dc 120.5px,#009fcb 398.5px,#00a7b2 476.5px,#0a8 482.5px,#009a04 487.5px,#00cd00 517.5px,#00fe00 536.5px,#0bff00 537.5px,#bdfe00 544.5px,#e0f300 550.5px,#f8d900 564.5px,#f90 586.5px,#ff0200 601.5px,#d00 610.5px,#d00 758px)"></i>
<i style="left:1987px;width:7px;background:linear-gradient(#005fdd 0px,#0072dd 34.5px,#008cdd 67.5px,#0099dc 129.5px,#009fcb 406.5px,#00a7b4 484.5px,#00aa89 490.5px,#009a09 495.5px,#009b00 497.5px,#00cd00 525.5px,#00fd00 544.5px,#07ff00 545.5px,#bcff00 552.5px,#e0f300 558.5px,#f7dc00 571.5px,#f90 594.5px,#ff0300 609.5px,#d00 618.5px,#d00 758px)"></i>
<i style="left:1994px;width:7px;background:linear-gradient(#0063dd 0px,#0070dd 23.5px,#008bdd 55.5px,#0099dc 118.5px,#009fcb 396.5px,#00a8b0 474.5px,#00a983 480.5px,#090 485.5px,#00cd00 515.5px,#00fe00 534.5px,#2bff00 536.5px,#aeff00 541.5px,#c6fb00 543.5px,#e4f100 549.5px,#ffc500 570.5px,#ff9700 584.5px,#f00 599.5px,#d00 608.5px,#d00 758px)"></i>
<i style="left:2001px;width:7px;background:linear-gradient(#005fdd 0px,#0071dd 34.5px,#008cdd 67.5px,#0099dc 129.5px,#009fcc 406.5px,#00a7b4 484.5px,#00aa8b 490.5px,#009e29 494.5px,#009a00 496.5px,#00cf00 526.5px,#01ff00 545.5px,#b9ff00 552.5px,#dff300 558.5px,#f6de00 570.5px,#ff9a00 594.5px,#fd0000 610.5px,#d00 618.5px,#d00 758px)"></i>
<i style="left:2008px;width:7px;background:linear-gradient(#005fdd 0px,#0072dd 38.5px,#008cdd 71.5px,#0099dc 133.5px,#009fcc 410.5px,#00a7b4 488.5px,#00aa8a 494.5px,#009b0e 499.5px,#009a00 500.5px,#00cf00 530.5px,#01ff00 549.5px,#b9ff00 556.5px,#dff300 562.5px,#f6de00 574.5px,#ff9a00 598.5px,#ff0200 613.5px,#d00 622.5px,#d00 758px)"></i>
<i style="left:2015px;width:7px;background:linear-gradient(#0063dd 0px,#0072dd 23.5px,#008cdd 56.5px,#0099dc 118.5px,#009fcb 395.5px,#00a7b3 473.5px,#0a8 479.5px,#009a07 484.5px,#00ab00 496.5px,#00d700 518.5px,#00fd00 533.5px,#09ff00 534.5px,#bdfe00 541.5px,#e0f300 547.5px,#f7db00 560.5px,#f90 583.5px,#ff0200 598.5px,#d00 607.5px,#d00 758px)"></i>
<i style="left:2022px;width:7px;background:linear-gradient(#005fdd 0px,#0072dd 32.5px,#008cdd 65.5px,#0099dc 127.5px,#009fcb 404.5px,#00a7b4 482.5px,#00aa89 488.5px,#009a09 493.5px,#009d00 496.5px,#00cf00 524.5px,#00fd00 542.5px,#07ff00 543.5px,#bcff00 550.5px,#e0f300 556.5px,#f7dc00 569.5px,#f90 592.5px,#ff0300 607.5px,#d00 616.5px,#d00 758px)"></i>
<i style="left:2029px;width:5px;background:linear-gradient(#0060dd 0px,#0070dd 29.5px,#008bdd 61.5px,#0099dc 124.5px,#009fcb 402.5px,#00a7b2 480.5px,#00aa87 486.5px,#009a04 491.5px,#00cd00 521.5px,#00fe00 540.5px,#0cff00 541.5px,#bdfe00 548.5px,#e0f300 554.5px,#f8d900 568.5px,#f90 590.5px,#ff0200 605.5px,#d00 614.5px,#d00 758px)"></i>
<i style="left:2034px;width:1px;background:linear-gradient(#0062dd 0px,#008fdd 67.5px,#009bd7 136.5px,#00a1c4 401.5px,#00aaa7 480.5px,#00aa89 485.5px,#009b00 491.5px,#00ce00 521.5px,#02ff00 540.5px,#b3ff00 547.5px,#ddf400 553.5px,#f5e000 565.5px,#ffa000 589.5px,#f80 593.5px,#ff1500 605.5px,#ff0300 606.5px,#e40000 615.5px,#df0000 758px)"></i>
<i style="left:2035px;width:1px;background:linear-gradient(#06d 0px,#007add 25.5px,#0099dc 85.5px,#00a0c7 218.5px,#00a7b3 401.5px,#00aa93 481.5px,#0a8 483.5px,#009b00 490.5px,#00d000 521.5px,#03ff00 539.5px,#4aff00 542.5px,#b0ff00 546.5px,#cafa00 549.5px,#edee00 558.5px,#ffb600 584.5px,#ff9200 595.5px,#ff2c00 606.5px,#f00 609.5px,#f20000 616.5px,#e70000 748.5px,#e40000 758px)"></i>
<i style="left:2036px;width:1px;background:linear-gradient(#0076dd 0px,#009bd7 78.5px,#00a3be 186.5px,#00aaa2 408.5px,#00aa89 473.5px,#009a08 481.5px,#00a300 484.5px,#00cf00 513.5px,#00fd00 531.5px,#2f0 533.5px,#adff00 538.5px,#c1fd00 540.5px,#ebef00 551.5px,#ffb800 579.5px,#ff9200 592.5px,#ff4d00 600.5px,#ff0500 606.5px,#f30000 743.5px,#e90000 758px)"></i>
<i style="left:2037px;width:1px;background:linear-gradient(#0079dd 0px,#009bd6 71.5px,#00a6b5 170.5px,#00aa97 407.5px,#00a980 449.5px,#00a34c 473.5px,#009901 479.5px,#00b100 491.5px,#00d100 513.5px,#01ff00 531.5px,#8eff00 536.5px,#adff00 537.5px,#befe00 538.5px,#edee00 552.5px,#ffb400 584.5px,#ff9000 597.5px,#f40 606.5px,#ff1f00 704.5px,#ff1700 738.5px,#fe0000 742.5px,#ed0000 758px)"></i>
<i style="left:2038px;width:1px;background:linear-gradient(#0079dd 0px,#009cd5 65.5px,#00aaab 167.5px,#00aa8d 404.5px,#00a97d 424.5px,#009f30 461.5px,#009a05 476.5px,#00ba00 498.5px,#00d500 516.5px,#00fc00 532.5px,#0bff00 533.5px,#befe00 539.5px,#edee00 554.5px,#ffb600 589.5px,#ff9300 605.5px,#ffa500 606.5px,#ff7e00 722.5px,#ff7a00 738.5px,#ff1b00 749.5px,#fd0000 756.5px,#fc0000 758px)"></i>
<i style="left:2039px;width:1px;background:linear-gradient(#007bdd 0px,#009cd5 55.5px,#00aaa5 158.5px,#00aa86 389.5px,#00a247 427.5px,#009b00 460.5px,#00d000 513.5px,#00fe00 532.5px,#38ff00 534.5px,#bcff00 538.5px,#d1f800 542.5px,#f2e700 560.5px,#ffaf00 599.5px,#ffa900 605.5px,#ffb700 606.5px,#ff9c00 739.5px,#ff3800 749.5px,#ff0900 758px)"></i>
<i style="left:2040px;width:5px;background:linear-gradient(#007cdd 0px,#009bd6 50.5px,#00aaa2 155.5px,#00a982 377.5px,#00a03b 421.5px,#009b00 451.5px,#00d100 513.5px,#0f0 532.5px,#a7ff00 537.5px,#bffe00 538.5px,#d2f700 541.5px,#f2e600 561.5px,#ffb200 603.5px,#ffb100 605.5px,#ffc100 606.5px,#ffa400 739.5px,#ff8a00 743.5px,#ff4700 749.5px,#ff1300 758px)"></i>
<i style="left:2045px;width:7px;background:linear-gradient(#007ddd 0px,#009bd6 49.5px,#00aaa2 155.5px,#00a982 376.5px,#00a03a 421.5px,#009b00 451.5px,#00d000 512.5px,#00fe00 531.5px,#10ff00 532.5px,#bf0 537.5px,#d1f800 540.5px,#f2e500 561.5px,#ffb200 603.5px,#ffa700 614.5px,#ff7e00 738.5px,#f00 749.5px,#f40000 758px)"></i>
<i style="left:2052px;width:7px;background:linear-gradient(#006cdd 0px,#0084dd 14.5px,#009cd5 58.5px,#00aaa2 162.5px,#00a982 384.5px,#00a039 429.5px,#009b00 458.5px,#00d100 520.5px,#00fe00 539.5px,#5fff00 542.5px,#befe00 545.5px,#d2f700 548.5px,#f2e600 568.5px,#ffb600 605.5px,#ff9700 606.5px,#ff5100 685.5px,#ff4000 739.5px,#ff0100 744.5px,#e60000 758px)"></i>
<i style="left:2059px;width:7px;background:linear-gradient(#006bdd 0px,#0073dd 6.5px,#0096dd 46.5px,#00aaa2 167.5px,#00a982 388.5px,#00a03a 433.5px,#009b00 463.5px,#00d000 524.5px,#00fe00 543.5px,#1f0 544.5px,#bf0 549.5px,#d1f800 552.5px,#f2e500 573.5px,#ffbd00 605.5px,#ff9400 606.5px,#f70 614.5px,#ff3800 697.5px,#ff2d00 739.5px,#fe0000 743.5px,#e10000 758px)"></i>
<i style="left:2066px;width:7px;background:linear-gradient(#006bdd 0px,#008edd 32.5px,#009dd1 68.5px,#00aaa2 166.5px,#00a982 387.5px,#00a039 432.5px,#009b00 461.5px,#00d100 523.5px,#00fe00 542.5px,#5fff00 545.5px,#befe00 548.5px,#d2f700 551.5px,#f2e600 571.5px,#ffad00 613.5px,#ff8b00 739.5px,#ff0f00 749.5px,#fe0000 752.5px,#f60000 758px)"></i>
<i style="left:2073px;width:7px;background:linear-gradient(#0072dd 0px,#0092dd 34.5px,#00aaa2 164.5px,#00a983 382.5px,#00a03b 427.5px,#009b00 457.5px,#00d200 519.5px,#03ff00 538.5px,#afff00 543.5px,#cbfa00 545.5px,#f1e800 565.5px,#ffb200 607.5px,#ff9200 739.5px,#ff1900 749.5px,#fd0000 754.5px,#f90000 758px)"></i>
<i style="left:2080px;width:7px;background:linear-gradient(#007ddd 0px,#009bd6 49.5px,#00aaa2 154.5px,#00a982 376.5px,#00a039 421.5px,#009b00 450.5px,#00d100 512.5px,#0f0 531.5px,#a6ff00 536.5px,#bffe00 537.5px,#d2f700 540.5px,#f2e600 560.5px,#ffb200 602.5px,#ffb100 605.5px,#ffbe00 606.5px,#ffa100 739.5px,#ff8e00 742.5px,#ff4000 749.5px,#ff0c00 758px)"></i>
<i style="left:2087px;width:7px;background:linear-gradient(#007cdd 0px,#009bd6 50.5px,#00aaa2 155.5px,#00a982 377.5px,#00a03a 422.5px,#009c00 452.5px,#00d100 513.5px,#00fe00 532.5px,#15ff00 533.5px,#bdfe00 538.5px,#d1f800 541.5px,#f2e600 561.5px,#ffb200 603.5px,#ffb100 605.5px,#ffa300 606.5px,#ff8d00 660.5px,#ff7600 708.5px,#ff6d00 738.5px,#ff0100 747.5px,#ef0000 758px)"></i>
<i style="left:2094px;width:7px;background:linear-gradient(#007bdd 0px,#009bd6 50.5px,#00aaa2 156.5px,#00a982 377.5px,#00a03a 422.5px,#009b00 452.5px,#00d000 513.5px,#00fe00 532.5px,#0dff00 533.5px,#b9ff00 538.5px,#d1f800 541.5px,#f2e500 562.5px,#ffb200 604.5px,#ffb100 605.5px,#ffcb00 606.5px,#ffaf00 739.5px,#ff9300 745.5px,#ff6800 749.5px,#f30 758px)"></i>
<i style="left:2101px;width:7px;background:linear-gradient(#006bdd 0px,#008ddd 30.5px,#009dd2 66.5px,#00aaa2 166.5px,#00a983 386.5px,#00a03b 431.5px,#009b00 461.5px,#00d200 523.5px,#04ff00 542.5px,#b0ff00 547.5px,#cbfa00 549.5px,#f1e800 569.5px,#ffba00 605.5px,#fbd400 606.5px,#ffb800 731.5px,#ffb300 740.5px,#ff8f00 747.5px,#ff6300 752.5px,#ff4000 758px)"></i>
<i style="left:2108px;width:7px;background:linear-gradient(#007edd 0px,#009cd5 48.5px,#00aaa2 153.5px,#00a981 375.5px,#00a03b 419.5px,#009b00 449.5px,#00d200 511.5px,#0f0 530.5px,#af0 535.5px,#c0fd00 536.5px,#d2f700 539.5px,#f2e600 559.5px,#ffb200 601.5px,#ffb200 629.5px,#ff9b00 739.5px,#ff2e00 749.5px,#fe0000 758px)"></i>
<i style="left:2115px;width:7px;background:linear-gradient(#0078dd 0px,#009bd6 53.5px,#00aaa2 159.5px,#00a982 381.5px,#00a03b 425.5px,#009b00 455.5px,#00d100 517.5px,#0f0 536.5px,#a9ff00 541.5px,#bffe00 542.5px,#d2f700 545.5px,#f2e600 565.5px,#ffb200 605.5px,#ffa000 606.5px,#ff8a00 652.5px,#ff6e00 699.5px,#ff6400 738.5px,#fe0000 747.5px,#ed0000 758px)"></i>
<i style="left:2122px;width:7px;background:linear-gradient(#0079dd 0px,#009bd6 52.5px,#00aaa2 158.5px,#00a982 379.5px,#00a03a 424.5px,#009b00 454.5px,#00d000 515.5px,#00fd00 534.5px,#0bff00 535.5px,#b8ff00 540.5px,#d1f800 543.5px,#f2e500 564.5px,#ffb200 605.5px,#ff8100 606.5px,#ff4200 693.5px,#ff3600 738.5px,#fe0000 743.5px,#e30000 758px)"></i>
<i style="left:2129px;width:7px;background:linear-gradient(#0078dd 0px,#009bd6 53.5px,#00aaa2 159.5px,#00a982 381.5px,#00a03b 425.5px,#009b00 455.5px,#00d200 517.5px,#0f0 536.5px,#af0 541.5px,#c0fd00 542.5px,#d2f700 545.5px,#f2e600 565.5px,#ffb500 607.5px,#f90 739.5px,#f20 749.5px,#fe0000 755.5px,#fb0000 758px)"></i>
<i style="left:2136px;width:7px;background:linear-gradient(#007ddd 0px,#009bd6 49.5px,#00aaa2 154.5px,#00a982 376.5px,#00a03b 420.5px,#009b00 450.5px,#00d100 512.5px,#0f0 531.5px,#a8ff00 536.5px,#bffe00 537.5px,#d2f700 540.5px,#f2e600 560.5px,#ffb200 602.5px,#ffb100 605.5px,#ff7400 606.5px,#ff3800 692.5px,#ff2900 738.5px,#fe0000 742.5px,#e10000 758px)"></i>
<i style="left:2143px;width:7px;background:linear-gradient(#0080dd 0px,#009cd5 47.5px,#00aaa2 152.5px,#00a982 373.5px,#00a03a 418.5px,#009b00 448.5px,#00d000 509.5px,#00fe00 528.5px,#0fff00 529.5px,#bf0 534.5px,#d1f800 537.5px,#f2e500 558.5px,#ffb200 600.5px,#ffb000 605.5px,#fad600 606.5px,#ffc100 738.5px,#ff8b00 751.5px,#ff6500 758px)"></i>
<i style="left:2150px;width:7px;background:linear-gradient(#006bdd 0px,#0071dd 7.5px,#0091dd 40.5px,#00a2c1 99.5px,#00aaa1 174.5px,#00a981 390.5px,#00a03b 434.5px,#009b00 464.5px,#00d200 526.5px,#01ff00 545.5px,#adff00 550.5px,#cafa00 552.5px,#f1e800 572.5px,#ffbf00 605.5px,#ffab00 606.5px,#ff9d00 626.5px,#ff6d00 702.5px,#ff6200 739.5px,#f00 747.5px,#ed0000 758px)"></i>
<i style="left:2157px;width:7px;background:linear-gradient(#006bdd 0px,#008edd 32.5px,#009dd1 68.5px,#00aaa2 166.5px,#00a982 387.5px,#00a039 432.5px,#009b00 461.5px,#00d100 523.5px,#00fe00 542.5px,#3aff00 544.5px,#bdfe00 548.5px,#d2f700 551.5px,#f2e600 571.5px,#ffb800 613.5px,#ff9c00 740.5px,#ff2900 750.5px,#fd0000 758px)"></i>
<i style="left:2164px;width:7px;background:linear-gradient(#0080dd 0px,#009cd5 47.5px,#00aaa2 152.5px,#00a983 373.5px,#00a03a 418.5px,#009b00 448.5px,#00d200 510.5px,#06ff00 529.5px,#b2ff00 534.5px,#d1f800 537.5px,#f2e500 558.5px,#ffb200 600.5px,#ffb000 605.5px,#fad700 606.5px,#ffbf00 739.5px,#ff8900 752.5px,#ff6900 758px)"></i>
<i style="left:2171px;width:7px;background:linear-gradient(#0074dd 0px,#09d 45.5px,#00aaa2 158.5px,#00a982 382.5px,#00a039 427.5px,#009b00 456.5px,#00d100 518.5px,#00fe00 537.5px,#3aff00 539.5px,#bdfe00 543.5px,#d2f700 546.5px,#f2e600 566.5px,#ffb400 605.5px,#f60 606.5px,#ff2600 694.5px,#ff1400 739.5px,#fe0000 741.5px,#d00 758px)"></i>
<i style="left:2178px;width:7px;background:linear-gradient(#0070dd 0px,#008fdd 29.5px,#009dd0 66.5px,#00aaa2 162.5px,#00a982 383.5px,#00a039 428.5px,#009b00 457.5px,#00d100 519.5px,#00fe00 538.5px,#16ff00 539.5px,#bdfe00 544.5px,#d1f800 547.5px,#f2e600 567.5px,#ffb500 605.5px,#ffa800 607.5px,#ff7900 738.5px,#ff5b00 741.5px,#ff0400 748.5px,#f20000 758px)"></i>
<i style="left:2185px;width:7px;background:linear-gradient(#006bdd 0px,#0085dd 17.5px,#009cd5 59.5px,#00aaa2 164.5px,#00a982 385.5px,#00a03a 430.5px,#009b00 460.5px,#00d000 521.5px,#00fe00 540.5px,#1f0 541.5px,#bcff00 546.5px,#d1f800 549.5px,#f2e500 570.5px,#ffb800 605.5px,#ff9c00 606.5px,#ff5600 694.5px,#ff4800 739.5px,#fe0000 745.5px,#e70000 758px)"></i>
<i style="left:2192px;width:6px;background:linear-gradient(#006bdd 0px,#0080dd 11.5px,#009cd5 58.5px,#00aaa2 163.5px,#00a982 384.5px,#00a03a 429.5px,#009b00 459.5px,#00d000 520.5px,#00fd00 539.5px,#0cff00 540.5px,#b8ff00 545.5px,#d1f800 548.5px,#f2e500 569.5px,#ffad00 611.5px,#ff8a00 739.5px,#ff0e00 749.5px,#fe0000 752.5px,#f60000 758px)"></i>
<i style="left:2198px;width:1px;background:linear-gradient(#0073dd 0px,#0097dd 42.5px,#00aaa2 161.5px,#00a982 382.5px,#00a03c 427.5px,#009b00 457.5px,#00d300 521.5px,#00fd00 539.5px,#0cff00 540.5px,#b8ff00 545.5px,#d1f800 548.5px,#f2e500 570.5px,#ffb100 615.5px,#ff9200 738.5px,#ff8200 740.5px,#ff0300 750.5px,#f50000 758px)"></i>
<i style="left:2199px;width:1px;background:linear-gradient(#0083dd 0px,#009bd6 42.5px,#00aaa3 150.5px,#00a980 367.5px,#00a13d 415.5px,#009b00 444.5px,#00d700 513.5px,#00fe00 530.5px,#14ff00 531.5px,#bcff00 536.5px,#d1f800 539.5px,#f2e600 563.5px,#ffbe00 605.5px,#fbd400 606.5px,#ffb700 738.5px,#ff9300 745.5px,#ff5400 750.5px,#ff2500 758px)"></i>
<i style="left:2200px;width:1px;background:linear-gradient(#0087dd 0px,#009cd5 40.5px,#00aaa6 133.5px,#00a981 357.5px,#00a246 409.5px,#009b00 441.5px,#00da00 514.5px,#00fe00 530.5px,#14ff00 531.5px,#bcff00 536.5px,#d1f800 539.5px,#f2e600 566.5px,#ffc700 605.5px,#f8da00 606.5px,#ffbf00 736.5px,#ff9400 745.5px,#ff4b00 750.5px,#ff1a00 758px)"></i>
<i style="left:2201px;width:1px;background:linear-gradient(#008add 0px,#009cd4 37.5px,#00aaa9 118.5px,#00a982 349.5px,#00a141 409.5px,#009b00 438.5px,#00df00 517.5px,#00fe00 530.5px,#14ff00 531.5px,#bcff00 536.5px,#d1f800 539.5px,#f2e600 570.5px,#fece00 605.5px,#f5e000 606.5px,#fecd00 705.5px,#ffc700 735.5px,#ff9600 745.5px,#ff4200 750.5px,#ff1000 758px)"></i>
<i style="left:2202px;width:2px;background:linear-gradient(#008fdd 0px,#009ecf 38.5px,#00aaa9 108.5px,#00aa85 339.5px,#009f33 412.5px,#009b00 434.5px,#00e900 524.5px,#00fe00 530.5px,#14ff00 531.5px,#bcff00 536.5px,#d0f800 539.5px,#f2e500 581.5px,#f9d700 605.5px,#f1e800 606.5px,#fad700 671.5px,#fece00 735.5px,#ff9800 745.5px,#ff3600 750.5px,#ff0300 758px)"></i>
<i style="left:2204px;width:2px;background:linear-gradient(#0093dd 0px,#009fcb 40.5px,#00aaa9 103.5px,#00aa87 334.5px,#009f2e 412.5px,#009a00 431.5px,#00ec00 525.5px,#00fd00 530.5px,#14ff00 531.5px,#bcff00 536.5px,#d0f800 539.5px,#f2e500 590.5px,#f6dd00 605.5px,#ee0 606.5px,#f7dc00 662.5px,#fcd200 735.5px,#ffa100 744.5px,#f90 745.5px,#ff2d00 750.5px,#f00 756.5px,#fd0000 758px)"></i>
<i style="left:2206px;width:2px;background:linear-gradient(#0094dd 0px,#00a1c6 47.5px,#00aaa8 102.5px,#00aa87 332.5px,#009f2c 411.5px,#009b00 430.5px,#00ea00 523.5px,#06ff00 529.5px,#b3ff00 534.5px,#d0f800 537.5px,#f2e600 588.5px,#ffc800 654.5px,#ffbd00 734.5px,#f90 741.5px,#fe0000 748.5px,#ea0000 758px)"></i>
<i style="left:2208px;width:5px;background:linear-gradient(#0094dd 0px,#00a1c6 47.5px,#00aaa8 102.5px,#00aa87 332.5px,#009f2c 411.5px,#009b00 430.5px,#00ea00 523.5px,#06ff00 529.5px,#b3ff00 534.5px,#d0f800 537.5px,#f2e600 588.5px,#f7dc00 605.5px,#ee0 606.5px,#f7dc00 661.5px,#fcd200 735.5px,#ffc600 738.5px,#ffa500 739.5px,#ff9b00 741.5px,#ff4700 745.5px,#ff0300 748.5px,#eb0000 758px)"></i>
<i style="left:2213px;width:2px;background:linear-gradient(#0090dd 0px,#009cd3 36.5px,#00aaa9 110.5px,#00aa87 341.5px,#009f2d 420.5px,#009b00 439.5px,#00ea00 532.5px,#02ff00 538.5px,#aeff00 543.5px,#cafa00 545.5px,#f1e800 593.5px,#f4e100 605.5px,#e7f000 606.5px,#f7dc00 668.5px,#fbd300 736.5px,#fc0 738.5px,#ffab00 739.5px,#ff9b00 742.5px,#ff2900 747.5px,#fd0000 749.5px,#ec0000 758px)"></i>
<i style="left:2215px;width:5px;background:linear-gradient(#0090dd 0px,#009cd3 36.5px,#00aaa9 110.5px,#00aa87 341.5px,#009f2d 420.5px,#009b00 439.5px,#00ea00 532.5px,#02ff00 538.5px,#aeff00 543.5px,#cafa00 545.5px,#f1e800 593.5px,#fece00 665.5px,#ffc600 735.5px,#ff9b00 742.5px,#ff2900 747.5px,#fd0000 749.5px,#ec0000 758px)"></i>
<i style="left:2220px;width:2px;background:linear-gradient(#0092dd 0px,#009dd0 36.5px,#00aaa9 105.5px,#00aa87 336.5px,#009f2d 415.5px,#009b00 434.5px,#00ea00 527.5px,#03ff00 533.5px,#afff00 538.5px,#cafa00 540.5px,#f1e800 588.5px,#fece00 661.5px,#ffc200 735.5px,#ff9600 742.5px,#ff0900 748.5px,#f60000 751.5px,#eb0000 758px)"></i>
<i style="left:2222px;width:5px;background:linear-gradient(#0092dd 0px,#009dd0 36.5px,#00aaa9 105.5px,#00aa87 336.5px,#009f2d 415.5px,#009b00 434.5px,#00ea00 527.5px,#03ff00 533.5px,#afff00 538.5px,#cafa00 540.5px,#f1e800 588.5px,#f6de00 605.5px,#fcd100 606.5px,#ffb700 654.5px,#fa0 735.5px,#ff9a00 738.5px,#ffa800 739.5px,#ff9600 742.5px,#ff0900 748.5px,#f60000 751.5px,#eb0000 758px)"></i>
<i style="left:2227px;width:2px;background:linear-gradient(#0091dd 0px,#009dd1 36.5px,#00aaa9 107.5px,#00aa87 338.5px,#009f2e 416.5px,#009a00 435.5px,#00eb00 529.5px,#00fd00 534.5px,#13ff00 535.5px,#bcff00 540.5px,#d0f800 543.5px,#f2e500 594.5px,#f5df00 605.5px,#fcd200 606.5px,#ffb700 655.5px,#ffab00 735.5px,#ff9b00 738.5px,#ffa900 739.5px,#f90 742.5px,#ff0b00 748.5px,#f80000 750.5px,#eb0000 758px)"></i>
<i style="left:2229px;width:5px;background:linear-gradient(#0091dd 0px,#009dd1 36.5px,#00aaa9 107.5px,#00aa87 338.5px,#009f2e 416.5px,#009a00 435.5px,#00eb00 529.5px,#00fd00 534.5px,#13ff00 535.5px,#bcff00 540.5px,#d0f800 543.5px,#f2e500 594.5px,#f5df00 605.5px,#f1e800 607.5px,#fbd400 663.5px,#ffcd00 735.5px,#ffbd00 738.5px,#ffa900 739.5px,#f90 742.5px,#ff0b00 748.5px,#f80000 750.5px,#eb0000 758px)"></i>
<i style="left:2234px;width:2px;background:linear-gradient(#008fdd 0px,#009cd4 40.5px,#00aaa9 116.5px,#00aa87 347.5px,#009f2d 426.5px,#009b00 445.5px,#00e900 538.5px,#0f0 544.5px,#af0 549.5px,#c0fd00 550.5px,#d1f800 553.5px,#f2e600 603.5px,#efeb00 610.5px,#fbd400 667.5px,#ffc900 737.5px,#ffc400 738.5px,#ffaf00 739.5px,#ff9800 743.5px,#ff0100 749.5px,#ec0000 758px)"></i>
<i style="left:2236px;width:12px;background:linear-gradient(#008fdd 0px,#009cd5 40.5px,#00aaa9 116.5px,#00aa86 348.5px,#009f2d 426.5px,#009a00 445.5px,#00e900 538.5px,#00fe00 544.5px,#a7ff00 549.5px,#bffe00 550.5px,#d0f800 553.5px,#f2e600 603.5px,#f9d700 610.5px,#fb0 663.5px,#ffb100 736.5px,#ffa500 738.5px,#ffaf00 739.5px,#ff9800 743.5px,#ff0100 749.5px,#ec0000 758px)"></i>
<i style="left:2248px;width:2px;background:linear-gradient(#0092dd 0px,#009ecf 37.5px,#00aaa9 105.5px,#00aa87 336.5px,#009f2e 414.5px,#009a00 433.5px,#00ec00 527.5px,#00fd00 532.5px,#13ff00 533.5px,#bcff00 538.5px,#d0f800 541.5px,#f2e500 592.5px,#f6de00 605.5px,#fbd400 608.5px,#ffbe00 656.5px,#ffb000 735.5px,#ffa000 738.5px,#ffa800 739.5px,#ff9500 742.5px,#ff0800 748.5px,#f60000 751.5px,#eb0000 758px)"></i>
<i style="left:2250px;width:5px;background:linear-gradient(#0092dd 0px,#009ecf 37.5px,#00aaa9 105.5px,#00aa87 336.5px,#009f2e 414.5px,#009a00 433.5px,#00ec00 527.5px,#00fd00 532.5px,#13ff00 533.5px,#bcff00 538.5px,#d0f800 541.5px,#f2e500 592.5px,#f6de00 605.5px,#eaef00 606.5px,#f7dd00 665.5px,#fbd400 735.5px,#ffc900 738.5px,#ffa800 739.5px,#ff9500 742.5px,#ff0800 748.5px,#f60000 751.5px,#eb0000 758px)"></i>
<i style="left:2255px;width:2px;background:linear-gradient(#0091dd 0px,#009dd0 36.5px,#00aaa9 106.5px,#00aa87 337.5px,#009f2d 416.5px,#009b00 435.5px,#00e900 528.5px,#0f0 534.5px,#af0 539.5px,#c0fd00 540.5px,#d1f800 543.5px,#f2e600 593.5px,#f5df00 605.5px,#e9f000 606.5px,#f7dd00 666.5px,#fcd200 736.5px,#ffca00 738.5px,#ffa900 739.5px,#f90 742.5px,#ff0b00 748.5px,#f80000 750.5px,#eb0000 758px)"></i>
<i style="left:2257px;width:5px;background:linear-gradient(#0091dd 0px,#009dd0 36.5px,#00aaa9 106.5px,#00aa87 337.5px,#009f2d 416.5px,#009b00 435.5px,#00e900 528.5px,#0f0 534.5px,#af0 539.5px,#c0fd00 540.5px,#d1f800 543.5px,#f2e600 593.5px,#f5df00 605.5px,#ffc900 606.5px,#ffac00 653.5px,#ff9f00 735.5px,#ff8d00 737.5px,#ff7d00 738.5px,#ffa900 739.5px,#f90 742.5px,#ff0b00 748.5px,#f80000 750.5px,#eb0000 758px)"></i>
<i style="left:2262px;width:2px;background:linear-gradient(#008fdd 0px,#009cd4 41.5px,#00aaa9 117.5px,#00aa87 348.5px,#009f2d 427.5px,#009b00 446.5px,#00e900 539.5px,#0f0 545.5px,#a9ff00 550.5px,#c0fd00 551.5px,#d0f800 554.5px,#f2e600 604.5px,#f2e500 605.5px,#fdd000 606.5px,#ffac00 660.5px,#ffa300 736.5px,#ff9400 738.5px,#ffb000 739.5px,#f90 743.5px,#ff0200 749.5px,#ec0000 758px)"></i>
<i style="left:2264px;width:5px;background:linear-gradient(#008fdd 0px,#009cd4 41.5px,#00aaa9 117.5px,#00aa87 348.5px,#009f2d 427.5px,#009b00 446.5px,#00e900 539.5px,#0f0 545.5px,#a9ff00 550.5px,#c0fd00 551.5px,#d0f800 554.5px,#f2e600 604.5px,#fdcf00 673.5px,#ffc800 736.5px,#f90 743.5px,#ff0200 749.5px,#ec0000 758px)"></i>
<i style="left:2269px;width:2px;background:linear-gradient(#0090dd 0px,#009dd2 36.5px,#00aaa9 109.5px,#00aa87 340.5px,#009f2c 419.5px,#009b00 438.5px,#00ea00 531.5px,#03ff00 537.5px,#b0ff00 542.5px,#cbfa00 544.5px,#f1e800 592.5px,#fdcf00 667.5px,#ffc700 735.5px,#ff9b00 742.5px,#ff0f00 748.5px,#fd0000 749.5px,#eb0000 758px)"></i>
<i style="left:2271px;width:5px;background:linear-gradient(#0090dd 0px,#009dd2 36.5px,#00aaa9 109.5px,#00aa87 340.5px,#009f2c 419.5px,#009b00 438.5px,#00ea00 531.5px,#03ff00 537.5px,#b0ff00 542.5px,#cbfa00 544.5px,#f1e800 592.5px,#ffc100 655.5px,#ffb700 735.5px,#ffa700 738.5px,#ffa500 740.5px,#ff9b00 742.5px,#ff0f00 748.5px,#fd0000 749.5px,#eb0000 758px)"></i>
<i style="left:2276px;width:2px;background:linear-gradient(#0090dd 0px,#009dd2 37.5px,#00aaa9 109.5px,#00aa87 341.5px,#009f2d 419.5px,#009a00 438.5px,#00e900 531.5px,#00fe00 537.5px,#3bff00 539.5px,#befe00 543.5px,#d0f800 546.5px,#f2e600 596.5px,#ffc100 656.5px,#ffb700 735.5px,#ffa700 738.5px,#ffa500 740.5px,#ff9b00 742.5px,#ff1000 748.5px,#fd0000 749.5px,#ec0000 758px)"></i>
<i style="left:2278px;width:5px;background:linear-gradient(#0090dd 0px,#009dd2 37.5px,#00aaa9 109.5px,#00aa87 341.5px,#009f2d 419.5px,#009a00 438.5px,#00e900 531.5px,#00fe00 537.5px,#3bff00 539.5px,#befe00 543.5px,#d0f800 546.5px,#f2e600 596.5px,#fcd100 677.5px,#fc0 735.5px,#ffbc00 738.5px,#ffa500 740.5px,#ff9b00 742.5px,#ff1000 748.5px,#fd0000 749.5px,#ec0000 758px)"></i>
<i style="left:2283px;width:2px;background:linear-gradient(#008fdd 0px,#009cd4 39.5px,#00aaa9 115.5px,#00aa87 346.5px,#009f2c 425.5px,#009b00 444.5px,#00ea00 537.5px,#04ff00 543.5px,#b0ff00 548.5px,#cbfa00 550.5px,#f1e800 598.5px,#f3e400 605.5px,#f0e900 609.5px,#fcd200 666.5px,#ffcb00 736.5px,#ff9500 743.5px,#f00 749.5px,#ec0000 758px)"></i>
<i style="left:2285px;width:5px;background:linear-gradient(#008fdd 0px,#009cd4 39.5px,#00aaa9 115.5px,#00aa87 346.5px,#009f2c 425.5px,#009b00 444.5px,#00ea00 537.5px,#04ff00 543.5px,#b0ff00 548.5px,#cbfa00 550.5px,#f1e800 598.5px,#f3e400 605.5px,#e4f100 606.5px,#f7dd00 659.5px,#fcd100 737.5px,#fece00 738.5px,#ffae00 739.5px,#ff9500 743.5px,#f00 749.5px,#ec0000 758px)"></i>
<i style="left:2290px;width:2px;background:linear-gradient(#008fdd 0px,#009cd4 37.5px,#00aaa9 112.5px,#00aa87 343.5px,#009f2c 422.5px,#009b00 441.5px,#00ea00 534.5px,#06ff00 540.5px,#b2ff00 545.5px,#d0f800 548.5px,#f2e600 599.5px,#f4e200 605.5px,#e6f100 606.5px,#f7dc00 669.5px,#fbd400 736.5px,#fc0 738.5px,#ffac00 739.5px,#ff9c00 742.5px,#ff7600 744.5px,#fe0000 749.5px,#ec0000 758px)"></i>
<i style="left:2292px;width:5px;background:linear-gradient(#008fdd 0px,#009cd4 37.5px,#00aaa9 112.5px,#00aa87 343.5px,#009f2c 422.5px,#009b00 441.5px,#00ea00 534.5px,#06ff00 540.5px,#b2ff00 545.5px,#d0f800 548.5px,#f2e600 599.5px,#f4e200 605.5px,#fcd200 606.5px,#ffb300 658.5px,#ffa500 736.5px,#ff9a00 738.5px,#ffac00 739.5px,#ff9c00 742.5px,#ff7600 744.5px,#fe0000 749.5px,#ec0000 758px)"></i>
<i style="left:2297px;width:2px;background:linear-gradient(#008fdd 0px,#009cd5 40.5px,#00aaa9 116.5px,#00aa86 348.5px,#009f2d 426.5px,#009a00 445.5px,#00e900 538.5px,#00fe00 544.5px,#a7ff00 549.5px,#bffe00 550.5px,#d0f800 553.5px,#f2e600 603.5px,#f3e500 605.5px,#fbd400 606.5px,#ffb300 661.5px,#ffa800 736.5px,#ff9d00 738.5px,#ffaf00 739.5px,#ff9800 743.5px,#ff0100 749.5px,#ec0000 758px)"></i>
<i style="left:2299px;width:5px;background:linear-gradient(#008fdd 0px,#009cd5 40.5px,#00aaa9 116.5px,#00aa86 348.5px,#009f2d 426.5px,#009a00 445.5px,#00e900 538.5px,#00fe00 544.5px,#a7ff00 549.5px,#bffe00 550.5px,#d0f800 553.5px,#f2e600 603.5px,#ffc600 664.5px,#ffbc00 736.5px,#ff9800 743.5px,#ff0100 749.5px,#ec0000 758px)"></i>
<i style="left:2304px;width:2px;background:linear-gradient(#008fdd 0px,#009cd4 38.5px,#00aaa9 113.5px,#00aa87 345.5px,#009f2d 423.5px,#009a00 442.5px,#00e900 535.5px,#00fe00 541.5px,#3cff00 543.5px,#befe00 547.5px,#d0f800 550.5px,#f2e600 600.5px,#ffc600 662.5px,#ffba00 736.5px,#ff9200 743.5px,#fe0000 749.5px,#ec0000 758px)"></i>
<i style="left:2306px;width:5px;background:linear-gradient(#008fdd 0px,#009cd4 38.5px,#00aaa9 113.5px,#00aa87 345.5px,#009f2d 423.5px,#009a00 442.5px,#00e900 535.5px,#00fe00 541.5px,#3cff00 543.5px,#befe00 547.5px,#d0f800 550.5px,#f2e600 600.5px,#fbd300 616.5px,#ffbc00 662.5px,#ffb000 736.5px,#ffa500 738.5px,#ffad00 739.5px,#ff9200 743.5px,#fe0000 749.5px,#ec0000 758px)"></i>
<i style="left:2311px;width:2px;background:linear-gradient(#0094dd 0px,#00a1c5 47.5px,#00aaa8 102.5px,#00aa87 332.5px,#009f2c 411.5px,#009b00 430.5px,#00eb00 523.5px,#00fc00 528.5px,#0aff00 529.5px,#b6ff00 534.5px,#d0f800 537.5px,#f2e500 588.5px,#ffbd00 642.5px,#ffb000 734.5px,#ff9c00 738.5px,#ffa500 739.5px,#ff9b00 741.5px,#ff3000 746.5px,#ff0300 748.5px,#eb0000 758px)"></i>
<i style="left:2313px;width:1px;background:linear-gradient(#0095dd 0px,#00aaa8 103.5px,#00a984 316.5px,#009c1c 411.5px,#009b00 425.5px,#00ea00 523.5px,#03ff00 529.5px,#a5ff00 534.5px,#befe00 535.5px,#cef900 540.5px,#f2e700 590.5px,#f6df00 605.5px,#fdd000 606.5px,#ffba00 654.5px,#ffae00 734.5px,#ff9500 738.5px,#ffa800 739.5px,#ff9000 742.5px,#ff0400 748.5px,#eb0000 758px)"></i>
<i style="left:2314px;width:1px;background:linear-gradient(#0098dd 0px,#00aaa6 102.5px,#00a980 279.5px,#009d00 415.5px,#00ea00 523.5px,#00fd00 529.5px,#2eff00 531.5px,#bf0 536.5px,#d4f700 550.5px,#f2e600 601.5px,#f3e400 605.5px,#fbd500 606.5px,#ffc200 676.5px,#ffb700 734.5px,#ff9e00 738.5px,#ffad00 739.5px,#f90 742.5px,#ff0500 748.5px,#eb0000 758px)"></i>
<i style="left:2315px;width:1px;background:linear-gradient(#009ada 0px,#00aaa5 102.5px,#00a981 219.5px,#00a13f 312.5px,#009b00 385.5px,#00d500 497.5px,#00ec00 524.5px,#0f0 530.5px,#91ff00 536.5px,#b9ff00 539.5px,#cdf900 547.5px,#f1e900 605.5px,#f8da00 606.5px,#ffc100 734.5px,#ffa400 738.5px,#ffb300 739.5px,#ff9c00 742.5px,#ff0700 748.5px,#f20000 753.5px,#eb0000 758px)"></i>
<i style="left:2316px;width:1px;background:linear-gradient(#009bd6 0px,#00aaa2 104.5px,#00aa84 196.5px,#00a55c 225.5px,#009b00 351.5px,#00c200 460.5px,#00eb00 524.5px,#02ff00 531.5px,#87ff00 538.5px,#befe00 542.5px,#cff800 557.5px,#ee0 605.5px,#f5df00 606.5px,#ffcb00 734.5px,#fa0 738.5px,#ffb800 739.5px,#ff9100 743.5px,#ff0900 748.5px,#f70000 750.5px,#eb0000 758px)"></i>
<i style="left:2317px;width:1px;background:linear-gradient(#009dd2 0px,#00aaa0 106.5px,#00aa86 182.5px,#00a13c 222.5px,#009b00 310.5px,#00c800 462.5px,#00ea00 524.5px,#00fe00 532.5px,#62ff00 538.5px,#bdfe00 543.5px,#e6f100 605.5px,#f3e400 606.5px,#fcd200 734.5px,#ffb100 738.5px,#ffbe00 739.5px,#f90 743.5px,#ff0b00 748.5px,#f70000 750.5px,#eb0000 758px)"></i>
<i style="left:2318px;width:1px;background:linear-gradient(#009cd5 0px,#00aa9e 122.5px,#00a984 188.5px,#009c1b 236.5px,#009b00 280.5px,#00d200 490.5px,#00ec00 540.5px,#0f0 549.5px,#17ff00 551.5px,#b7ff00 558.5px,#cafa00 580.5px,#d9f500 605.5px,#eeed00 606.5px,#f8d900 736.5px,#ffca00 738.5px,#fcd200 739.5px,#ffa000 744.5px,#ff8c00 745.5px,#ff0900 749.5px,#f50000 752.5px,#ec0000 758px)"></i>
<i style="left:2319px;width:1px;background:linear-gradient(#009cd3 0px,#00aa9d 123.5px,#00aa84 184.5px,#009a0b 235.5px,#009c00 265.5px,#00d800 504.5px,#00eb00 540.5px,#01ff00 551.5px,#adff00 558.5px,#bf0 559.5px,#d6f600 605.5px,#ecef00 606.5px,#f7dc00 736.5px,#fece00 738.5px,#fbd500 739.5px,#ff9000 745.5px,#ff0a00 749.5px,#f70000 751.5px,#ec0000 758px)"></i>
<i style="left:2320px;width:5px;background:linear-gradient(#009cd3 0px,#00aa9d 123.5px,#00aa84 184.5px,#009a0b 235.5px,#009c00 265.5px,#00d800 504.5px,#00eb00 540.5px,#01ff00 551.5px,#adff00 558.5px,#bf0 559.5px,#d6f600 605.5px,#c1fd00 606.5px,#ddf400 736.5px,#f0ea00 738.5px,#fbd500 739.5px,#ff9000 745.5px,#ff0a00 749.5px,#f70000 751.5px,#ec0000 758px)"></i>
<i style="left:2325px;width:2px;background:linear-gradient(#009ecd 0px,#00aa9d 112.5px,#00a984 172.5px,#009a0b 223.5px,#009d00 254.5px,#00d800 492.5px,#00ec00 528.5px,#05ff00 539.5px,#b1ff00 546.5px,#bcff00 548.5px,#daf500 605.5px,#c5fc00 606.5px,#dbf400 734.5px,#f2e600 737.5px,#f5df00 738.5px,#ffbf00 740.5px,#ff8f00 744.5px,#ff1300 748.5px,#fc0000 749.5px,#eb0000 758px)"></i>
<i style="left:2327px;width:5px;background:linear-gradient(#009ecd 0px,#00aa9d 112.5px,#00a984 172.5px,#009a0b 223.5px,#009d00 254.5px,#00d800 492.5px,#00ec00 528.5px,#05ff00 539.5px,#b1ff00 546.5px,#bcff00 548.5px,#daf500 605.5px,#eeed00 606.5px,#f5df00 734.5px,#ffbf00 738.5px,#ffc900 739.5px,#ff8f00 744.5px,#ff1300 748.5px,#fc0000 749.5px,#eb0000 758px)"></i>
<i style="left:2332px;width:7px;background:linear-gradient(#009cd3 0px,#00aa9f 114.5px,#00aa86 181.5px,#009a0b 233.5px,#009d00 264.5px,#00d900 502.5px,#00ec00 538.5px,#00fe00 548.5px,#0aff00 549.5px,#b6ff00 556.5px,#d7f600 605.5px,#efec00 606.5px,#f9d800 736.5px,#ffc700 738.5px,#fcd300 739.5px,#ff9f00 744.5px,#ff6900 746.5px,#ff0500 749.5px,#ec0000 758px)"></i>
<i style="left:2339px;width:2px;background:linear-gradient(#009ecf 0px,#00aa9e 112.5px,#00aa85 174.5px,#009a0b 226.5px,#009c00 256.5px,#00d900 495.5px,#00ec00 531.5px,#00fe00 541.5px,#0cff00 542.5px,#b8ff00 549.5px,#daf500 605.5px,#f1e900 606.5px,#fad600 735.5px,#fb0 738.5px,#fc0 739.5px,#ff9600 744.5px,#fd0000 749.5px,#eb0000 758px)"></i>
<i style="left:2341px;width:5px;background:linear-gradient(#009ecf 0px,#00aa9e 112.5px,#00aa85 174.5px,#009a0b 226.5px,#009c00 256.5px,#00d900 495.5px,#00ec00 531.5px,#00fe00 541.5px,#0cff00 542.5px,#b8ff00 549.5px,#daf500 605.5px,#c0fd00 606.5px,#d4f700 734.5px,#f3e500 738.5px,#fc0 739.5px,#ff9600 744.5px,#fd0000 749.5px,#eb0000 758px)"></i>
<i style="left:2346px;width:2px;background:linear-gradient(#009ece 0px,#00aa9d 112.5px,#00a983 174.5px,#009a0b 225.5px,#009c00 255.5px,#00d900 494.5px,#00ec00 530.5px,#00fe00 540.5px,#0cff00 541.5px,#b8ff00 548.5px,#daf500 605.5px,#c0fd00 606.5px,#d4f700 734.5px,#f3e400 738.5px,#ffcb00 739.5px,#ff9300 744.5px,#ff1600 748.5px,#fd0000 749.5px,#eb0000 758px)"></i>
<i style="left:2348px;width:5px;background:linear-gradient(#009ece 0px,#00aa9d 112.5px,#00a983 174.5px,#009a0b 225.5px,#009c00 255.5px,#00d900 494.5px,#00ec00 530.5px,#00fe00 540.5px,#0cff00 541.5px,#b8ff00 548.5px,#daf500 605.5px,#cef900 606.5px,#e1f200 734.5px,#f7db00 738.5px,#ffac00 742.5px,#ff9300 744.5px,#ff1600 748.5px,#fd0000 749.5px,#eb0000 758px)"></i>
<i style="left:2353px;width:2px;background:linear-gradient(#009dd2 0px,#00aaa2 104.5px,#00a984 180.5px,#009a0b 231.5px,#009d00 262.5px,#00d900 500.5px,#00ec00 536.5px,#06ff00 547.5px,#b3ff00 554.5px,#bdfe00 557.5px,#d8f500 605.5px,#ccf900 606.5px,#e1f200 735.5px,#f5e100 738.5px,#ffb300 742.5px,#ff9d00 744.5px,#ff4300 747.5px,#ff0200 749.5px,#ec0000 758px)"></i>
<i style="left:2355px;width:5px;background:linear-gradient(#009dd2 0px,#00aaa2 104.5px,#00a984 180.5px,#009a0b 231.5px,#009d00 262.5px,#00d900 500.5px,#00ec00 536.5px,#06ff00 547.5px,#b3ff00 554.5px,#bdfe00 557.5px,#d8f500 605.5px,#e9f000 606.5px,#f3e300 735.5px,#fecd00 738.5px,#ffc900 740.5px,#ff9d00 744.5px,#ff4300 747.5px,#ff0200 749.5px,#ec0000 758px)"></i>
<i style="left:2360px;width:2px;background:linear-gradient(#009cd3 0px,#00aa9e 117.5px,#00aa84 182.5px,#009a0b 233.5px,#009c00 263.5px,#00d800 502.5px,#00eb00 538.5px,#01ff00 549.5px,#adff00 556.5px,#bf0 557.5px,#d7f600 605.5px,#e8f000 606.5px,#f6de00 736.5px,#ffcb00 740.5px,#ff9f00 744.5px,#ff8b00 745.5px,#ff0600 749.5px,#ec0000 758px)"></i>
<i style="left:2362px;width:5px;background:linear-gradient(#009cd3 0px,#00aa9e 117.5px,#00aa84 182.5px,#009a0b 233.5px,#009c00 263.5px,#00d800 502.5px,#00eb00 538.5px,#01ff00 549.5px,#adff00 556.5px,#bf0 557.5px,#dbf400 628.5px,#f0ea00 736.5px,#ffb500 742.5px,#ff9f00 744.5px,#ff8b00 745.5px,#ff0600 749.5px,#ec0000 758px)"></i>
<i style="left:2367px;width:7px;background:linear-gradient(#009ecf 0px,#00aa9e 112.5px,#00aa85 175.5px,#009a0b 226.5px,#009c00 256.5px,#00d800 495.5px,#00eb00 531.5px,#0f0 542.5px,#bf0 550.5px,#d6f600 607.5px,#efec00 735.5px,#ffb800 741.5px,#ff9800 744.5px,#fe0000 749.5px,#eb0000 758px)"></i>
<i style="left:2374px;width:2px;background:linear-gradient(#009cd3 0px,#00aa9c 128.5px,#00a984 186.5px,#009a0b 237.5px,#009d00 268.5px,#00d800 506.5px,#00ec00 542.5px,#05ff00 553.5px,#b1ff00 560.5px,#bcff00 562.5px,#d5f600 619.5px,#eaef00 736.5px,#ffb900 742.5px,#ff9500 745.5px,#ff0d00 749.5px,#fa0000 750.5px,#ec0000 758px)"></i>
<i style="left:2376px;width:5px;background:linear-gradient(#009cd3 0px,#00aa9c 128.5px,#00a984 186.5px,#009a0b 237.5px,#009d00 268.5px,#00d800 506.5px,#00ec00 542.5px,#05ff00 553.5px,#b1ff00 560.5px,#bcff00 562.5px,#d5f600 605.5px,#e5f100 606.5px,#f4e300 736.5px,#ffc500 741.5px,#ff9500 745.5px,#ff0d00 749.5px,#fa0000 750.5px,#ec0000 758px)"></i>
<i style="left:2381px;width:7px;background:linear-gradient(#009dd2 0px,#00aaa1 105.5px,#00aa85 179.5px,#009a0b 230.5px,#009c00 260.5px,#00d800 499.5px,#00eb00 535.5px,#0f0 546.5px,#bf0 554.5px,#d8f500 605.5px,#ebef00 606.5px,#f4e100 735.5px,#ffcb00 738.5px,#fdd100 739.5px,#ff9d00 744.5px,#ff0100 749.5px,#ec0000 758px)"></i>
<i style="left:2388px;width:7px;background:linear-gradient(#009fcb 0px,#00aa9b 114.5px,#00a983 169.5px,#009a0b 220.5px,#009d00 251.5px,#00d900 489.5px,#00ec00 525.5px,#00fe00 535.5px,#09ff00 536.5px,#b6ff00 543.5px,#dbf400 605.5px,#efec00 606.5px,#f8db00 734.5px,#ffba00 738.5px,#ffc500 739.5px,#ff9d00 743.5px,#ff0c00 748.5px,#fb0000 749.5px,#eb0000 758px)"></i>
<i style="left:2395px;width:7px;background:linear-gradient(#009dd2 0px,#00aaa1 105.5px,#00aa85 179.5px,#009a0b 230.5px,#009c00 260.5px,#00d800 499.5px,#00eb00 535.5px,#0f0 546.5px,#bf0 554.5px,#d8f500 605.5px,#e7f000 606.5px,#f3e400 735.5px,#fece00 738.5px,#ffc800 740.5px,#ff9d00 744.5px,#ff0100 749.5px,#ec0000 758px)"></i>
<i style="left:2402px;width:2px;background:linear-gradient(#009cd3 0px,#00aaa0 110.5px,#00aa84 181.5px,#009a0b 232.5px,#009c00 262.5px,#00d800 501.5px,#00eb00 537.5px,#0f0 548.5px,#abff00 555.5px,#bf0 556.5px,#d7f600 605.5px,#e4f100 607.5px,#f5e000 736.5px,#ffbf00 741.5px,#ff9e00 744.5px,#ff6700 746.5px,#ff0400 749.5px,#ec0000 758px)"></i>
<i style="left:2404px;width:5px;background:linear-gradient(#009cd3 0px,#00aaa0 110.5px,#00aa84 181.5px,#009a0b 232.5px,#009c00 262.5px,#00d800 501.5px,#00eb00 537.5px,#0f0 548.5px,#abff00 555.5px,#bf0 556.5px,#d7f600 605.5px,#c1fd00 606.5px,#d7f600 735.5px,#f1e900 738.5px,#fcd200 739.5px,#ff9e00 744.5px,#ff6700 746.5px,#ff0400 749.5px,#ec0000 758px)"></i>
<i style="left:2409px;width:2px;background:linear-gradient(#009fcc 0px,#00aa9c 113.5px,#00a983 170.5px,#009a0b 221.5px,#009c00 251.5px,#00d900 490.5px,#00ec00 526.5px,#00fe00 536.5px,#0cff00 537.5px,#b9ff00 544.5px,#dbf400 605.5px,#c4fc00 606.5px,#ddf400 734.5px,#f6de00 738.5px,#ffc600 739.5px,#ff9d00 743.5px,#ff4b00 746.5px,#ff0e00 748.5px,#fb0000 749.5px,#eb0000 758px)"></i>
<i style="left:2411px;width:5px;background:linear-gradient(#009fcc 0px,#00aa9c 113.5px,#00a983 170.5px,#009a0b 221.5px,#009c00 251.5px,#00d900 490.5px,#00ec00 526.5px,#00fe00 536.5px,#0cff00 537.5px,#b9ff00 544.5px,#dbf400 605.5px,#d2f700 607.5px,#ebef00 734.5px,#fbd500 738.5px,#ff9d00 743.5px,#ff4b00 746.5px,#ff0e00 748.5px,#fb0000 749.5px,#eb0000 758px)"></i>
<i style="left:2416px;width:1px;background:linear-gradient(#009dd2 0px,#00aaa0 107.5px,#00aa85 178.5px,#009a0b 230.5px,#009c00 260.5px,#00d900 499.5px,#00ec00 535.5px,#00fe00 545.5px,#27ff00 547.5px,#baff00 553.5px,#d9f500 605.5px,#d1f800 608.5px,#e7f000 735.5px,#ffc700 740.5px,#ff9c00 744.5px,#f00 749.5px,#ec0000 758px)"></i>
<i style="left:2417px;width:1px;background:linear-gradient(#009ecf 0px,#00aaa1 100.5px,#00aa84 175.5px,#009a09 230.5px,#009d00 261.5px,#00e000 516.5px,#00f000 537.5px,#00fe00 545.5px,#09ff00 546.5px,#a8ff00 553.5px,#befe00 568.5px,#d3f700 605.5px,#cbfa00 608.5px,#e4f100 735.5px,#ffc900 740.5px,#ff9d00 744.5px,#ff4200 747.5px,#f00 749.5px,#ec0000 758px)"></i>
<i style="left:2418px;width:1px;background:linear-gradient(#009fca 0px,#00aaa2 87.5px,#00a981 169.5px,#009a06 231.5px,#00e200 516.5px,#00f400 539.5px,#0f0 546.5px,#82ff00 553.5px,#befe00 586.5px,#c8fb00 605.5px,#d5f600 606.5px,#efeb00 735.5px,#fbd400 738.5px,#fecd00 740.5px,#ffa000 744.5px,#ff8b00 745.5px,#ff0200 749.5px,#ec0000 758px)"></i>
<i style="left:2419px;width:1px;background:linear-gradient(#00a1c5 0px,#00aaa2 75.5px,#00a980 158.5px,#090 234.5px,#00ed00 533.5px,#03ff00 547.5px,#5dff00 553.5px,#cafa00 609.5px,#e3f200 689.5px,#ebef00 735.5px,#ffc600 741.5px,#ff9200 745.5px,#ff0300 749.5px,#ec0000 758px)"></i>
<i style="left:2420px;width:1px;background:linear-gradient(#00a3c0 0px,#00aaa2 64.5px,#00a980 145.5px,#009a00 234.5px,#00f300 538.5px,#0f0 548.5px,#38ff00 553.5px,#97ff00 605.5px,#befe00 606.5px,#daf500 673.5px,#e5f100 735.5px,#ffca00 741.5px,#ff9800 745.5px,#ff0400 749.5px,#ec0000 758px)"></i>
<i style="left:2421px;width:1px;background:linear-gradient(#00a4bb 0px,#00aa9f 63.5px,#00a982 131.5px,#009a00 233.5px,#00f800 545.5px,#04ff00 551.5px,#16ff00 555.5px,#6eff00 605.5px,#9dff00 606.5px,#c4fc00 636.5px,#d3f700 673.5px,#def300 735.5px,#f5df00 738.5px,#fece00 741.5px,#ff9b00 745.5px,#ff0500 749.5px,#ec0000 758px)"></i>
<i style="left:2422px;width:1px;background:linear-gradient(#00a6b6 0px,#00aa98 79.5px,#00a981 121.5px,#009f2d 184.5px,#009b00 233.5px,#05ff00 567.5px,#45ff00 605.5px,#73ff00 606.5px,#98ff00 625.5px,#befe00 638.5px,#ccf900 668.5px,#d7f600 735.5px,#f4e300 738.5px,#fdd000 741.5px,#ff9d00 745.5px,#ff2e00 748.5px,#ff0700 749.5px,#ec0000 758px)"></i>
<i style="left:2423px;width:7px;background:linear-gradient(#00a7b4 0px,#00aa85 122.5px,#009f2e 182.5px,#009b00 240.5px,#06ff00 586.5px,#25ff00 605.5px,#58ff00 606.5px,#8f0 630.5px,#befe00 646.5px,#cbfa00 674.5px,#d6f600 736.5px,#efeb00 738.5px,#f4e100 740.5px,#ffa600 745.5px,#ff9500 746.5px,#ff1600 749.5px,#fb0000 750.5px,#ec0000 758px)"></i>
<i style="left:2430px;width:2px;background:linear-gradient(#00a9ae 0px,#00aa86 107.5px,#009f2d 168.5px,#009b00 225.5px,#05ff00 571.5px,#3dff00 605.5px,#72ff00 606.5px,#91ff00 619.5px,#bdfe00 633.5px,#cbfa00 662.5px,#d9f500 734.5px,#f4e200 737.5px,#ffc900 741.5px,#ff8e00 745.5px,#ff1b00 748.5px,#fd0000 749.5px,#eb0000 758px)"></i>
<i style="left:2432px;width:5px;background:linear-gradient(#00a9ae 0px,#00aa86 107.5px,#009f2d 168.5px,#009b00 225.5px,#05ff00 571.5px,#3dff00 605.5px,#41ff00 612.5px,#b5ff00 647.5px,#c9fa00 734.5px,#eeed00 737.5px,#ffaf00 743.5px,#ff8e00 745.5px,#ff1b00 748.5px,#fd0000 749.5px,#eb0000 758px)"></i>
<i style="left:2437px;width:2px;background:linear-gradient(#00a7b4 0px,#00aa94 95.5px,#00a980 121.5px,#009f2c 180.5px,#009b00 237.5px,#05ff00 582.5px,#4aff00 626.5px,#b5ff00 655.5px,#c3fc00 735.5px,#f1e700 739.5px,#ffb000 744.5px,#ff8b00 746.5px,#ff0f00 749.5px,#f90000 750.5px,#ec0000 758px)"></i>
<i style="left:2439px;width:5px;background:linear-gradient(#00a7b4 0px,#00aa94 95.5px,#00a980 121.5px,#009f2c 180.5px,#009b00 237.5px,#05ff00 582.5px,#2aff00 605.5px,#09ff00 606.5px,#32ff00 627.5px,#98ff00 655.5px,#bcff00 735.5px,#f1e700 739.5px,#ffb000 744.5px,#ff8b00 746.5px,#ff0f00 749.5px,#f90000 750.5px,#ec0000 758px)"></i>
<i style="left:2444px;width:2px;background:linear-gradient(#00a7b4 0px,#00aa87 123.5px,#009f2d 184.5px,#009b00 242.5px,#05ff00 587.5px,#2f0 605.5px,#01ff00 606.5px,#32ff00 631.5px,#98ff00 658.5px,#bcff00 736.5px,#efec00 739.5px,#ffb600 744.5px,#f90 746.5px,#ff1a00 749.5px,#fb0000 750.5px,#ec0000 758px)"></i>
<i style="left:2446px;width:5px;background:linear-gradient(#00a7b4 0px,#00aa87 123.5px,#009f2d 184.5px,#009b00 242.5px,#05ff00 587.5px,#2f0 605.5px,#10ff00 606.5px,#41ff00 631.5px,#a8ff00 658.5px,#bffe00 729.5px,#c0fd00 736.5px,#efec00 739.5px,#ffb600 744.5px,#f90 746.5px,#ff1a00 749.5px,#fb0000 750.5px,#ec0000 758px)"></i>
<i style="left:2451px;width:2px;background:linear-gradient(#00a7b4 0px,#00aa96 85.5px,#00a981 119.5px,#009f2d 178.5px,#009b00 235.5px,#05ff00 581.5px,#2dff00 605.5px,#1bff00 606.5px,#42ff00 626.5px,#a8ff00 654.5px,#bffe00 728.5px,#c0fd00 735.5px,#f2e600 739.5px,#ffae00 744.5px,#ffa100 745.5px,#ff8700 746.5px,#ff0c00 749.5px,#f60000 751.5px,#ec0000 758px)"></i>
<i style="left:2453px;width:5px;background:linear-gradient(#00a7b4 0px,#00aa96 85.5px,#00a981 119.5px,#009f2d 178.5px,#009b00 235.5px,#05ff00 581.5px,#2dff00 605.5px,#00f700 606.5px,#05ff00 629.5px,#60ff00 654.5px,#85ff00 735.5px,#b2ff00 736.5px,#d4f700 738.5px,#f2e600 739.5px,#ffae00 744.5px,#ffa100 745.5px,#ff8700 746.5px,#ff0c00 749.5px,#f60000 751.5px,#ec0000 758px)"></i>
<i style="left:2458px;width:2px;background:linear-gradient(#00a7b4 0px,#00aa86 121.5px,#009f2d 182.5px,#009b00 239.5px,#05ff00 585.5px,#26ff00 605.5px,#00f600 606.5px,#05ff00 632.5px,#60ff00 657.5px,#84ff00 735.5px,#97ff00 736.5px,#bffe00 737.5px,#cdf900 738.5px,#f0ea00 739.5px,#ffb300 744.5px,#ff9300 746.5px,#ff1400 749.5px,#fa0000 750.5px,#ec0000 758px)"></i>
<i style="left:2460px;width:5px;background:linear-gradient(#00a7b4 0px,#00aa86 121.5px,#009f2d 182.5px,#009b00 239.5px,#05ff00 585.5px,#26ff00 605.5px,#74ff00 606.5px,#a1ff00 629.5px,#befe00 639.5px,#d1f800 666.5px,#dff300 736.5px,#f2e500 738.5px,#f0ea00 739.5px,#ffb300 744.5px,#ff9300 746.5px,#ff1400 749.5px,#fa0000 750.5px,#ec0000 758px)"></i>
<i style="left:2465px;width:2px;background:linear-gradient(#00a7b3 0px,#00aa93 92.5px,#00a97f 118.5px,#009f2c 177.5px,#009b00 234.5px,#05ff00 579.5px,#30ff00 605.5px,#7dff00 606.5px,#a4ff00 625.5px,#befe00 634.5px,#d1f800 663.5px,#dcf400 735.5px,#f6df00 738.5px,#f3e400 739.5px,#ff9f00 745.5px,#ff5900 747.5px,#ff0800 749.5px,#f30000 753.5px,#ec0000 758px)"></i>
<i style="left:2467px;width:5px;background:linear-gradient(#00a7b3 0px,#00aa93 92.5px,#00a97f 118.5px,#009f2c 177.5px,#009b00 234.5px,#05ff00 579.5px,#30ff00 605.5px,#1cff00 606.5px,#43ff00 625.5px,#a6ff00 653.5px,#bffe00 729.5px,#c2fd00 735.5px,#f3e400 739.5px,#ff9f00 745.5px,#ff5900 747.5px,#ff0800 749.5px,#f30000 753.5px,#ec0000 758px)"></i>
<i style="left:2472px;width:2px;background:linear-gradient(#00a9ae 0px,#00aa86 107.5px,#009f2d 168.5px,#009b00 226.5px,#05ff00 571.5px,#3dff00 605.5px,#29ff00 606.5px,#47ff00 619.5px,#a6ff00 647.5px,#c5fc00 734.5px,#f1e700 738.5px,#ffaf00 743.5px,#ff8f00 745.5px,#ff1c00 748.5px,#fd0000 749.5px,#eb0000 758px)"></i>
<i style="left:2474px;width:5px;background:linear-gradient(#00a9ae 0px,#00aa86 107.5px,#009f2d 168.5px,#009b00 226.5px,#05ff00 571.5px,#3dff00 605.5px,#86ff00 606.5px,#a4ff00 619.5px,#befe00 629.5px,#d0f800 658.5px,#def300 734.5px,#fad600 738.5px,#f8db00 739.5px,#ffa200 744.5px,#ff8f00 745.5px,#ff1c00 748.5px,#fd0000 749.5px,#eb0000 758px)"></i>
<i style="left:2479px;width:2px;background:linear-gradient(#00a7b3 0px,#00aa93 94.5px,#00a981 117.5px,#009f2d 176.5px,#009b00 233.5px,#05ff00 579.5px,#30ff00 605.5px,#79ff00 606.5px,#9cff00 624.5px,#befe00 635.5px,#d0f800 663.5px,#dbf400 735.5px,#f5df00 738.5px,#f3e300 739.5px,#ff9e00 745.5px,#ff5800 747.5px,#ff0700 749.5px,#ed0000 756.5px,#ec0000 758px)"></i>
<i style="left:2481px;width:5px;background:linear-gradient(#00a7b3 0px,#00aa93 94.5px,#00a981 117.5px,#009f2d 176.5px,#009b00 233.5px,#05ff00 579.5px,#30ff00 605.5px,#46ff00 606.5px,#69ff00 624.5px,#bdfe00 648.5px,#cdf900 735.5px,#f1e900 738.5px,#ffb900 743.5px,#ff9e00 745.5px,#ff5800 747.5px,#ff0700 749.5px,#ed0000 756.5px,#ec0000 758px)"></i>
<i style="left:2486px;width:2px;background:linear-gradient(#00a9ad 0px,#00aa87 105.5px,#009f2d 166.5px,#009b00 224.5px,#05ff00 569.5px,#40ff00 605.5px,#5f0 606.5px,#73ff00 618.5px,#bdfe00 641.5px,#cbfa00 733.5px,#f2e600 737.5px,#ffba00 742.5px,#ffa000 744.5px,#ff8900 745.5px,#ff1700 748.5px,#fc0000 749.5px,#eb0000 758px)"></i>
<i style="left:2488px;width:5px;background:linear-gradient(#00a9ad 0px,#00aa87 105.5px,#009f2d 166.5px,#009b00 224.5px,#05ff00 569.5px,#40ff00 605.5px,#91ff00 606.5px,#afff00 618.5px,#c4fc00 631.5px,#d3f700 661.5px,#dbf400 733.5px,#f7db00 737.5px,#fcd300 738.5px,#f9d900 739.5px,#ffa000 744.5px,#ff8900 745.5px,#ff1700 748.5px,#fc0000 749.5px,#eb0000 758px)"></i>
<i style="left:2493px;width:2px;background:linear-gradient(#00a7b4 0px,#00aa85 122.5px,#009f2e 182.5px,#009b00 240.5px,#06ff00 586.5px,#25ff00 605.5px,#76ff00 606.5px,#a6ff00 630.5px,#bffe00 639.5px,#d2f700 666.5px,#def300 736.5px,#f2e600 738.5px,#f0eb00 739.5px,#ffb400 744.5px,#ff9500 746.5px,#ff1700 749.5px,#fb0000 750.5px,#ec0000 758px)"></i>
<i style="left:2495px;width:5px;background:linear-gradient(#00a7b4 0px,#00aa85 122.5px,#009f2e 182.5px,#009b00 240.5px,#06ff00 586.5px,#54ff00 630.5px,#baff00 658.5px,#c8fb00 736.5px,#f0eb00 739.5px,#ffb400 744.5px,#ff9500 746.5px,#ff1700 749.5px,#fb0000 750.5px,#ec0000 758px)"></i>
<i style="left:2500px;width:2px;background:linear-gradient(#00a7b4 0px,#00aa95 87.5px,#00a980 120.5px,#009f2c 179.5px,#009b00 236.5px,#05ff00 581.5px,#53ff00 626.5px,#baff00 655.5px,#c5fc00 735.5px,#f2e600 739.5px,#ffaf00 744.5px,#f80 746.5px,#ff0d00 749.5px,#f90000 750.5px,#ec0000 758px)"></i>
<i style="left:2502px;width:5px;background:linear-gradient(#00a7b4 0px,#00aa95 87.5px,#00a980 120.5px,#009f2c 179.5px,#009b00 236.5px,#05ff00 581.5px,#2cff00 605.5px,#4eff00 606.5px,#79ff00 627.5px,#bdfe00 647.5px,#cef900 735.5px,#f0e900 738.5px,#ffbc00 743.5px,#ffa100 745.5px,#f80 746.5px,#ff0d00 749.5px,#f90000 750.5px,#ec0000 758px)"></i>
<i style="left:2507px;width:2px;background:linear-gradient(#00a8b0 0px,#00aa86 111.5px,#009f2d 172.5px,#009b00 229.5px,#05ff00 575.5px,#37ff00 605.5px,#59ff00 606.5px,#78ff00 621.5px,#bdfe00 642.5px,#cef900 734.5px,#f4e200 738.5px,#ffc100 742.5px,#ff9a00 745.5px,#f00 749.5px,#eb0000 758px)"></i>
<i style="left:2509px;width:5px;background:linear-gradient(#00a8b0 0px,#00aa86 111.5px,#009f2d 172.5px,#009b00 229.5px,#05ff00 575.5px,#37ff00 605.5px,#00fb00 606.5px,#06ff00 620.5px,#6eff00 650.5px,#93ff00 734.5px,#baff00 735.5px,#e2f200 738.5px,#f5df00 739.5px,#ff9a00 745.5px,#f00 749.5px,#eb0000 758px)"></i>
<i style="left:2514px;width:2px;background:linear-gradient(#00a7b4 0px,#00aa86 121.5px,#009f2d 182.5px,#009b00 240.5px,#05ff00 585.5px,#26ff00 605.5px,#00f800 606.5px,#03ff00 628.5px,#6eff00 657.5px,#93ff00 735.5px,#a3ff00 736.5px,#c3fc00 737.5px,#d1f800 738.5px,#f0ea00 739.5px,#ffb300 744.5px,#ff9300 746.5px,#ff1500 749.5px,#fa0000 750.5px,#ec0000 758px)"></i>
<i style="left:2516px;width:5px;background:linear-gradient(#00a7b4 0px,#00aa86 121.5px,#009f2d 182.5px,#009b00 240.5px,#05ff00 585.5px,#26ff00 605.5px,#6bff00 606.5px,#98ff00 629.5px,#befe00 641.5px,#cff800 667.5px,#dcf400 736.5px,#f1e700 738.5px,#f0ea00 739.5px,#ffb300 744.5px,#ff9300 746.5px,#ff1500 749.5px,#fa0000 750.5px,#ec0000 758px)"></i>
<i style="left:2521px;width:2px;background:linear-gradient(#00a8b1 0px,#00aa87 112.5px,#009f2d 173.5px,#009b00 231.5px,#05ff00 576.5px,#34ff00 605.5px,#79ff00 606.5px,#9f0 622.5px,#befe00 634.5px,#cff800 662.5px,#d8f500 734.5px,#f6dd00 738.5px,#f5e100 739.5px,#ff9b00 745.5px,#ff0100 749.5px,#eb0000 758px)"></i>
<i style="left:2523px;width:5px;background:linear-gradient(#00a8b1 0px,#00aa87 112.5px,#009f2d 173.5px,#009b00 231.5px,#05ff00 576.5px,#34ff00 605.5px,#00f700 606.5px,#04ff00 626.5px,#5bff00 651.5px,#80ff00 734.5px,#c0fd00 736.5px,#daf500 738.5px,#f5e100 739.5px,#ff9b00 745.5px,#ff0100 749.5px,#eb0000 758px)"></i>
<i style="left:2528px;width:109px;background:linear-gradient(#00a7b3 0px,#00aa87 114.5px,#009f2d 175.5px,#009b00 233.5px,#05ff00 578.5px,#53ff00 623.5px,#bf0 652.5px,#c9fa00 735.5px,#efec00 738.5px,#ffab00 744.5px,#ff9e00 745.5px,#ff5600 747.5px,#ff0600 749.5px,#eb0000 758px)"></i>
<i style="left:31px;width:4px;background:#ccc"></i>
<i style="left:2527px;width:107px;background:#ccc"></i>
<i style="left:2634px;width:10px;background:#fff"></i>
</div>
<div id="frame"></div>
<svg width="2999" height="850" viewBox="0 0 2999 850">
<g stroke="#000" stroke-width="1.2" stroke-dasharray="4 4.3" fill="none">
<line x1="291.3" y1="28.5" x2="291.3" y2="787" />
<line x1="511.2" y1="28.5" x2="511.2" y2="787" />
<line x1="731.0" y1="28.5" x2="731.0" y2="787" />
<line x1="950.8" y1="28.5" x2="950.8" y2="787" />
<line x1="1170.7" y1="28.5" x2="1170.7" y2="787" />
<line x1="1390.5" y1="28.5" x2="1390.5" y2="787" />
<line x1="1610.3" y1="28.5" x2="1610.3" y2="787" />
<line x1="1830.2" y1="28.5" x2="1830.2" y2="787" />
<line x1="2050.0" y1="28.5" x2="2050.0" y2="787" />
<line x1="2269.8" y1="28.5" x2="2269.8" y2="787" />
<line x1="2489.7" y1="28.5" x2="2489.7" y2="787" />
<line x1="71.5" y1="711.5" x2="2709" y2="711.5" />
<line x1="71.5" y1="635.5" x2="2709" y2="635.5" />
<line x1="71.5" y1="559.5" x2="2709" y2="559.5" />
<line x1="71.5" y1="483.5" x2="2709" y2="483.5" />
<line x1="71.5" y1="407.5" x2="2709" y2="407.5" />
<line x1="71.5" y1="331.5" x2="2709" y2="331.5" />
<line x1="71.5" y1="255.5" x2="2709" y2="255.5" />
<line x1="71.5" y1="179.5" x2="2709" y2="179.5" />
<line x1="71.5" y1="103.5" x2="2709" y2="103.5" />
</g>
<g stroke="#000" stroke-width="4.6" stroke-dasharray="3.9 4.4" fill="none">
<line x1="658.5" y1="33" x2="658.5" y2="787"/>
<line x1="1907.6" y1="33" x2="1907.6" y2="787"/>
</g>
</svg>
<div id="cb"></div>
<div class="t yl" style="top:771.1px">0</div>
<div class="t yl" style="top:695.1px">1</div>
<div class="t yl" style="top:619.1px">2</div>
<div class="t yl" style="top:543.1px">3</div>
<div class="t yl" style="top:467.1px">4</div>
<div class="t yl" style="top:391.1px">5</div>
<div class="t yl" style="top:315.1px">6</div>
<div class="t yl" style="top:239.1px">7</div>
<div class="t yl" style="top:163.1px">8</div>
<div class="t yl" style="top:87.1px">9</div>
<div class="t yl" style="top:11.1px">10</div>
<div class="t xl" style="left:33.0px">00</div>
<div class="t xl" style="left:241.3px">02</div>
<div class="t xl" style="left:461.2px">04</div>
<div class="t xl" style="left:681.0px">06</div>
<div class="t xl" style="left:900.8px">08</div>
<div class="t xl" style="left:1120.7px">10</div>
<div class="t xl" style="left:1340.5px">12</div>
<div class="t xl" style="left:1560.3px">14</div>
<div class="t xl" style="left:1780.2px">16</div>
<div class="t xl" style="left:2000.0px">18</div>
<div class="t xl" style="left:2219.8px">20</div>
<div class="t xl" style="left:2439.7px">22</div>
<div class="t xl" style="left:2659.5px">24</div>
<div class="t cl" style="top:770.4px">0</div>
<div class="t cl" style="top:694.5px">10</div>
<div class="t cl" style="top:618.6px">20</div>
<div class="t cl" style="top:542.7px">30</div>
<div class="t cl" style="top:466.8px">40</div>
<div class="t cl" style="top:390.9px">50</div>
<div class="t cl" style="top:315.0px">60</div>
<div class="t cl" style="top:239.1px">70</div>
<div class="t cl" style="top:163.2px">80</div>
<div class="t cl" style="top:87.3px">90</div>
<div class="t cl" style="top:11.4px">100</div>
<div class="t" style="left:570.1px;top:0.8px;transform:scaleX(1.0333)">Meteorological Institute of Ludwig-Maximilians-Universität (München, Germany; 48.148 N / 11.573 E):&nbsp;&nbsp;&nbsp;&nbsp;HatPro: 07-10-2019</div>
<div class="t" style="left:610.8px;top:808.7px;transform:scaleX(1.0165)">sunrise</div>
<div class="t" style="left:1862.8px;top:808.7px;transform:scaleX(1.015)">sunset</div>
<div class="t" style="left:1315.8px;top:816px;transform:scaleX(1.009)">Time [UTC]</div>
<div class="t" style="left:-0.1px;top:583.5px;transform:rotate(-90deg) scaleX(1.05)">Height above ground [km]</div>
<div class="t" style="left:2964px;top:559.5px;transform:rotate(-90deg) scaleX(1.0387)">Relative Humidity in %</div>
</body></html>
